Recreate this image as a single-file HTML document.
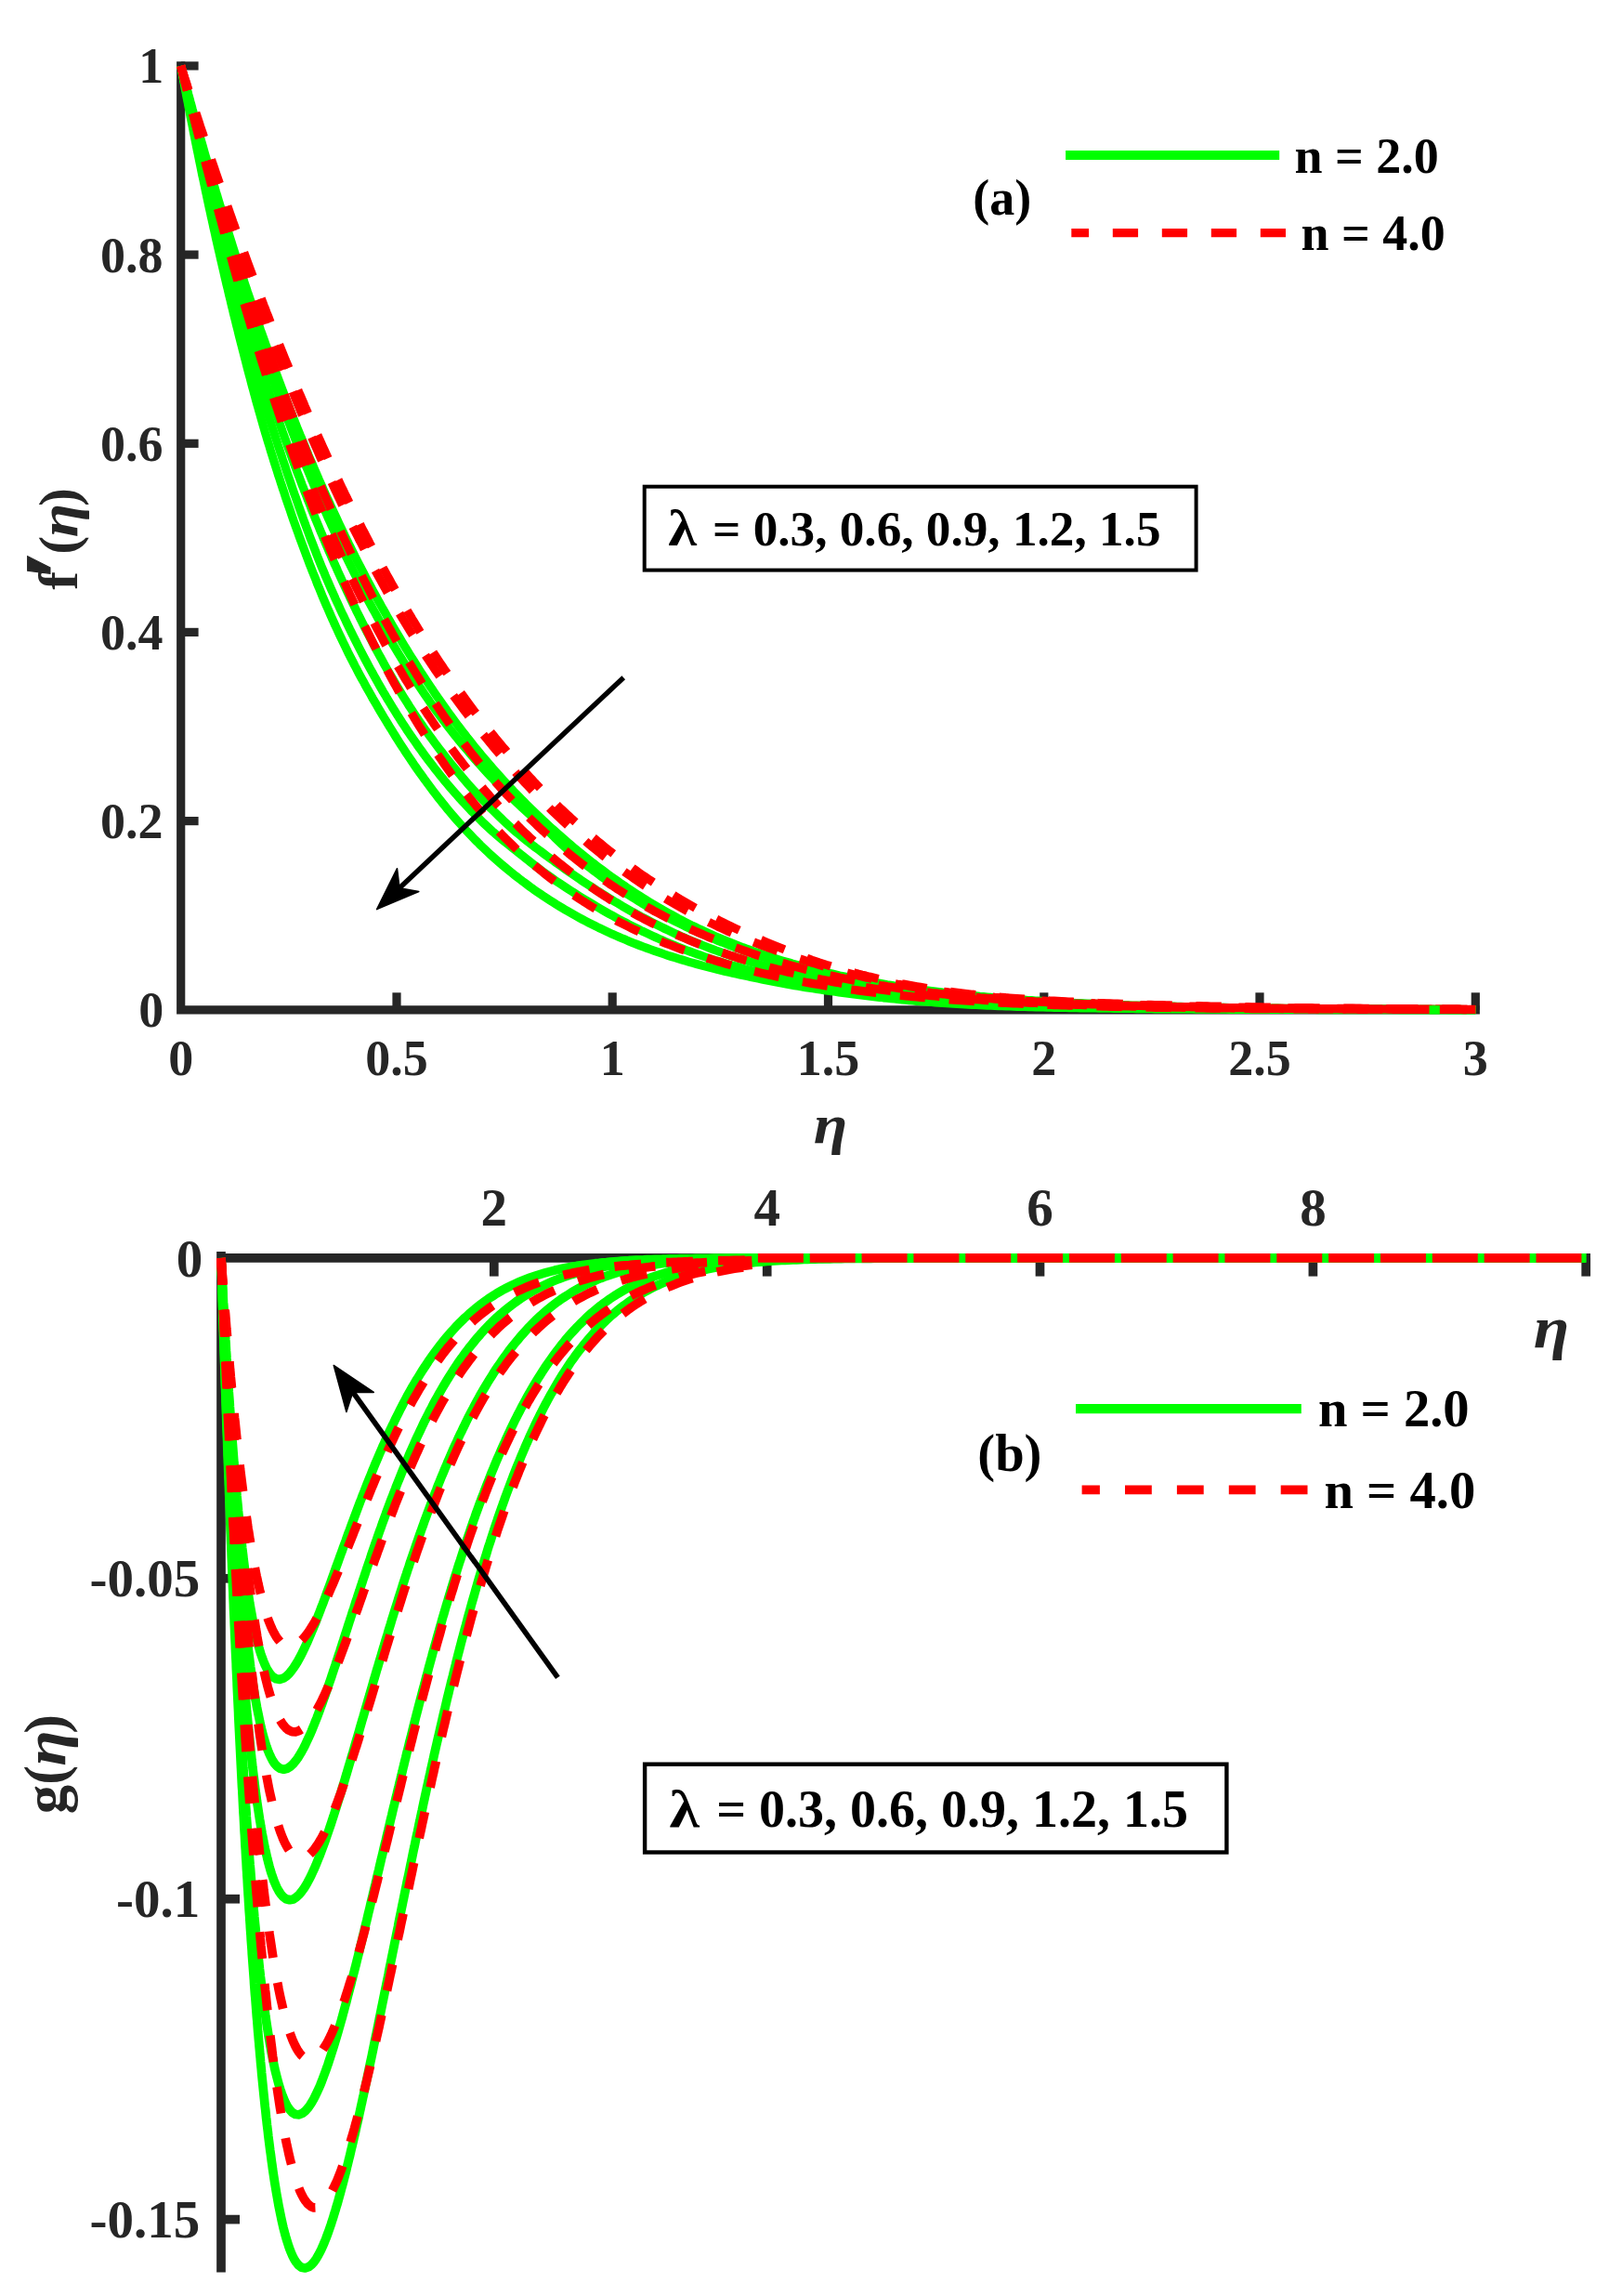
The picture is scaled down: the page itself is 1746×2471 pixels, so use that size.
<!DOCTYPE html>
<html><head><meta charset="utf-8"><title>Velocity profiles</title><style>html,body{margin:0;padding:0;background:#fff}svg{display:block}</style></head><body>
<svg width="1746" height="2471" viewBox="0 0 1746 2471">
<rect width="1746" height="2471" fill="#ffffff"/>
<g stroke="#262626" stroke-width="9.2" fill="none" stroke-linecap="butt">
<path d="M194.7,66.3V1086.8H1592.9" stroke-linejoin="miter"/>
<path d="M194.7,70.9H213.6"/>
<path d="M194.7,274.1H213.6"/>
<path d="M194.7,477.3H213.6"/>
<path d="M194.7,680.4H213.6"/>
<path d="M194.7,883.6H213.6"/>
<path d="M427.0,1086.8V1068.3"/>
<path d="M659.2,1086.8V1068.3"/>
<path d="M891.5,1086.8V1068.3"/>
<path d="M1123.8,1086.8V1068.3"/>
<path d="M1356.0,1086.8V1068.3"/>
<path d="M1588.3,1086.8V1068.3"/>
</g>
<g font-family="'Liberation Serif', 'Times New Roman', serif" font-weight="bold" font-size="54" fill="#262626">
<text x="176.3" y="89.3" text-anchor="end">1</text>
<text x="175.5" y="292.5" text-anchor="end">0.8</text>
<text x="175.5" y="495.7" text-anchor="end">0.6</text>
<text x="175.5" y="698.8" text-anchor="end">0.4</text>
<text x="175.5" y="902.0" text-anchor="end">0.2</text>
<text x="176.3" y="1105.2" text-anchor="end">0</text>
<text x="194.7" y="1157" text-anchor="middle">0</text>
<text x="427.0" y="1157" text-anchor="middle">0.5</text>
<text x="659.2" y="1157" text-anchor="middle">1</text>
<text x="891.5" y="1157" text-anchor="middle">1.5</text>
<text x="1123.8" y="1157" text-anchor="middle">2</text>
<text x="1356.0" y="1157" text-anchor="middle">2.5</text>
<text x="1588.3" y="1157" text-anchor="middle">3</text>
</g>
<g font-family="'Liberation Serif', 'Times New Roman', serif" font-weight="bold" font-size="59.4" fill="#262626" text-anchor="middle" transform="translate(82.6,580) rotate(-90)">
<text x="-44.75" y="0">f</text>
<text transform="translate(-28,15) scale(1.2,1)" font-size="104" stroke="#262626" stroke-width="1">′</text>
<text x="-6.5" y="0">(</text>
<text transform="translate(20.1,0) scale(1.12,1)" font-style="italic">η</text>
<text x="44.8" y="0">)</text>
</g>
<text font-family="'Liberation Serif', 'Times New Roman', serif" font-weight="bold" font-size="59.4" fill="#262626" text-anchor="middle" font-style="italic" transform="translate(894,1230.2) scale(1.12,1)">η</text>
<g fill="none" stroke-width="9.2" stroke-linecap="butt" stroke-linejoin="round">
<path stroke="#00ff00" d="M194.7,70.9L195.7,74.8L196.7,78.7L197.8,82.6L198.8,86.4L199.8,90.3L200.9,94.2L201.9,98.1L202.9,102.0L204.0,105.8L205.0,109.7L206.1,113.6L207.1,117.5L208.2,121.3L209.2,125.2L210.3,129.1L211.4,132.9L212.5,136.8L213.5,140.7L214.6,144.5L215.7,148.4L216.8,152.3L217.9,156.1L219.0,160.0L220.1,163.9L221.2,167.7L222.3,171.6L223.4,175.4L224.5,179.3L225.6,183.2L226.8,187.0L227.9,190.9L229.0,194.7L230.1,198.6L231.3,202.4L232.4,206.3L233.6,210.1L234.7,214.0L235.9,217.8L237.0,221.7L238.2,225.5L239.4,229.3L240.6,233.2L241.7,237.0L242.9,240.9L244.1,244.7L245.3,248.5L246.5,252.4L247.7,256.2L248.9,260.0L250.1,263.9L251.3,267.7L252.5,271.5L253.7,275.3L255.0,279.2L256.2,283.0L257.4,286.8L258.7,290.6L259.9,294.4L261.2,298.3L262.4,302.1L263.7,305.9L265.0,309.7L266.2,313.5L267.5,317.3L268.8,321.1L270.1,324.9L271.4,328.7L272.7,332.5L274.0,336.3L275.3,340.1L276.6,343.9L277.9,347.7L279.2,351.5L280.5,355.3L281.9,359.1L283.2,362.9L284.6,366.7L285.9,370.4L287.3,374.2L288.6,378.0L290.0,381.8L291.3,385.5L292.7,389.3L294.1,393.1L295.5,396.9L296.9,400.6L298.3,404.4L299.7,408.1L301.1,411.9L302.5,415.7L303.9,419.4L305.4,423.2L306.8,426.9L308.2,430.7L309.7,434.4L311.2,438.2L312.6,441.9L314.1,445.6L315.6,449.4L317.0,453.1L318.5,456.8L320.0,460.6L321.5,464.3L323.0,468.0L324.6,471.7L326.1,475.4L327.6,479.1L329.2,482.9L330.7,486.6L332.2,490.3L333.8,494.0L335.4,497.7L337.0,501.4L338.5,505.0L340.1,508.7L341.7,512.4L343.3,516.1L345.0,519.8L346.6,523.4L348.2,527.1L349.8,530.8L351.5,534.4L353.2,538.1L354.8,541.8L356.5,545.4L358.2,549.0L359.9,552.7L361.6,556.3L363.3,560.0L365.0,563.6L366.7,567.2L368.4,570.8L370.2,574.5L371.9,578.1L373.7,581.7L375.4,585.3L377.2,588.9L379.0,592.5L380.8,596.1L382.6,599.7L384.4,603.3L386.2,606.8L388.1,610.4L389.9,614.0L391.8,617.5L393.6,621.1L395.5,624.6L397.4,628.2L399.3,631.7L401.2,635.3L403.1,638.8L405.0,642.3L406.9,645.9L408.9,649.4L410.8,652.9L412.8,656.4L414.8,659.9L416.7,663.4L418.7,666.9L420.7,670.4L422.7,673.8L424.8,677.3L426.8,680.8L428.8,684.2L430.9,687.7L432.9,691.1L435.0,694.6L437.1,698.0L439.2,701.4L441.3,704.8L443.4,708.2L445.6,711.6L447.7,715.0L449.9,718.4L452.0,721.8L454.2,725.2L456.4,728.5L458.6,731.9L460.8,735.3L463.0,738.6L465.3,741.9L467.5,745.2L469.8,748.6L472.1,751.9L474.4,755.2L476.7,758.4L479.0,761.7L481.3,765.0L483.7,768.2L486.1,771.5L488.4,774.7L490.8,777.9L493.2,781.2L495.7,784.4L498.1,787.5L500.6,790.7L503.0,793.9L505.5,797.0L508.0,800.2L510.5,803.3L513.1,806.4L515.6,809.5L518.2,812.6L520.8,815.7L523.4,818.8L526.0,821.8L528.6,824.8L531.2,827.9L533.9,830.9L536.6,833.9L539.3,836.9L542.0,839.8L544.7,842.8L547.4,845.7L550.2,848.6L552.9,851.6L555.7,854.5L558.5,857.3L561.3,860.2L564.2,863.1L567.0,865.9L569.9,868.7L572.7,871.5L575.6,874.3L578.5,877.1L581.4,879.9L584.3,882.6L587.3,885.4L590.2,888.1L593.2,890.8L596.2,893.5L599.2,896.2L602.2,898.8L605.2,901.5L608.2,904.1L611.3,906.7L614.3,909.3L617.4,911.9L620.5,914.5L623.6,917.0L626.7,919.6L629.8,922.1L633.0,924.6L636.1,927.1L639.3,929.5L642.5,932.0L645.7,934.4L648.9,936.8L652.1,939.2L655.4,941.6L658.6,943.9L661.9,946.3L665.2,948.6L668.4,950.9L671.8,953.1L675.1,955.4L678.4,957.6L681.8,959.8L685.1,962.0L688.5,964.2L691.9,966.4L695.3,968.5L698.7,970.6L702.2,972.7L705.6,974.7L709.1,976.7L712.6,978.8L716.1,980.7L719.6,982.7L723.1,984.6L726.6,986.6L730.1,988.5L733.7,990.3L737.3,992.2L740.8,994.0L744.4,995.8L748.0,997.5L751.7,999.3L755.3,1001.0L758.9,1002.7L762.6,1004.4L766.2,1006.0L769.9,1007.6L773.6,1009.2L777.3,1010.8L781.0,1012.3L784.7,1013.8L788.5,1015.3L792.2,1016.8L795.9,1018.2L799.7,1019.7L803.5,1021.0L807.2,1022.4L811.0,1023.8L814.8,1025.1L818.6,1026.4L822.4,1027.7L826.2,1028.9L830.1,1030.2L833.9,1031.4L837.7,1032.6L841.6,1033.8L845.4,1034.9L849.3,1036.0L853.1,1037.2L857.0,1038.2L860.8,1039.3L864.7,1040.4L868.6,1041.4L872.5,1042.4L876.4,1043.4L880.3,1044.4L884.2,1045.3L888.1,1046.3L892.0,1047.2L895.9,1048.1L899.8,1049.0L903.7,1049.9L907.7,1050.7L911.6,1051.6L915.5,1052.4L919.5,1053.2L923.4,1054.0L927.3,1054.7L931.3,1055.5L935.2,1056.2L939.2,1056.9L943.1,1057.6L947.1,1058.3L951.0,1059.0L955.0,1059.7L959.0,1060.3L962.9,1061.0L966.9,1061.6L970.9,1062.2L974.8,1062.8L978.8,1063.4L982.8,1063.9L986.8,1064.5L990.7,1065.0L994.7,1065.6L998.7,1066.1L1002.7,1066.6L1006.7,1067.1L1010.7,1067.6L1014.6,1068.1L1018.6,1068.5L1022.6,1069.0L1026.6,1069.4L1030.6,1069.9L1034.6,1070.3L1038.6,1070.7L1042.6,1071.1L1046.6,1071.5L1050.6,1071.9L1054.6,1072.3L1058.6,1072.6L1062.6,1073.0L1066.6,1073.4L1070.6,1073.7L1074.6,1074.0L1078.6,1074.4L1082.6,1074.7L1086.6,1075.0L1090.6,1075.3L1094.6,1075.6L1098.6,1075.9L1102.6,1076.2L1106.6,1076.5L1110.6,1076.7L1114.6,1077.0L1118.6,1077.2L1122.6,1077.5L1126.6,1077.7L1130.7,1078.0L1134.7,1078.2L1138.7,1078.4L1142.7,1078.7L1146.7,1078.9L1150.7,1079.1L1154.7,1079.3L1158.7,1079.5L1162.7,1079.7L1166.7,1079.9L1170.8,1080.1L1174.8,1080.2L1178.8,1080.4L1182.8,1080.6L1186.8,1080.8L1190.8,1080.9L1194.8,1081.1L1198.8,1081.2L1202.9,1081.4L1206.9,1081.5L1210.9,1081.7L1214.9,1081.8L1218.9,1082.0L1222.9,1082.1L1226.9,1082.2L1230.9,1082.3L1235.0,1082.5L1239.0,1082.6L1243.0,1082.7L1247.0,1082.8L1251.0,1082.9L1255.0,1083.0L1259.0,1083.1L1263.1,1083.2L1267.1,1083.3L1271.1,1083.4L1275.1,1083.5L1279.1,1083.6L1283.1,1083.7L1287.1,1083.8L1291.2,1083.9L1295.2,1084.0L1299.2,1084.0L1303.2,1084.1L1307.2,1084.2L1311.2,1084.3L1315.2,1084.3L1319.3,1084.4L1323.3,1084.5L1327.3,1084.6L1331.3,1084.6L1335.3,1084.7L1339.3,1084.7L1343.4,1084.8L1347.4,1084.9L1351.4,1084.9L1355.4,1085.0L1359.4,1085.0L1363.4,1085.1L1367.4,1085.1L1371.5,1085.2L1375.5,1085.2L1379.5,1085.3L1383.5,1085.3L1387.5,1085.4L1391.5,1085.4L1395.5,1085.4L1399.6,1085.5L1403.6,1085.5L1407.6,1085.6L1411.6,1085.6L1415.6,1085.6L1419.6,1085.7L1423.7,1085.7L1427.7,1085.7L1431.7,1085.8L1435.7,1085.8L1439.7,1085.8L1443.7,1085.9L1447.7,1085.9L1451.8,1085.9L1455.8,1085.9L1459.8,1086.0L1463.8,1086.0L1467.8,1086.0L1471.8,1086.0L1475.9,1086.1L1479.9,1086.1L1483.9,1086.1L1487.9,1086.1L1491.9,1086.1L1495.9,1086.2L1499.9,1086.2L1504.0,1086.2L1508.0,1086.2L1512.0,1086.2L1516.0,1086.3L1520.0,1086.3L1524.0,1086.3L1528.1,1086.3L1532.1,1086.3L1536.1,1086.3L1540.1,1086.3L1544.1,1086.4L1548.1,1086.4L1552.2,1086.4L1556.2,1086.4L1560.2,1086.4L1564.2,1086.4L1568.2,1086.4L1572.2,1086.4L1576.2,1086.5L1580.3,1086.5L1584.3,1086.5L1588.3,1086.5"/>
<path stroke="#00ff00" d="M194.7,70.9L195.7,74.8L196.6,78.7L197.6,82.6L198.5,86.5L199.5,90.4L200.5,94.3L201.5,98.2L202.4,102.1L203.4,105.9L204.4,109.8L205.4,113.7L206.4,117.6L207.4,121.5L208.4,125.4L209.4,129.3L210.4,133.2L211.4,137.0L212.4,140.9L213.4,144.8L214.5,148.7L215.5,152.6L216.5,156.4L217.5,160.3L218.6,164.2L219.6,168.1L220.7,172.0L221.7,175.8L222.8,179.7L223.8,183.6L224.9,187.4L225.9,191.3L227.0,195.2L228.1,199.0L229.2,202.9L230.2,206.8L231.3,210.6L232.4,214.5L233.5,218.4L234.6,222.2L235.7,226.1L236.8,229.9L237.9,233.8L239.0,237.6L240.2,241.5L241.3,245.4L242.4,249.2L243.5,253.1L244.7,256.9L245.8,260.8L247.0,264.6L248.1,268.4L249.3,272.3L250.4,276.1L251.6,280.0L252.8,283.8L253.9,287.6L255.1,291.5L256.3,295.3L257.5,299.1L258.7,303.0L259.9,306.8L261.1,310.6L262.3,314.5L263.5,318.3L264.7,322.1L265.9,325.9L267.2,329.8L268.4,333.6L269.7,337.4L270.9,341.2L272.1,345.0L273.4,348.8L274.7,352.6L275.9,356.4L277.2,360.2L278.5,364.1L279.8,367.9L281.1,371.7L282.4,375.5L283.7,379.2L285.0,383.0L286.3,386.8L287.6,390.6L288.9,394.4L290.2,398.2L291.6,402.0L292.9,405.8L294.3,409.5L295.6,413.3L297.0,417.1L298.4,420.9L299.7,424.6L301.1,428.4L302.5,432.2L303.9,435.9L305.3,439.7L306.7,443.5L308.1,447.2L309.5,451.0L311.0,454.7L312.4,458.5L313.8,462.2L315.3,466.0L316.7,469.7L318.2,473.4L319.7,477.2L321.1,480.9L322.6,484.6L324.1,488.4L325.6,492.1L327.1,495.8L328.6,499.5L330.1,503.2L331.7,506.9L333.2,510.6L334.7,514.4L336.3,518.1L337.8,521.8L339.4,525.5L341.0,529.1L342.6,532.8L344.1,536.5L345.7,540.2L347.3,543.9L348.9,547.6L350.6,551.2L352.2,554.9L353.8,558.6L355.5,562.2L357.1,565.9L358.8,569.5L360.5,573.2L362.1,576.8L363.8,580.5L365.5,584.1L367.2,587.7L369.0,591.4L370.7,595.0L372.4,598.6L374.2,602.2L375.9,605.8L377.7,609.4L379.5,613.0L381.3,616.6L383.1,620.2L384.9,623.8L386.7,627.4L388.5,630.9L390.3,634.5L392.2,638.1L394.1,641.6L395.9,645.2L397.8,648.7L399.7,652.2L401.6,655.8L403.6,659.3L405.5,662.8L407.4,666.3L409.4,669.8L411.4,673.3L413.3,676.8L415.3,680.3L417.3,683.8L419.3,687.2L421.4,690.7L423.4,694.2L425.5,697.6L427.5,701.0L429.6,704.5L431.7,707.9L433.8,711.3L435.9,714.7L438.0,718.1L440.2,721.5L442.3,724.9L444.5,728.3L446.7,731.6L448.9,735.0L451.1,738.3L453.4,741.7L455.6,745.0L457.9,748.3L460.2,751.6L462.4,754.9L464.8,758.2L467.1,761.5L469.4,764.7L471.8,768.0L474.2,771.2L476.6,774.4L479.0,777.6L481.4,780.8L483.9,784.0L486.4,787.1L488.9,790.3L491.4,793.4L493.9,796.5L496.4,799.6L499.0,802.7L501.6,805.8L504.2,808.9L506.8,811.9L509.4,814.9L512.0,818.0L514.7,821.0L517.4,823.9L520.1,826.9L522.8,829.9L525.5,832.8L528.3,835.7L531.1,838.6L533.8,841.5L536.6,844.4L539.4,847.3L542.3,850.1L545.1,852.9L548.0,855.8L550.9,858.6L553.8,861.3L556.7,864.1L559.6,866.8L562.5,869.6L565.5,872.3L568.5,875.0L571.4,877.7L574.4,880.3L577.4,883.0L580.5,885.6L583.5,888.3L586.4,891.0L589.3,893.8L592.2,896.5L595.1,899.3L598.0,902.1L600.9,904.9L603.8,907.7L606.7,910.4L609.7,913.1L612.7,915.8L615.8,918.4L618.8,921.0L621.9,923.5L625.0,926.1L628.2,928.6L631.3,931.1L634.5,933.5L637.6,936.0L640.8,938.4L644.1,940.8L647.3,943.2L650.5,945.5L653.8,947.9L657.1,950.2L660.4,952.5L663.7,954.7L667.1,956.9L670.4,959.1L673.8,961.3L677.2,963.5L680.6,965.6L684.0,967.7L687.4,969.8L690.8,971.9L694.3,973.9L697.8,975.9L701.3,977.9L704.8,979.9L708.3,981.8L711.8,983.7L715.3,985.6L718.9,987.5L722.5,989.3L726.0,991.1L729.6,992.9L733.2,994.7L736.8,996.5L740.5,998.2L744.1,999.9L747.7,1001.6L751.4,1003.2L755.1,1004.8L758.7,1006.4L762.4,1008.0L766.1,1009.6L769.8,1011.1L773.5,1012.7L777.3,1014.1L781.0,1015.6L784.7,1017.1L788.5,1018.5L792.2,1019.9L796.0,1021.3L799.8,1022.7L803.6,1024.0L807.4,1025.3L811.1,1026.7L814.9,1027.9L818.8,1029.2L822.6,1030.4L826.4,1031.7L830.2,1032.9L834.1,1034.0L837.9,1035.2L841.7,1036.3L845.6,1037.5L849.5,1038.6L853.3,1039.6L857.2,1040.7L861.1,1041.7L865.0,1042.8L868.8,1043.8L872.7,1044.7L876.6,1045.7L880.5,1046.7L884.4,1047.6L888.3,1048.5L892.2,1049.4L896.2,1050.3L900.1,1051.1L904.0,1052.0L907.9,1052.8L911.9,1053.6L915.8,1054.4L919.7,1055.2L923.7,1055.9L927.6,1056.7L931.6,1057.4L935.5,1058.1L939.5,1058.8L943.4,1059.5L947.4,1060.2L951.3,1060.8L955.3,1061.5L959.3,1062.1L963.2,1062.7L967.2,1063.3L971.2,1063.9L975.1,1064.5L979.1,1065.0L983.1,1065.6L987.1,1066.1L991.0,1066.6L995.0,1067.1L999.0,1067.6L1003.0,1068.1L1007.0,1068.6L1011.0,1069.1L1014.9,1069.5L1018.9,1070.0L1022.9,1070.4L1026.9,1070.8L1030.9,1071.2L1034.9,1071.6L1038.9,1072.0L1042.9,1072.4L1046.9,1072.8L1050.9,1073.2L1054.9,1073.5L1058.9,1073.9L1062.9,1074.2L1066.9,1074.5L1070.9,1074.9L1074.9,1075.2L1078.9,1075.5L1082.9,1075.8L1086.9,1076.1L1090.9,1076.4L1094.9,1076.6L1098.9,1076.9L1102.9,1077.2L1106.9,1077.4L1110.9,1077.7L1114.9,1077.9L1118.9,1078.2L1122.9,1078.4L1126.9,1078.6L1130.9,1078.8L1134.9,1079.1L1138.9,1079.3L1143.0,1079.5L1147.0,1079.7L1151.0,1079.9L1155.0,1080.0L1159.0,1080.2L1163.0,1080.4L1167.0,1080.6L1171.0,1080.8L1175.0,1080.9L1179.0,1081.1L1183.0,1081.2L1187.1,1081.4L1191.1,1081.5L1195.1,1081.7L1199.1,1081.8L1203.1,1082.0L1207.1,1082.1L1211.1,1082.2L1215.1,1082.4L1219.1,1082.5L1223.1,1082.6L1227.2,1082.7L1231.2,1082.8L1235.2,1082.9L1239.2,1083.1L1243.2,1083.2L1247.2,1083.3L1251.2,1083.4L1255.2,1083.5L1259.3,1083.6L1263.3,1083.6L1267.3,1083.7L1271.3,1083.8L1275.3,1083.9L1279.3,1084.0L1283.3,1084.1L1287.3,1084.2L1291.3,1084.2L1295.4,1084.3L1299.4,1084.4L1303.4,1084.4L1307.4,1084.5L1311.4,1084.6L1315.4,1084.6L1319.4,1084.7L1323.4,1084.8L1327.5,1084.8L1331.5,1084.9L1335.5,1084.9L1339.5,1085.0L1343.5,1085.0L1347.5,1085.1L1351.5,1085.1L1355.5,1085.2L1359.6,1085.2L1363.6,1085.3L1367.6,1085.3L1371.6,1085.4L1375.6,1085.4L1379.6,1085.5L1383.6,1085.5L1387.6,1085.5L1391.7,1085.6L1395.7,1085.6L1399.7,1085.6L1403.7,1085.7L1407.7,1085.7L1411.7,1085.7L1415.7,1085.8L1419.7,1085.8L1423.8,1085.8L1427.8,1085.9L1431.8,1085.9L1435.8,1085.9L1439.8,1086.0L1443.8,1086.0L1447.8,1086.0L1451.9,1086.0L1455.9,1086.0L1459.9,1086.1L1463.9,1086.1L1467.9,1086.1L1471.9,1086.1L1475.9,1086.2L1479.9,1086.2L1484.0,1086.2L1488.0,1086.2L1492.0,1086.2L1496.0,1086.3L1500.0,1086.3L1504.0,1086.3L1508.0,1086.3L1512.0,1086.3L1516.1,1086.3L1520.1,1086.3L1524.1,1086.4L1528.1,1086.4L1532.1,1086.4L1536.1,1086.4L1540.1,1086.4L1544.1,1086.4L1548.2,1086.4L1552.2,1086.4L1556.2,1086.5L1560.2,1086.5L1564.2,1086.5L1568.2,1086.5L1572.2,1086.5L1576.3,1086.5L1580.3,1086.5L1584.3,1086.5L1588.3,1086.5"/>
<path stroke="#00ff00" d="M194.7,70.9L195.6,74.8L196.5,78.7L197.3,82.7L198.2,86.6L199.1,90.5L200.0,94.4L200.9,98.3L201.8,102.2L202.7,106.1L203.6,110.1L204.5,114.0L205.4,117.9L206.3,121.8L207.3,125.7L208.2,129.6L209.1,133.5L210.0,137.4L211.0,141.3L211.9,145.2L212.8,149.1L213.8,153.0L214.7,157.0L215.7,160.9L216.6,164.8L217.6,168.7L218.5,172.6L219.5,176.5L220.5,180.4L221.4,184.2L222.4,188.1L223.4,192.0L224.4,195.9L225.4,199.8L226.4,203.7L227.3,207.6L228.3,211.5L229.3,215.4L230.4,219.3L231.4,223.2L232.4,227.1L233.4,230.9L234.4,234.8L235.4,238.7L236.5,242.6L237.5,246.5L238.5,250.3L239.6,254.2L240.6,258.1L241.7,262.0L242.7,265.9L243.8,269.7L244.9,273.6L245.9,277.5L247.0,281.3L248.1,285.2L249.2,289.1L250.2,292.9L251.3,296.8L252.4,300.7L253.5,304.5L254.6,308.4L255.7,312.3L256.9,316.1L258.0,320.0L259.1,323.8L260.2,327.7L261.4,331.5L262.5,335.4L263.6,339.2L264.8,343.1L265.9,346.9L267.1,350.8L268.3,354.6L269.4,358.5L270.6,362.3L271.8,366.1L273.0,370.0L274.2,373.8L275.4,377.6L276.6,381.5L277.8,385.3L279.0,389.1L280.2,393.0L281.4,396.8L282.6,400.6L283.9,404.4L285.1,408.3L286.4,412.1L287.6,415.9L288.9,419.7L290.1,423.5L291.4,427.3L292.7,431.1L294.0,434.9L295.3,438.7L296.5,442.5L297.8,446.3L299.2,450.1L300.5,453.9L301.8,457.7L303.1,461.5L304.4,465.3L305.8,469.1L307.1,472.9L308.5,476.7L309.8,480.4L311.2,484.2L312.6,488.0L314.0,491.8L315.3,495.5L316.7,499.3L318.1,503.1L319.5,506.8L320.9,510.6L322.4,514.3L323.8,518.1L325.2,521.9L326.7,525.6L328.1,529.3L329.6,533.1L331.0,536.8L332.5,540.6L334.0,544.3L335.4,548.0L336.9,551.8L338.4,555.5L339.9,559.2L341.5,562.9L343.0,566.6L344.5,570.4L346.1,574.1L347.6,577.8L349.2,581.5L350.7,585.2L352.3,588.9L353.9,592.6L355.5,596.2L357.1,599.9L358.7,603.6L360.3,607.3L362.0,610.9L363.6,614.6L365.3,618.3L366.9,621.9L368.6,625.6L370.3,629.2L372.0,632.9L373.7,636.5L375.4,640.1L377.1,643.7L378.9,647.4L380.6,651.0L382.4,654.6L384.1,658.2L385.9,661.8L387.7,665.4L389.5,669.0L391.3,672.6L393.1,676.2L394.9,679.8L396.8,683.3L398.6,686.9L400.5,690.4L402.3,694.0L404.2,697.5L406.1,701.1L408.0,704.6L410.0,708.1L411.9,711.7L413.8,715.2L415.8,718.7L417.8,722.2L419.8,725.6L421.8,729.1L423.8,732.6L425.9,736.1L427.9,739.5L430.0,742.9L432.1,746.4L434.2,749.8L436.3,753.2L438.5,756.6L440.6,760.0L442.8,763.3L445.0,766.7L447.2,770.1L449.5,773.4L451.7,776.7L454.0,780.0L456.3,783.3L458.6,786.6L461.0,789.8L463.3,793.1L465.7,796.3L468.1,799.6L470.5,802.8L472.9,806.0L475.4,809.2L477.8,812.3L480.3,815.5L482.8,818.6L485.3,821.8L487.9,824.9L490.4,828.0L493.0,831.1L495.6,834.1L498.2,837.2L500.8,840.2L503.4,843.3L506.1,846.3L508.8,849.3L511.5,852.2L514.2,855.2L517.0,858.1L519.7,861.0L522.5,863.9L525.3,866.8L528.1,869.7L531.0,872.5L533.8,875.3L536.7,878.1L539.6,880.9L542.5,883.7L545.4,886.4L548.4,889.1L551.4,891.8L554.4,894.4L557.5,897.0L560.6,899.6L563.7,902.1L566.8,904.6L570.0,907.1L573.2,909.6L576.3,912.0L579.6,914.4L582.8,916.8L586.0,919.2L589.2,921.6L592.5,924.0L595.8,926.3L599.0,928.7L602.3,931.0L605.5,933.3L608.8,935.7L612.1,938.0L615.4,940.3L618.7,942.5L622.0,944.8L625.3,947.1L628.7,949.3L632.0,951.5L635.4,953.7L638.8,955.9L642.1,958.1L645.5,960.2L648.9,962.4L652.3,964.5L655.7,966.6L659.2,968.7L662.6,970.8L666.1,972.8L669.5,974.9L673.0,976.9L676.5,978.9L680.0,980.9L683.5,982.8L687.0,984.8L690.5,986.7L694.1,988.6L697.6,990.4L701.2,992.3L704.8,994.1L708.3,995.9L711.9,997.7L715.6,999.5L719.2,1001.2L722.8,1002.9L726.4,1004.6L730.1,1006.3L733.8,1007.9L737.4,1009.5L741.1,1011.1L744.8,1012.7L748.5,1014.2L752.3,1015.8L756.0,1017.3L759.7,1018.7L763.5,1020.2L767.2,1021.6L771.0,1023.0L774.8,1024.3L778.6,1025.7L782.4,1027.0L786.2,1028.3L790.0,1029.5L793.8,1030.8L797.6,1032.0L801.5,1033.2L805.3,1034.3L809.1,1035.5L813.0,1036.6L816.9,1037.7L820.7,1038.8L824.6,1039.9L828.5,1040.9L832.4,1041.9L836.2,1042.9L840.1,1043.9L844.0,1044.9L847.9,1045.9L851.8,1046.8L855.8,1047.7L859.7,1048.6L863.6,1049.5L867.5,1050.4L871.4,1051.2L875.4,1052.1L879.3,1052.9L883.2,1053.7L887.2,1054.5L891.1,1055.2L895.0,1056.0L899.0,1056.7L902.9,1057.5L906.9,1058.2L910.9,1058.9L914.8,1059.5L918.8,1060.2L922.7,1060.9L926.7,1061.5L930.7,1062.1L934.6,1062.7L938.6,1063.3L942.6,1063.9L946.6,1064.5L950.5,1065.0L954.5,1065.6L958.5,1066.1L962.5,1066.6L966.5,1067.1L970.4,1067.6L974.4,1068.1L978.4,1068.6L982.4,1069.1L986.4,1069.5L990.4,1070.0L994.4,1070.4L998.4,1070.8L1002.4,1071.2L1006.4,1071.6L1010.4,1072.0L1014.4,1072.4L1018.4,1072.8L1022.4,1073.2L1026.4,1073.5L1030.4,1073.9L1034.4,1074.2L1038.4,1074.6L1042.4,1074.9L1046.4,1075.2L1050.4,1075.5L1054.4,1075.8L1058.4,1076.1L1062.4,1076.4L1066.4,1076.7L1070.4,1076.9L1074.4,1077.2L1078.4,1077.5L1082.4,1077.7L1086.4,1078.0L1090.4,1078.2L1094.4,1078.4L1098.5,1078.7L1102.5,1078.9L1106.5,1079.1L1110.5,1079.3L1114.5,1079.5L1118.5,1079.7L1122.5,1079.9L1126.5,1080.1L1130.5,1080.3L1134.6,1080.4L1138.6,1080.6L1142.6,1080.8L1146.6,1081.0L1150.6,1081.1L1154.6,1081.3L1158.6,1081.4L1162.6,1081.6L1166.7,1081.7L1170.7,1081.9L1174.7,1082.0L1178.7,1082.1L1182.7,1082.3L1186.7,1082.4L1190.7,1082.5L1194.8,1082.6L1198.8,1082.8L1202.8,1082.9L1206.8,1083.0L1210.8,1083.1L1214.8,1083.2L1218.8,1083.3L1222.9,1083.4L1226.9,1083.5L1230.9,1083.6L1234.9,1083.7L1238.9,1083.8L1242.9,1083.9L1246.9,1083.9L1251.0,1084.0L1255.0,1084.1L1259.0,1084.2L1263.0,1084.3L1267.0,1084.3L1271.0,1084.4L1275.1,1084.5L1279.1,1084.5L1283.1,1084.6L1287.1,1084.7L1291.1,1084.7L1295.1,1084.8L1299.1,1084.9L1303.2,1084.9L1307.2,1085.0L1311.2,1085.0L1315.2,1085.1L1319.2,1085.1L1323.2,1085.2L1327.3,1085.2L1331.3,1085.3L1335.3,1085.3L1339.3,1085.4L1343.3,1085.4L1347.3,1085.5L1351.4,1085.5L1355.4,1085.5L1359.4,1085.6L1363.4,1085.6L1367.4,1085.6L1371.4,1085.7L1375.4,1085.7L1379.5,1085.7L1383.5,1085.8L1387.5,1085.8L1391.5,1085.8L1395.5,1085.9L1399.5,1085.9L1403.6,1085.9L1407.6,1086.0L1411.6,1086.0L1415.6,1086.0L1419.6,1086.0L1423.6,1086.1L1427.7,1086.1L1431.7,1086.1L1435.7,1086.1L1439.7,1086.1L1443.7,1086.2L1447.7,1086.2L1451.7,1086.2L1455.8,1086.2L1459.8,1086.2L1463.8,1086.3L1467.8,1086.3L1471.8,1086.3L1475.8,1086.3L1479.9,1086.3L1483.9,1086.3L1487.9,1086.4L1491.9,1086.4L1495.9,1086.4L1499.9,1086.4L1504.0,1086.4L1508.0,1086.4L1512.0,1086.4L1516.0,1086.4L1520.0,1086.5L1524.0,1086.5L1528.1,1086.5L1532.1,1086.5L1536.1,1086.5L1540.1,1086.5L1544.1,1086.5L1548.1,1086.5L1552.1,1086.5L1556.2,1086.5L1560.2,1086.6L1564.2,1086.6L1568.2,1086.6L1572.2,1086.6L1576.2,1086.6L1580.3,1086.6L1584.3,1086.6L1588.3,1086.6"/>
<path stroke="#00ff00" d="M194.7,70.9L195.5,74.8L196.3,78.8L197.1,82.7L197.9,86.6L198.7,90.6L199.6,94.5L200.4,98.4L201.2,102.4L202.0,106.3L202.8,110.2L203.7,114.2L204.5,118.1L205.4,122.0L206.2,125.9L207.0,129.9L207.9,133.8L208.7,137.7L209.6,141.6L210.4,145.6L211.3,149.5L212.2,153.4L213.0,157.3L213.9,161.2L214.8,165.2L215.7,169.1L216.5,173.0L217.4,176.9L218.3,180.8L219.2,184.8L220.1,188.7L221.0,192.6L221.9,196.5L222.8,200.4L223.7,204.3L224.6,208.2L225.5,212.1L226.5,216.1L227.4,220.0L228.3,223.9L229.2,227.8L230.2,231.7L231.1,235.6L232.1,239.5L233.0,243.4L234.0,247.3L234.9,251.2L235.9,255.1L236.8,259.0L237.8,262.9L238.8,266.8L239.7,270.7L240.7,274.6L241.7,278.5L242.7,282.4L243.7,286.3L244.7,290.2L245.7,294.0L246.7,297.9L247.7,301.8L248.7,305.7L249.7,309.6L250.7,313.5L251.7,317.4L252.8,321.2L253.8,325.1L254.8,329.0L255.9,332.9L256.9,336.8L258.0,340.6L259.0,344.5L260.1,348.4L261.2,352.2L262.2,356.1L263.3,360.0L264.4,363.9L265.5,367.7L266.6,371.6L267.7,375.5L268.8,379.3L269.9,383.2L271.0,387.0L272.1,390.9L273.2,394.7L274.4,398.6L275.5,402.5L276.6,406.3L277.8,410.2L278.9,414.0L280.1,417.9L281.2,421.7L282.4,425.5L283.6,429.4L284.7,433.2L285.9,437.1L287.1,440.9L288.3,444.7L289.5,448.6L290.7,452.4L291.9,456.2L293.1,460.1L294.4,463.9L295.6,467.7L296.8,471.5L298.1,475.3L299.3,479.2L300.6,483.0L301.8,486.8L303.1,490.6L304.3,494.4L305.6,498.2L306.9,502.0L308.1,505.8L309.4,509.7L310.7,513.5L312.0,517.3L313.3,521.1L314.6,524.9L315.9,528.7L317.2,532.4L318.6,536.2L319.9,540.0L321.2,543.8L322.6,547.6L323.9,551.4L325.3,555.2L326.6,558.9L328.0,562.7L329.4,566.5L330.8,570.2L332.2,574.0L333.6,577.8L335.0,581.5L336.5,585.3L337.9,589.0L339.4,592.8L340.8,596.5L342.3,600.2L343.8,604.0L345.3,607.7L346.8,611.4L348.4,615.1L349.9,618.8L351.5,622.5L353.1,626.2L354.7,629.9L356.3,633.6L357.9,637.2L359.6,640.9L361.2,644.6L362.9,648.2L364.6,651.9L366.2,655.5L367.9,659.2L369.7,662.8L371.4,666.4L373.1,670.0L374.9,673.7L376.6,677.3L378.4,680.9L380.2,684.5L382.0,688.1L383.8,691.6L385.6,695.2L387.4,698.8L389.3,702.4L391.1,705.9L393.0,709.5L394.9,713.0L396.8,716.6L398.7,720.1L400.7,723.6L402.6,727.1L404.6,730.6L406.5,734.1L408.5,737.6L410.5,741.1L412.5,744.6L414.6,748.0L416.6,751.5L418.7,754.9L420.8,758.3L422.9,761.8L425.0,765.2L427.1,768.6L429.3,772.0L431.4,775.4L433.6,778.7L435.8,782.1L438.0,785.5L440.3,788.8L442.5,792.1L444.8,795.4L447.1,798.7L449.4,802.0L451.7,805.3L454.1,808.5L456.4,811.8L458.8,815.0L461.2,818.2L463.7,821.4L466.1,824.6L468.6,827.8L471.1,830.9L473.6,834.1L476.1,837.2L478.6,840.3L481.2,843.4L483.8,846.5L486.4,849.5L489.0,852.5L491.7,855.6L494.4,858.6L497.1,861.5L499.8,864.5L502.5,867.4L505.3,870.4L508.0,873.3L510.8,876.1L513.7,879.0L516.5,881.8L519.4,884.7L522.2,887.4L525.2,890.2L528.1,892.9L531.1,895.6L534.2,898.2L537.2,900.8L540.3,903.4L543.4,905.9L546.6,908.4L549.7,910.9L552.8,913.4L556.0,915.9L559.1,918.4L562.3,920.9L565.4,923.4L568.6,925.9L571.7,928.4L574.9,930.9L578.1,933.3L581.3,935.7L584.5,938.1L587.8,940.5L591.0,942.8L594.3,945.1L597.6,947.4L600.9,949.7L604.3,951.9L607.6,954.1L611.0,956.3L614.3,958.5L617.7,960.7L621.1,962.8L624.5,965.0L627.9,967.1L631.3,969.2L634.8,971.3L638.2,973.3L641.7,975.4L645.1,977.4L648.6,979.4L652.1,981.4L655.6,983.4L659.1,985.3L662.6,987.3L666.2,989.2L669.7,991.1L673.3,992.9L676.8,994.8L680.4,996.6L684.0,998.4L687.6,1000.2L691.2,1002.0L694.8,1003.7L698.5,1005.4L702.1,1007.1L705.8,1008.8L709.4,1010.4L713.1,1012.0L716.8,1013.6L720.5,1015.2L724.2,1016.7L727.9,1018.3L731.6,1019.7L735.4,1021.2L739.1,1022.7L742.9,1024.1L746.6,1025.5L750.4,1026.9L754.2,1028.2L758.0,1029.5L761.8,1030.8L765.6,1032.1L769.4,1033.3L773.3,1034.5L777.1,1035.7L780.9,1036.9L784.8,1038.1L788.6,1039.2L792.5,1040.3L796.4,1041.3L800.2,1042.4L804.1,1043.4L808.0,1044.4L811.9,1045.4L815.8,1046.4L819.7,1047.3L823.6,1048.3L827.5,1049.2L831.4,1050.1L835.4,1050.9L839.3,1051.8L843.2,1052.6L847.1,1053.5L851.1,1054.3L855.0,1055.1L859.0,1055.8L862.9,1056.6L866.8,1057.4L870.8,1058.1L874.7,1058.8L878.7,1059.5L882.7,1060.2L886.6,1060.8L890.6,1061.5L894.5,1062.1L898.5,1062.8L902.5,1063.4L906.5,1064.0L910.4,1064.6L914.4,1065.1L918.4,1065.7L922.4,1066.2L926.3,1066.8L930.3,1067.3L934.3,1067.8L938.3,1068.3L942.3,1068.8L946.3,1069.2L950.3,1069.7L954.2,1070.2L958.2,1070.6L962.2,1071.0L966.2,1071.4L970.2,1071.9L974.2,1072.3L978.2,1072.6L982.2,1073.0L986.2,1073.4L990.2,1073.8L994.2,1074.1L998.2,1074.5L1002.2,1074.8L1006.2,1075.1L1010.2,1075.4L1014.2,1075.8L1018.2,1076.1L1022.2,1076.4L1026.2,1076.6L1030.2,1076.9L1034.2,1077.2L1038.3,1077.5L1042.3,1077.7L1046.3,1078.0L1050.3,1078.2L1054.3,1078.5L1058.3,1078.7L1062.3,1078.9L1066.3,1079.1L1070.3,1079.4L1074.3,1079.6L1078.3,1079.8L1082.4,1080.0L1086.4,1080.2L1090.4,1080.4L1094.4,1080.5L1098.4,1080.7L1102.4,1080.9L1106.4,1081.1L1110.4,1081.2L1114.5,1081.4L1118.5,1081.5L1122.5,1081.7L1126.5,1081.8L1130.5,1082.0L1134.5,1082.1L1138.5,1082.2L1142.6,1082.4L1146.6,1082.5L1150.6,1082.6L1154.6,1082.7L1158.6,1082.9L1162.6,1083.0L1166.6,1083.1L1170.7,1083.2L1174.7,1083.3L1178.7,1083.4L1182.7,1083.5L1186.7,1083.6L1190.7,1083.7L1194.7,1083.8L1198.8,1083.9L1202.8,1084.0L1206.8,1084.0L1210.8,1084.1L1214.8,1084.2L1218.8,1084.3L1222.8,1084.4L1226.9,1084.4L1230.9,1084.5L1234.9,1084.6L1238.9,1084.6L1242.9,1084.7L1246.9,1084.8L1251.0,1084.8L1255.0,1084.9L1259.0,1084.9L1263.0,1085.0L1267.0,1085.1L1271.0,1085.1L1275.0,1085.2L1279.1,1085.2L1283.1,1085.3L1287.1,1085.3L1291.1,1085.4L1295.1,1085.4L1299.1,1085.4L1303.2,1085.5L1307.2,1085.5L1311.2,1085.6L1315.2,1085.6L1319.2,1085.6L1323.2,1085.7L1327.3,1085.7L1331.3,1085.7L1335.3,1085.8L1339.3,1085.8L1343.3,1085.8L1347.3,1085.9L1351.3,1085.9L1355.4,1085.9L1359.4,1086.0L1363.4,1086.0L1367.4,1086.0L1371.4,1086.0L1375.4,1086.1L1379.5,1086.1L1383.5,1086.1L1387.5,1086.1L1391.5,1086.1L1395.5,1086.2L1399.5,1086.2L1403.6,1086.2L1407.6,1086.2L1411.6,1086.2L1415.6,1086.3L1419.6,1086.3L1423.6,1086.3L1427.7,1086.3L1431.7,1086.3L1435.7,1086.3L1439.7,1086.4L1443.7,1086.4L1447.7,1086.4L1451.7,1086.4L1455.8,1086.4L1459.8,1086.4L1463.8,1086.4L1467.8,1086.5L1471.8,1086.5L1475.8,1086.5L1479.9,1086.5L1483.9,1086.5L1487.9,1086.5L1491.9,1086.5L1495.9,1086.5L1499.9,1086.5L1504.0,1086.5L1508.0,1086.6L1512.0,1086.6L1516.0,1086.6L1520.0,1086.6L1524.0,1086.6L1528.1,1086.6L1532.1,1086.6L1536.1,1086.6L1540.1,1086.6L1544.1,1086.6L1548.1,1086.6L1552.1,1086.6L1556.2,1086.6L1560.2,1086.6L1564.2,1086.6L1568.2,1086.7L1572.2,1086.7L1576.2,1086.7L1580.3,1086.7L1584.3,1086.7L1588.3,1086.7"/>
<path stroke="#00ff00" d="M194.7,70.9L195.4,74.8L196.2,78.8L196.9,82.7L197.7,86.7L198.4,90.6L199.1,94.6L199.9,98.5L200.6,102.4L201.4,106.4L202.2,110.3L202.9,114.3L203.7,118.2L204.5,122.1L205.2,126.1L206.0,130.0L206.8,133.9L207.6,137.9L208.3,141.8L209.1,145.7L209.9,149.7L210.7,153.6L211.5,157.5L212.3,161.5L213.1,165.4L213.9,169.3L214.7,173.3L215.5,177.2L216.3,181.1L217.1,185.0L217.9,189.0L218.8,192.9L219.6,196.8L220.4,200.7L221.2,204.7L222.1,208.6L222.9,212.5L223.7,216.4L224.6,220.4L225.4,224.3L226.3,228.2L227.1,232.1L228.0,236.0L228.9,240.0L229.7,243.9L230.6,247.8L231.5,251.7L232.3,255.6L233.2,259.5L234.1,263.5L235.0,267.4L235.9,271.3L236.8,275.2L237.7,279.1L238.6,283.0L239.5,286.9L240.4,290.8L241.3,294.7L242.2,298.6L243.1,302.5L244.0,306.4L245.0,310.3L245.9,314.2L246.8,318.1L247.8,322.0L248.7,325.9L249.6,329.8L250.6,333.7L251.5,337.6L252.5,341.5L253.5,345.4L254.4,349.3L255.4,353.2L256.4,357.1L257.3,361.0L258.3,364.9L259.3,368.8L260.3,372.7L261.3,376.6L262.3,380.4L263.3,384.3L264.3,388.2L265.3,392.1L266.3,396.0L267.3,399.9L268.3,403.7L269.4,407.6L270.4,411.5L271.4,415.4L272.5,419.2L273.5,423.1L274.6,427.0L275.6,430.8L276.7,434.7L277.8,438.6L278.9,442.4L280.0,446.3L281.1,450.1L282.2,454.0L283.3,457.9L284.4,461.7L285.5,465.6L286.7,469.4L287.8,473.2L289.0,477.1L290.2,480.9L291.3,484.8L292.5,488.6L293.7,492.4L294.9,496.3L296.1,500.1L297.3,503.9L298.5,507.7L299.7,511.5L301.0,515.4L302.2,519.2L303.5,523.0L304.7,526.8L306.0,530.6L307.2,534.4L308.5,538.2L309.8,542.0L311.1,545.8L312.4,549.6L313.7,553.4L315.0,557.2L316.3,561.0L317.7,564.8L319.0,568.5L320.4,572.3L321.7,576.1L323.1,579.9L324.5,583.6L325.9,587.4L327.3,591.2L328.7,594.9L330.1,598.7L331.5,602.4L332.9,606.2L334.4,609.9L335.8,613.6L337.3,617.4L338.8,621.1L340.3,624.8L341.7,628.6L343.3,632.3L344.8,636.0L346.3,639.7L347.8,643.4L349.4,647.1L351.0,650.8L352.6,654.5L354.2,658.1L355.8,661.8L357.4,665.5L359.1,669.1L360.7,672.8L362.4,676.4L364.1,680.1L365.8,683.7L367.5,687.3L369.2,690.9L371.0,694.6L372.8,698.2L374.5,701.8L376.3,705.3L378.1,708.9L380.0,712.5L381.8,716.1L383.7,719.6L385.5,723.2L387.4,726.7L389.3,730.2L391.3,733.7L393.2,737.3L395.1,740.8L397.1,744.3L399.1,747.8L401.0,751.3L403.0,754.7L405.1,758.2L407.1,761.7L409.1,765.1L411.2,768.6L413.2,772.0L415.3,775.4L417.4,778.9L419.5,782.3L421.6,785.7L423.7,789.1L425.8,792.5L428.0,795.9L430.1,799.3L432.3,802.7L434.5,806.0L436.7,809.4L438.9,812.7L441.1,816.0L443.4,819.4L445.6,822.7L447.9,826.0L450.2,829.3L452.5,832.5L454.9,835.8L457.2,839.1L459.6,842.3L462.0,845.5L464.4,848.7L466.8,851.9L469.2,855.1L471.7,858.3L474.2,861.4L476.7,864.6L479.2,867.7L481.7,870.8L484.3,873.9L486.9,876.9L489.5,880.0L492.1,883.0L494.8,886.0L497.5,889.0L500.2,892.0L502.9,894.9L505.7,897.8L508.4,900.7L511.2,903.6L514.1,906.4L516.9,909.3L519.8,912.0L522.7,914.8L525.6,917.5L528.6,920.3L531.6,922.9L534.6,925.6L537.6,928.2L540.6,930.9L543.7,933.4L546.8,936.0L549.9,938.5L553.0,941.1L556.2,943.5L559.4,946.0L562.5,948.4L565.8,950.8L569.0,953.2L572.2,955.6L575.5,957.9L578.8,960.2L582.1,962.4L585.4,964.7L588.8,966.9L592.2,969.1L595.5,971.2L598.9,973.4L602.4,975.5L605.8,977.5L609.2,979.6L612.7,981.6L616.2,983.6L619.7,985.5L623.2,987.5L626.7,989.4L630.3,991.3L633.8,993.1L637.4,994.9L641.0,996.7L644.6,998.5L648.2,1000.2L651.8,1001.9L655.5,1003.6L659.1,1005.3L662.8,1006.9L666.5,1008.5L670.2,1010.1L673.9,1011.6L677.6,1013.2L681.3,1014.7L685.0,1016.1L688.8,1017.6L692.5,1019.0L696.3,1020.4L700.1,1021.8L703.8,1023.1L707.6,1024.4L711.4,1025.7L715.2,1027.0L719.0,1028.3L722.8,1029.5L726.7,1030.7L730.5,1031.9L734.3,1033.0L738.2,1034.2L742.0,1035.3L745.9,1036.4L749.8,1037.5L753.6,1038.5L757.5,1039.6L761.4,1040.6L765.3,1041.6L769.2,1042.6L773.0,1043.6L776.9,1044.5L780.8,1045.4L784.8,1046.3L788.7,1047.2L792.6,1048.1L796.5,1049.0L800.4,1049.8L804.3,1050.6L808.3,1051.5L812.2,1052.3L816.1,1053.1L820.1,1053.9L824.0,1054.7L827.9,1055.4L831.9,1056.2L835.8,1057.0L839.7,1057.7L843.7,1058.4L847.6,1059.2L851.6,1059.9L855.5,1060.6L859.5,1061.2L863.4,1061.9L867.4,1062.6L871.4,1063.2L875.3,1063.8L879.3,1064.4L883.3,1065.0L887.2,1065.6L891.2,1066.2L895.2,1066.8L899.1,1067.3L903.1,1067.9L907.1,1068.4L911.1,1068.9L915.0,1069.4L919.0,1070.0L923.0,1070.5L927.0,1071.0L931.0,1071.5L934.9,1071.9L938.9,1072.4L942.9,1072.9L946.9,1073.3L950.9,1073.8L954.9,1074.2L958.9,1074.6L962.8,1075.0L966.8,1075.4L970.8,1075.8L974.8,1076.2L978.8,1076.6L982.8,1076.9L986.8,1077.3L990.8,1077.6L994.8,1077.9L998.8,1078.2L1002.8,1078.5L1006.8,1078.8L1010.8,1079.1L1014.8,1079.4L1018.8,1079.7L1022.8,1079.9L1026.8,1080.2L1030.8,1080.4L1034.8,1080.7L1038.8,1080.9L1042.8,1081.1L1046.8,1081.3L1050.8,1081.5L1054.9,1081.7L1058.9,1081.9L1062.9,1082.1L1066.9,1082.2L1070.9,1082.4L1074.9,1082.6L1078.9,1082.7L1082.9,1082.9L1086.9,1083.0L1090.9,1083.1L1094.9,1083.3L1098.9,1083.4L1103.0,1083.5L1107.0,1083.6L1111.0,1083.7L1115.0,1083.8L1119.0,1083.9L1123.0,1084.0L1127.0,1084.1L1131.0,1084.2L1135.0,1084.3L1139.0,1084.3L1143.1,1084.4L1147.1,1084.5L1151.1,1084.6L1155.1,1084.6L1159.1,1084.7L1163.1,1084.8L1167.1,1084.8L1171.1,1084.9L1175.1,1085.0L1179.1,1085.0L1183.2,1085.1L1187.2,1085.1L1191.2,1085.2L1195.2,1085.2L1199.2,1085.3L1203.2,1085.3L1207.2,1085.4L1211.2,1085.4L1215.2,1085.5L1219.3,1085.5L1223.3,1085.6L1227.3,1085.6L1231.3,1085.6L1235.3,1085.7L1239.3,1085.7L1243.3,1085.8L1247.3,1085.8L1251.3,1085.8L1255.4,1085.9L1259.4,1085.9L1263.4,1085.9L1267.4,1085.9L1271.4,1086.0L1275.4,1086.0L1279.4,1086.0L1283.4,1086.0L1287.4,1086.1L1291.5,1086.1L1295.5,1086.1L1299.5,1086.1L1303.5,1086.2L1307.5,1086.2L1311.5,1086.2L1315.5,1086.2L1319.5,1086.2L1323.5,1086.3L1327.6,1086.3L1331.6,1086.3L1335.6,1086.3L1339.6,1086.3L1343.6,1086.3L1347.6,1086.4L1351.6,1086.4L1355.6,1086.4L1359.6,1086.4L1363.7,1086.4L1367.7,1086.4L1371.7,1086.4L1375.7,1086.4L1379.7,1086.5L1383.7,1086.5L1387.7,1086.5L1391.7,1086.5L1395.8,1086.5L1399.8,1086.5L1403.8,1086.5L1407.8,1086.5L1411.8,1086.5L1415.8,1086.5L1419.8,1086.6L1423.8,1086.6L1427.8,1086.6L1431.9,1086.6L1435.9,1086.6L1439.9,1086.6L1443.9,1086.6L1447.9,1086.6L1451.9,1086.6L1455.9,1086.6L1459.9,1086.6L1463.9,1086.6L1468.0,1086.6L1472.0,1086.6L1476.0,1086.6L1480.0,1086.6L1484.0,1086.7L1488.0,1086.7L1492.0,1086.7L1496.0,1086.7L1500.0,1086.7L1504.1,1086.7L1508.1,1086.7L1512.1,1086.7L1516.1,1086.7L1520.1,1086.7L1524.1,1086.7L1528.1,1086.7L1532.1,1086.7L1536.1,1086.7L1540.2,1086.7L1544.2,1086.7L1548.2,1086.7L1552.2,1086.7L1556.2,1086.7L1560.2,1086.7L1564.2,1086.7L1568.2,1086.7L1572.2,1086.7L1576.3,1086.7L1580.3,1086.7L1584.3,1086.7L1588.3,1086.7"/>
<path stroke="#ff0000" stroke-dasharray="27.3 25.7" d="M194.7,70.9L195.9,74.7L197.1,78.6L198.3,82.4L199.6,86.2L200.8,90.0L202.0,93.9L203.2,97.7L204.4,101.5L205.7,105.3L206.9,109.2L208.2,113.0L209.4,116.8L210.6,120.6L211.9,124.4L213.1,128.3L214.4,132.1L215.6,135.9L216.9,139.7L218.2,143.5L219.4,147.3L220.7,151.1L221.9,154.9L223.2,158.8L224.5,162.6L225.8,166.4L227.1,170.2L228.3,174.0L229.6,177.8L230.9,181.6L232.2,185.4L233.5,189.2L234.8,193.0L236.1,196.8L237.4,200.6L238.7,204.4L240.1,208.2L241.4,212.0L242.7,215.8L244.0,219.5L245.4,223.3L246.7,227.1L248.0,230.9L249.4,234.7L250.7,238.5L252.1,242.3L253.4,246.1L254.8,249.8L256.1,253.6L257.5,257.4L258.9,261.2L260.2,264.9L261.6,268.7L263.0,272.5L264.4,276.3L265.7,280.0L267.1,283.8L268.5,287.6L269.9,291.3L271.3,295.1L272.7,298.8L274.2,302.6L275.6,306.4L277.0,310.1L278.4,313.9L279.8,317.6L281.3,321.4L282.7,325.1L284.1,328.9L285.6,332.6L287.0,336.4L288.5,340.1L290.0,343.9L291.4,347.6L292.9,351.3L294.4,355.1L295.8,358.8L297.3,362.5L298.8,366.3L300.3,370.0L301.8,373.7L303.3,377.4L304.8,381.2L306.3,384.9L307.8,388.6L309.4,392.3L310.9,396.0L312.4,399.8L314.0,403.5L315.5,407.2L317.1,410.9L318.6,414.6L320.2,418.3L321.7,422.0L323.3,425.7L324.9,429.4L326.5,433.1L328.0,436.8L329.6,440.4L331.2,444.1L332.8,447.8L334.5,451.5L336.1,455.2L337.7,458.8L339.3,462.5L340.9,466.2L342.6,469.8L344.2,473.5L345.9,477.2L347.5,480.8L349.2,484.5L350.9,488.1L352.6,491.8L354.2,495.4L355.9,499.1L357.6,502.7L359.3,506.3L361.0,510.0L362.7,513.6L364.5,517.2L366.2,520.9L367.9,524.5L369.7,528.1L371.4,531.7L373.2,535.3L374.9,538.9L376.7,542.5L378.5,546.1L380.3,549.7L382.1,553.3L383.9,556.9L385.7,560.5L387.5,564.1L389.3,567.7L391.1,571.3L393.0,574.8L394.8,578.4L396.7,582.0L398.5,585.5L400.4,589.1L402.3,592.6L404.2,596.2L406.1,599.7L408.0,603.2L409.9,606.8L411.8,610.3L413.7,613.8L415.7,617.3L417.6,620.9L419.6,624.4L421.5,627.9L423.5,631.4L425.5,634.9L427.5,638.4L429.5,641.8L431.5,645.3L433.5,648.8L435.5,652.3L437.6,655.7L439.6,659.2L441.7,662.6L443.7,666.1L445.8,669.5L447.9,672.9L450.0,676.3L452.1,679.8L454.2,683.2L456.4,686.6L458.5,690.0L460.7,693.4L462.8,696.7L465.0,700.1L467.2,703.5L469.4,706.8L471.6,710.2L473.8,713.5L476.1,716.9L478.3,720.2L480.6,723.5L482.8,726.8L485.1,730.1L487.4,733.4L489.7,736.7L492.0,740.0L494.4,743.3L496.7,746.5L499.1,749.8L501.4,753.0L503.8,756.3L506.2,759.5L508.6,762.7L511.0,765.9L513.5,769.1L515.9,772.3L518.4,775.5L520.9,778.6L523.3,781.8L525.8,784.9L528.4,788.1L530.9,791.2L533.4,794.3L536.0,797.4L538.5,800.5L541.1,803.6L543.7,806.6L546.3,809.7L548.9,812.7L551.6,815.8L554.2,818.8L556.9,821.8L559.6,824.8L562.3,827.8L565.0,830.7L567.7,833.7L570.4,836.6L573.2,839.5L575.9,842.5L578.7,845.4L581.5,848.3L584.3,851.1L587.1,854.0L590.0,856.8L592.8,859.7L595.7,862.5L598.6,865.3L601.4,868.1L604.4,870.8L607.3,873.6L610.2,876.3L613.2,879.0L616.1,881.8L619.1,884.4L622.1,887.1L625.1,889.8L628.1,892.4L631.2,895.1L634.2,897.7L637.3,900.3L640.4,902.8L643.5,905.4L646.6,907.9L649.7,910.5L652.8,913.0L656.0,915.5L659.1,917.9L662.3,920.4L665.5,922.8L668.7,925.3L671.9,927.7L675.2,930.0L678.4,932.4L681.7,934.8L685.0,937.1L688.2,939.4L691.5,941.7L694.8,943.9L698.2,946.2L701.5,948.4L704.9,950.6L708.2,952.8L711.6,955.0L715.0,957.2L718.4,959.3L721.8,961.4L725.2,963.5L728.7,965.6L732.1,967.7L735.6,969.7L739.0,971.7L742.5,973.7L746.0,975.7L749.5,977.7L753.0,979.6L756.6,981.5L760.1,983.4L763.7,985.3L767.2,987.2L770.8,989.0L774.4,990.8L778.0,992.6L781.6,994.4L785.2,996.1L788.8,997.9L792.4,999.6L796.1,1001.3L799.7,1003.0L803.4,1004.6L807.0,1006.3L810.7,1007.9L814.4,1009.5L818.1,1011.1L821.8,1012.6L825.5,1014.2L829.2,1015.7L832.9,1017.2L836.7,1018.7L840.4,1020.2L844.1,1021.8L847.8,1023.3L851.5,1024.8L855.3,1026.2L859.0,1027.7L862.8,1029.1L866.5,1030.5L870.3,1031.9L874.1,1033.3L877.9,1034.6L881.7,1035.9L885.5,1037.1L889.3,1038.4L893.2,1039.5L897.0,1040.7L900.9,1041.8L904.7,1042.9L908.6,1044.0L912.5,1045.1L916.3,1046.1L920.2,1047.1L924.1,1048.2L928.0,1049.2L931.9,1050.1L935.8,1051.1L939.7,1052.0L943.6,1052.9L947.5,1053.8L951.4,1054.7L955.4,1055.5L959.3,1056.4L963.2,1057.2L967.2,1058.0L971.1,1058.8L975.1,1059.5L979.0,1060.2L983.0,1061.0L986.9,1061.7L990.9,1062.4L994.8,1063.0L998.8,1063.7L1002.8,1064.3L1006.7,1064.9L1010.7,1065.5L1014.7,1066.1L1018.6,1066.6L1022.6,1067.2L1026.6,1067.7L1030.6,1068.2L1034.6,1068.7L1038.6,1069.2L1042.5,1069.7L1046.5,1070.2L1050.5,1070.6L1054.5,1071.0L1058.5,1071.5L1062.5,1071.9L1066.5,1072.2L1070.5,1072.6L1074.5,1073.0L1078.5,1073.3L1082.5,1073.7L1086.5,1074.0L1090.5,1074.3L1094.5,1074.6L1098.5,1074.9L1102.5,1075.2L1106.5,1075.5L1110.5,1075.8L1114.6,1076.0L1118.6,1076.3L1122.6,1076.5L1126.6,1076.8L1130.6,1077.0L1134.6,1077.2L1138.6,1077.4L1142.6,1077.6L1146.6,1077.8L1150.6,1078.0L1154.7,1078.2L1158.7,1078.4L1162.7,1078.6L1166.7,1078.8L1170.7,1078.9L1174.7,1079.1L1178.7,1079.3L1182.7,1079.5L1186.8,1079.6L1190.8,1079.8L1194.8,1079.9L1198.8,1080.1L1202.8,1080.2L1206.8,1080.4L1210.8,1080.5L1214.8,1080.6L1218.9,1080.8L1222.9,1080.9L1226.9,1081.0L1230.9,1081.2L1234.9,1081.3L1238.9,1081.4L1242.9,1081.5L1247.0,1081.6L1251.0,1081.7L1255.0,1081.8L1259.0,1081.9L1263.0,1082.1L1267.0,1082.2L1271.0,1082.3L1275.1,1082.4L1279.1,1082.4L1283.1,1082.5L1287.1,1082.6L1291.1,1082.7L1295.1,1082.8L1299.2,1082.9L1303.2,1083.0L1307.2,1083.1L1311.2,1083.1L1315.2,1083.2L1319.2,1083.3L1323.2,1083.4L1327.3,1083.5L1331.3,1083.5L1335.3,1083.6L1339.3,1083.7L1343.3,1083.7L1347.3,1083.8L1351.4,1083.9L1355.4,1083.9L1359.4,1084.0L1363.4,1084.1L1367.4,1084.1L1371.4,1084.2L1375.4,1084.2L1379.5,1084.3L1383.5,1084.4L1387.5,1084.4L1391.5,1084.5L1395.5,1084.5L1399.5,1084.6L1403.6,1084.6L1407.6,1084.7L1411.6,1084.7L1415.6,1084.8L1419.6,1084.8L1423.6,1084.8L1427.7,1084.9L1431.7,1084.9L1435.7,1085.0L1439.7,1085.0L1443.7,1085.1L1447.7,1085.1L1451.7,1085.1L1455.8,1085.2L1459.8,1085.2L1463.8,1085.2L1467.8,1085.3L1471.8,1085.3L1475.8,1085.4L1479.9,1085.4L1483.9,1085.4L1487.9,1085.4L1491.9,1085.5L1495.9,1085.5L1499.9,1085.5L1504.0,1085.6L1508.0,1085.6L1512.0,1085.6L1516.0,1085.6L1520.0,1085.7L1524.0,1085.7L1528.0,1085.7L1532.1,1085.7L1536.1,1085.8L1540.1,1085.8L1544.1,1085.8L1548.1,1085.8L1552.1,1085.9L1556.2,1085.9L1560.2,1085.9L1564.2,1085.9L1568.2,1085.9L1572.2,1086.0L1576.2,1086.0L1580.3,1086.0L1584.3,1086.0L1588.3,1086.0"/>
<path stroke="#ff0000" stroke-dasharray="27.3 25.7" d="M194.7,70.9L195.9,74.7L197.0,78.6L198.2,82.4L199.3,86.3L200.5,90.1L201.6,94.0L202.8,97.8L204.0,101.6L205.1,105.5L206.3,109.3L207.5,113.2L208.7,117.0L209.9,120.8L211.0,124.7L212.2,128.5L213.4,132.3L214.6,136.2L215.8,140.0L217.0,143.8L218.2,147.7L219.4,151.5L220.6,155.3L221.8,159.1L223.1,163.0L224.3,166.8L225.5,170.6L226.7,174.4L227.9,178.3L229.2,182.1L230.4,185.9L231.6,189.7L232.9,193.5L234.1,197.4L235.4,201.2L236.6,205.0L237.9,208.8L239.1,212.6L240.4,216.4L241.7,220.2L242.9,224.1L244.2,227.9L245.5,231.7L246.7,235.5L248.0,239.3L249.3,243.1L250.6,246.9L251.9,250.7L253.2,254.5L254.5,258.3L255.8,262.1L257.1,265.9L258.4,269.7L259.7,273.5L261.0,277.3L262.4,281.0L263.7,284.8L265.0,288.6L266.4,292.4L267.7,296.2L269.0,300.0L270.4,303.8L271.7,307.5L273.1,311.3L274.4,315.1L275.8,318.9L277.2,322.6L278.6,326.4L279.9,330.2L281.3,333.9L282.7,337.7L284.1,341.5L285.5,345.2L286.9,349.0L288.3,352.8L289.7,356.5L291.1,360.3L292.5,364.0L294.0,367.8L295.4,371.5L296.8,375.3L298.3,379.0L299.7,382.8L301.2,386.5L302.6,390.3L304.1,394.0L305.6,397.7L307.0,401.5L308.5,405.2L310.0,408.9L311.5,412.7L313.0,416.4L314.5,420.1L316.0,423.8L317.5,427.6L319.0,431.3L320.5,435.0L322.1,438.7L323.6,442.4L325.1,446.1L326.7,449.8L328.2,453.5L329.8,457.2L331.4,460.9L332.9,464.6L334.5,468.3L336.1,472.0L337.7,475.7L339.3,479.4L340.9,483.0L342.5,486.7L344.1,490.4L345.7,494.1L347.4,497.7L349.0,501.4L350.6,505.1L352.3,508.7L354.0,512.4L355.6,516.0L357.3,519.7L359.0,523.3L360.7,527.0L362.4,530.6L364.1,534.2L365.8,537.9L367.5,541.5L369.2,545.1L371.0,548.7L372.7,552.3L374.4,556.0L376.2,559.6L378.0,563.2L379.7,566.8L381.5,570.4L383.3,574.0L385.1,577.5L386.9,581.1L388.8,584.7L390.6,588.3L392.4,591.9L394.3,595.4L396.1,599.0L398.0,602.5L399.9,606.1L401.7,609.6L403.6,613.2L405.5,616.7L407.4,620.2L409.4,623.8L411.3,627.3L413.2,630.8L415.2,634.3L417.1,637.8L419.1,641.3L421.1,644.8L423.1,648.3L425.1,651.7L427.1,655.2L429.2,658.7L431.2,662.1L433.3,665.6L435.3,669.0L437.4,672.5L439.5,675.9L441.6,679.3L443.7,682.7L445.8,686.1L448.0,689.5L450.1,692.9L452.3,696.3L454.4,699.7L456.6,703.0L458.8,706.4L461.0,709.7L463.3,713.1L465.5,716.4L467.7,719.8L470.0,723.1L472.3,726.4L474.6,729.7L476.9,733.0L479.2,736.3L481.5,739.5L483.8,742.8L486.2,746.1L488.5,749.3L490.9,752.5L493.3,755.8L495.7,759.0L498.1,762.2L500.5,765.4L502.9,768.6L505.4,771.8L507.8,775.0L510.3,778.1L512.8,781.3L515.3,784.4L517.8,787.6L520.3,790.7L522.9,793.8L525.4,796.9L528.0,800.0L530.5,803.1L533.1,806.2L535.7,809.2L538.3,812.3L540.9,815.3L543.5,818.4L546.2,821.4L548.8,824.4L551.5,827.4L554.2,830.4L556.8,833.4L559.5,836.4L562.3,839.3L565.0,842.3L567.7,845.2L570.5,848.1L573.2,851.0L576.0,853.9L578.8,856.8L581.6,859.7L584.4,862.6L587.2,865.4L590.1,868.2L592.9,871.1L595.8,873.9L598.7,876.7L601.6,879.4L604.5,882.2L607.4,884.9L610.4,887.7L613.4,890.4L616.3,893.1L619.3,895.7L622.3,898.4L625.3,901.1L628.4,903.7L631.4,906.3L634.5,908.9L637.6,911.5L640.7,914.0L643.8,916.5L646.9,919.1L650.1,921.6L653.2,924.0L656.4,926.5L659.6,928.9L662.8,931.3L666.0,933.7L669.3,936.1L672.5,938.4L675.8,940.8L679.1,943.1L682.4,945.4L685.7,947.6L689.0,949.9L692.3,952.1L695.7,954.3L699.1,956.5L702.5,958.6L705.9,960.8L709.3,962.9L712.7,965.0L716.1,967.0L719.6,969.1L723.1,971.1L726.5,973.1L730.0,975.1L733.5,977.1L737.0,979.0L740.6,980.9L744.1,982.8L747.7,984.7L751.2,986.5L754.8,988.4L758.4,990.2L762.0,991.9L765.6,993.7L769.2,995.4L772.8,997.2L776.5,998.9L780.1,1000.5L783.8,1002.2L787.4,1003.8L791.1,1005.4L794.8,1007.0L798.5,1008.6L802.2,1010.1L805.9,1011.7L809.6,1013.2L813.4,1014.7L817.1,1016.1L820.9,1017.6L824.6,1019.0L828.4,1020.4L832.1,1021.8L835.9,1023.2L839.7,1024.5L843.5,1025.9L847.3,1027.2L851.0,1028.5L854.8,1029.8L858.7,1031.1L862.5,1032.3L866.3,1033.6L870.1,1034.8L873.9,1036.0L877.8,1037.2L881.6,1038.4L885.5,1039.5L889.3,1040.7L893.2,1041.8L897.0,1042.9L900.9,1044.0L904.8,1045.0L908.6,1046.1L912.5,1047.1L916.4,1048.1L920.3,1049.1L924.2,1050.0L928.1,1051.0L932.0,1051.9L935.9,1052.8L939.8,1053.7L943.7,1054.6L947.7,1055.4L951.6,1056.2L955.5,1057.0L959.5,1057.8L963.4,1058.6L967.3,1059.4L971.3,1060.1L975.2,1060.8L979.2,1061.5L983.1,1062.2L987.1,1062.9L991.1,1063.5L995.0,1064.2L999.0,1064.8L1003.0,1065.4L1006.9,1066.0L1010.9,1066.5L1014.9,1067.1L1018.9,1067.6L1022.8,1068.2L1026.8,1068.7L1030.8,1069.2L1034.8,1069.6L1038.8,1070.1L1042.8,1070.6L1046.8,1071.0L1050.8,1071.4L1054.7,1071.8L1058.7,1072.2L1062.7,1072.6L1066.7,1073.0L1070.7,1073.4L1074.7,1073.7L1078.7,1074.1L1082.7,1074.4L1086.7,1074.7L1090.7,1075.0L1094.7,1075.3L1098.7,1075.6L1102.7,1075.9L1106.7,1076.1L1110.8,1076.4L1114.8,1076.7L1118.8,1076.9L1122.8,1077.1L1126.8,1077.4L1130.8,1077.6L1134.8,1077.8L1138.8,1078.0L1142.8,1078.2L1146.8,1078.4L1150.8,1078.6L1154.8,1078.8L1158.9,1079.0L1162.9,1079.2L1166.9,1079.3L1170.9,1079.5L1174.9,1079.7L1178.9,1079.9L1182.9,1080.0L1186.9,1080.2L1190.9,1080.3L1195.0,1080.5L1199.0,1080.6L1203.0,1080.8L1207.0,1080.9L1211.0,1081.1L1215.0,1081.2L1219.0,1081.3L1223.0,1081.5L1227.0,1081.6L1231.1,1081.7L1235.1,1081.8L1239.1,1082.0L1243.1,1082.1L1247.1,1082.2L1251.1,1082.3L1255.1,1082.4L1259.1,1082.5L1263.2,1082.6L1267.2,1082.7L1271.2,1082.8L1275.2,1082.9L1279.2,1083.0L1283.2,1083.1L1287.2,1083.2L1291.3,1083.2L1295.3,1083.3L1299.3,1083.4L1303.3,1083.5L1307.3,1083.6L1311.3,1083.6L1315.3,1083.7L1319.3,1083.8L1323.4,1083.9L1327.4,1083.9L1331.4,1084.0L1335.4,1084.1L1339.4,1084.1L1343.4,1084.2L1347.4,1084.3L1351.5,1084.3L1355.5,1084.4L1359.5,1084.4L1363.5,1084.5L1367.5,1084.5L1371.5,1084.6L1375.5,1084.6L1379.6,1084.7L1383.6,1084.7L1387.6,1084.8L1391.6,1084.8L1395.6,1084.9L1399.6,1084.9L1403.6,1085.0L1407.7,1085.0L1411.7,1085.1L1415.7,1085.1L1419.7,1085.1L1423.7,1085.2L1427.7,1085.2L1431.7,1085.2L1435.8,1085.3L1439.8,1085.3L1443.8,1085.3L1447.8,1085.4L1451.8,1085.4L1455.8,1085.4L1459.8,1085.5L1463.9,1085.5L1467.9,1085.5L1471.9,1085.6L1475.9,1085.6L1479.9,1085.6L1483.9,1085.6L1487.9,1085.7L1491.9,1085.7L1496.0,1085.7L1500.0,1085.7L1504.0,1085.8L1508.0,1085.8L1512.0,1085.8L1516.0,1085.8L1520.0,1085.9L1524.1,1085.9L1528.1,1085.9L1532.1,1085.9L1536.1,1085.9L1540.1,1086.0L1544.1,1086.0L1548.1,1086.0L1552.2,1086.0L1556.2,1086.0L1560.2,1086.0L1564.2,1086.1L1568.2,1086.1L1572.2,1086.1L1576.2,1086.1L1580.3,1086.1L1584.3,1086.1L1588.3,1086.1"/>
<path stroke="#ff0000" stroke-dasharray="27.3 25.7" d="M194.7,70.9L195.8,74.8L196.8,78.6L197.9,82.5L198.9,86.4L200.0,90.2L201.1,94.1L202.1,98.0L203.2,101.8L204.3,105.7L205.4,109.6L206.4,113.4L207.5,117.3L208.6,121.1L209.7,125.0L210.8,128.9L211.9,132.7L213.0,136.6L214.1,140.4L215.2,144.3L216.3,148.1L217.4,152.0L218.5,155.8L219.6,159.7L220.7,163.5L221.9,167.4L223.0,171.2L224.1,175.1L225.2,178.9L226.4,182.8L227.5,186.6L228.7,190.5L229.8,194.3L230.9,198.2L232.1,202.0L233.3,205.8L234.4,209.7L235.6,213.5L236.7,217.4L237.9,221.2L239.1,225.0L240.2,228.9L241.4,232.7L242.6,236.5L243.8,240.4L245.0,244.2L246.2,248.0L247.4,251.9L248.5,255.7L249.8,259.5L251.0,263.3L252.2,267.2L253.4,271.0L254.6,274.8L255.8,278.6L257.0,282.4L258.3,286.3L259.5,290.1L260.7,293.9L262.0,297.7L263.2,301.5L264.5,305.3L265.7,309.1L267.0,312.9L268.2,316.7L269.5,320.5L270.8,324.4L272.1,328.2L273.3,332.0L274.6,335.8L275.9,339.6L277.2,343.3L278.5,347.1L279.8,350.9L281.1,354.7L282.4,358.5L283.7,362.3L285.0,366.1L286.4,369.9L287.7,373.7L289.0,377.4L290.4,381.2L291.7,385.0L293.1,388.8L294.4,392.6L295.8,396.3L297.1,400.1L298.5,403.9L299.9,407.6L301.3,411.4L302.6,415.2L304.0,418.9L305.4,422.7L306.8,426.4L308.2,430.2L309.6,433.9L311.1,437.7L312.5,441.4L313.9,445.2L315.3,448.9L316.8,452.7L318.2,456.4L319.7,460.2L321.1,463.9L322.6,467.6L324.1,471.4L325.6,475.1L327.0,478.8L328.5,482.5L330.0,486.3L331.5,490.0L333.0,493.7L334.6,497.4L336.1,501.1L337.6,504.8L339.1,508.5L340.7,512.2L342.2,515.9L343.8,519.6L345.4,523.3L346.9,527.0L348.5,530.7L350.1,534.4L351.7,538.0L353.3,541.7L354.9,545.4L356.5,549.1L358.1,552.7L359.8,556.4L361.4,560.1L363.0,563.7L364.7,567.4L366.4,571.0L368.0,574.7L369.7,578.3L371.4,581.9L373.1,585.6L374.8,589.2L376.5,592.8L378.2,596.5L380.0,600.1L381.7,603.7L383.5,607.3L385.2,610.9L387.0,614.5L388.8,618.1L390.5,621.7L392.3,625.3L394.1,628.8L395.9,632.4L397.8,636.0L399.6,639.6L401.4,643.1L403.3,646.7L405.2,650.2L407.0,653.8L408.9,657.3L410.8,660.8L412.7,664.4L414.6,667.9L416.6,671.4L418.5,674.9L420.5,678.4L422.4,681.9L424.4,685.4L426.4,688.9L428.4,692.4L430.4,695.9L432.4,699.3L434.4,702.8L436.5,706.2L438.5,709.7L440.6,713.1L442.7,716.5L444.8,720.0L446.9,723.4L449.0,726.8L451.1,730.2L453.2,733.6L455.4,737.0L457.6,740.3L459.7,743.7L461.9,747.0L464.2,750.4L466.4,753.7L468.6,757.1L470.9,760.4L473.1,763.7L475.4,767.0L477.7,770.3L480.0,773.6L482.3,776.8L484.6,780.1L487.0,783.3L489.4,786.6L491.7,789.8L494.1,793.0L496.5,796.2L499.0,799.4L501.4,802.6L503.8,805.8L506.3,809.0L508.8,812.1L511.3,815.2L513.8,818.4L516.3,821.5L518.9,824.6L521.4,827.7L524.0,830.7L526.6,833.8L529.2,836.8L531.9,839.9L534.5,842.9L537.2,845.9L539.8,848.9L542.5,851.8L545.2,854.8L547.9,857.7L550.7,860.7L553.4,863.6L556.2,866.5L559.0,869.4L561.8,872.2L564.6,875.1L567.5,877.9L570.3,880.7L573.2,883.5L576.1,886.3L579.0,889.1L581.9,891.8L584.9,894.5L587.8,897.3L590.8,899.9L593.8,902.6L596.8,905.3L599.8,907.9L602.8,910.5L605.9,913.1L609.0,915.7L612.0,918.3L615.1,920.8L618.3,923.3L621.4,925.8L624.6,928.3L627.7,930.8L630.9,933.2L634.1,935.6L637.3,938.0L640.6,940.3L643.8,942.7L647.1,945.0L650.4,947.3L653.7,949.6L657.0,951.8L660.4,954.0L663.7,956.3L667.1,958.4L670.5,960.6L673.8,962.7L677.3,964.8L680.7,966.9L684.1,969.0L687.6,971.0L691.0,973.0L694.5,975.0L698.0,977.0L701.5,978.9L705.0,980.9L708.6,982.8L712.1,984.6L715.7,986.5L719.2,988.3L722.8,990.1L726.4,991.9L730.0,993.7L733.6,995.4L737.3,997.1L740.9,998.8L744.5,1000.5L748.2,1002.1L751.9,1003.7L755.5,1005.3L759.2,1006.9L762.9,1008.5L766.6,1010.0L770.3,1011.5L774.1,1013.0L777.8,1014.5L781.5,1015.9L785.3,1017.4L789.0,1018.8L792.8,1020.2L796.6,1021.5L800.3,1022.9L804.1,1024.2L807.9,1025.5L811.7,1026.8L815.5,1028.1L819.3,1029.3L823.1,1030.5L827.0,1031.8L830.8,1032.9L834.6,1034.1L838.5,1035.3L842.3,1036.4L846.2,1037.5L850.0,1038.6L853.9,1039.7L857.8,1040.8L861.6,1041.8L865.5,1042.9L869.4,1043.9L873.3,1044.9L877.2,1045.8L881.0,1046.8L884.9,1047.7L888.8,1048.7L892.8,1049.6L896.7,1050.4L900.6,1051.3L904.5,1052.2L908.4,1053.0L912.3,1053.8L916.3,1054.6L920.2,1055.4L924.1,1056.2L928.1,1056.9L932.0,1057.7L936.0,1058.4L939.9,1059.1L943.9,1059.8L947.8,1060.5L951.8,1061.1L955.7,1061.8L959.7,1062.4L963.7,1063.0L967.6,1063.6L971.6,1064.2L975.6,1064.8L979.5,1065.3L983.5,1065.9L987.5,1066.4L991.4,1067.0L995.4,1067.5L999.4,1068.0L1003.4,1068.5L1007.4,1068.9L1011.3,1069.4L1015.3,1069.8L1019.3,1070.3L1023.3,1070.7L1027.3,1071.1L1031.3,1071.5L1035.3,1071.9L1039.3,1072.3L1043.3,1072.7L1047.2,1073.1L1051.2,1073.4L1055.2,1073.8L1059.2,1074.1L1063.2,1074.4L1067.2,1074.7L1071.2,1075.1L1075.2,1075.4L1079.2,1075.7L1083.2,1075.9L1087.2,1076.2L1091.2,1076.5L1095.2,1076.8L1099.2,1077.0L1103.2,1077.3L1107.2,1077.5L1111.2,1077.7L1115.2,1078.0L1119.2,1078.2L1123.2,1078.4L1127.3,1078.6L1131.3,1078.8L1135.3,1079.0L1139.3,1079.2L1143.3,1079.4L1147.3,1079.6L1151.3,1079.8L1155.3,1080.0L1159.3,1080.1L1163.3,1080.3L1167.3,1080.5L1171.3,1080.6L1175.3,1080.8L1179.3,1080.9L1183.3,1081.1L1187.3,1081.2L1191.4,1081.4L1195.4,1081.5L1199.4,1081.6L1203.4,1081.8L1207.4,1081.9L1211.4,1082.0L1215.4,1082.2L1219.4,1082.3L1223.4,1082.4L1227.4,1082.5L1231.4,1082.6L1235.4,1082.7L1239.4,1082.8L1243.5,1082.9L1247.5,1083.0L1251.5,1083.1L1255.5,1083.2L1259.5,1083.3L1263.5,1083.4L1267.5,1083.5L1271.5,1083.6L1275.5,1083.7L1279.5,1083.7L1283.5,1083.8L1287.6,1083.9L1291.6,1084.0L1295.6,1084.1L1299.6,1084.1L1303.6,1084.2L1307.6,1084.3L1311.6,1084.3L1315.6,1084.4L1319.6,1084.5L1323.6,1084.5L1327.6,1084.6L1331.7,1084.6L1335.7,1084.7L1339.7,1084.7L1343.7,1084.8L1347.7,1084.8L1351.7,1084.9L1355.7,1084.9L1359.7,1085.0L1363.7,1085.0L1367.7,1085.1L1371.8,1085.1L1375.8,1085.2L1379.8,1085.2L1383.8,1085.3L1387.8,1085.3L1391.8,1085.3L1395.8,1085.4L1399.8,1085.4L1403.8,1085.4L1407.8,1085.5L1411.9,1085.5L1415.9,1085.6L1419.9,1085.6L1423.9,1085.6L1427.9,1085.6L1431.9,1085.7L1435.9,1085.7L1439.9,1085.7L1443.9,1085.8L1447.9,1085.8L1452.0,1085.8L1456.0,1085.8L1460.0,1085.9L1464.0,1085.9L1468.0,1085.9L1472.0,1085.9L1476.0,1086.0L1480.0,1086.0L1484.0,1086.0L1488.0,1086.0L1492.1,1086.0L1496.1,1086.1L1500.1,1086.1L1504.1,1086.1L1508.1,1086.1L1512.1,1086.1L1516.1,1086.1L1520.1,1086.2L1524.1,1086.2L1528.1,1086.2L1532.2,1086.2L1536.2,1086.2L1540.2,1086.2L1544.2,1086.3L1548.2,1086.3L1552.2,1086.3L1556.2,1086.3L1560.2,1086.3L1564.2,1086.3L1568.2,1086.3L1572.3,1086.3L1576.3,1086.4L1580.3,1086.4L1584.3,1086.4L1588.3,1086.4"/>
<path stroke="#ff0000" stroke-dasharray="27.3 25.7" d="M194.7,70.9L195.7,74.8L196.7,78.7L197.6,82.6L198.6,86.5L199.6,90.4L200.6,94.2L201.6,98.1L202.6,102.0L203.6,105.9L204.6,109.8L205.6,113.7L206.6,117.6L207.6,121.5L208.6,125.3L209.6,129.2L210.6,133.1L211.6,137.0L212.7,140.9L213.7,144.7L214.7,148.6L215.8,152.5L216.8,156.4L217.8,160.2L218.9,164.1L219.9,168.0L221.0,171.9L222.0,175.7L223.1,179.6L224.1,183.5L225.2,187.4L226.2,191.2L227.3,195.1L228.4,199.0L229.5,202.8L230.5,206.7L231.6,210.6L232.7,214.4L233.8,218.3L234.9,222.1L236.0,226.0L237.1,229.9L238.2,233.7L239.3,237.6L240.4,241.4L241.5,245.3L242.6,249.1L243.8,253.0L244.9,256.8L246.0,260.7L247.1,264.6L248.3,268.4L249.4,272.2L250.6,276.1L251.7,279.9L252.9,283.8L254.0,287.6L255.2,291.5L256.3,295.3L257.5,299.1L258.7,303.0L259.9,306.8L261.1,310.7L262.2,314.5L263.4,318.3L264.6,322.1L265.8,326.0L267.0,329.8L268.2,333.6L269.4,337.5L270.7,341.3L271.9,345.1L273.1,348.9L274.3,352.7L275.6,356.6L276.8,360.4L278.1,364.2L279.3,368.0L280.6,371.8L281.8,375.6L283.1,379.4L284.4,383.2L285.6,387.0L286.9,390.8L288.2,394.6L289.5,398.4L290.8,402.2L292.1,406.0L293.4,409.8L294.7,413.6L296.0,417.4L297.4,421.2L298.7,425.0L300.0,428.8L301.4,432.6L302.7,436.3L304.1,440.1L305.4,443.9L306.8,447.7L308.1,451.4L309.5,455.2L310.9,459.0L312.3,462.7L313.7,466.5L315.1,470.3L316.5,474.0L317.9,477.8L319.3,481.5L320.7,485.3L322.2,489.0L323.6,492.8L325.1,496.5L326.5,500.3L328.0,504.0L329.4,507.7L330.9,511.5L332.4,515.2L333.9,518.9L335.4,522.7L336.9,526.4L338.4,530.1L339.9,533.8L341.4,537.5L342.9,541.2L344.5,544.9L346.0,548.6L347.6,552.3L349.1,556.0L350.7,559.7L352.3,563.4L353.9,567.1L355.4,570.8L357.0,574.5L358.7,578.2L360.3,581.8L361.9,585.5L363.5,589.2L365.2,592.8L366.8,596.5L368.5,600.1L370.2,603.8L371.8,607.4L373.5,611.1L375.2,614.7L376.9,618.3L378.6,622.0L380.4,625.6L382.1,629.2L383.8,632.8L385.6,636.4L387.3,640.0L389.1,643.6L390.9,647.2L392.7,650.8L394.5,654.4L396.3,658.0L398.1,661.6L400.0,665.1L401.8,668.7L403.7,672.3L405.5,675.8L407.4,679.4L409.3,682.9L411.2,686.4L413.1,690.0L415.0,693.5L417.0,697.0L418.9,700.5L420.9,704.0L422.9,707.5L424.8,711.0L426.8,714.5L428.8,717.9L430.9,721.4L432.9,724.9L434.9,728.3L437.0,731.8L439.1,735.2L441.2,738.6L443.3,742.1L445.4,745.5L447.5,748.9L449.6,752.3L451.8,755.7L453.9,759.0L456.1,762.4L458.3,765.8L460.5,769.1L462.8,772.4L465.0,775.8L467.2,779.1L469.5,782.4L471.8,785.7L474.1,789.0L476.4,792.3L478.7,795.6L481.1,798.8L483.4,802.1L485.8,805.3L488.2,808.5L490.6,811.7L493.0,814.9L495.5,818.1L497.9,821.3L500.4,824.5L502.9,827.6L505.4,830.7L507.9,833.9L510.4,837.0L513.0,840.1L515.5,843.2L518.1,846.2L520.7,849.3L523.4,852.3L526.0,855.3L528.6,858.4L531.3,861.3L534.0,864.3L536.7,867.3L539.4,870.2L542.2,873.2L544.9,876.1L547.7,879.0L550.5,881.8L553.3,884.7L556.2,887.5L559.0,890.4L561.9,893.2L564.8,896.0L567.7,898.7L570.6,901.5L573.5,904.2L576.5,906.9L579.5,909.6L582.5,912.3L585.5,914.9L588.5,917.6L591.5,920.2L594.6,922.8L597.7,925.3L600.8,927.9L603.9,930.4L607.0,932.9L610.2,935.4L613.4,937.9L616.6,940.3L619.8,942.7L623.0,945.1L626.2,947.5L629.5,949.8L632.8,952.1L636.0,954.4L639.4,956.7L642.7,959.0L646.0,961.2L649.4,963.4L652.8,965.5L656.1,967.7L659.6,969.8L663.0,971.9L666.4,974.0L669.9,976.0L673.3,978.0L676.8,980.0L680.3,982.0L683.8,984.0L687.3,985.9L690.9,987.8L694.4,989.6L698.0,991.5L701.6,993.3L705.2,995.1L708.8,996.9L712.4,998.6L716.0,1000.3L719.6,1002.0L723.3,1003.7L726.9,1005.4L730.6,1007.0L734.3,1008.6L738.0,1010.1L741.7,1011.7L745.4,1013.2L749.1,1014.7L752.9,1016.2L756.6,1017.7L760.3,1019.1L764.1,1020.5L767.9,1021.9L771.6,1023.2L775.4,1024.6L779.2,1025.9L783.0,1027.2L786.8,1028.5L790.6,1029.7L794.4,1031.0L798.3,1032.2L802.1,1033.4L805.9,1034.5L809.8,1035.7L813.6,1036.8L817.5,1037.9L821.3,1039.0L825.2,1040.1L829.1,1041.2L833.0,1042.2L836.8,1043.2L840.7,1044.2L844.6,1045.2L848.5,1046.2L852.4,1047.1L856.3,1048.0L860.2,1049.0L864.1,1049.8L868.1,1050.7L872.0,1051.6L875.9,1052.4L879.8,1053.2L883.8,1054.1L887.7,1054.8L891.6,1055.6L895.6,1056.4L899.5,1057.1L903.5,1057.8L907.4,1058.6L911.4,1059.3L915.3,1059.9L919.3,1060.6L923.2,1061.3L927.2,1061.9L931.2,1062.5L935.1,1063.1L939.1,1063.7L943.1,1064.3L947.0,1064.9L951.0,1065.4L955.0,1066.0L959.0,1066.5L962.9,1067.0L966.9,1067.5L970.9,1068.0L974.9,1068.5L978.9,1069.0L982.9,1069.4L986.8,1069.9L990.8,1070.3L994.8,1070.8L998.8,1071.2L1002.8,1071.6L1006.8,1072.0L1010.8,1072.4L1014.8,1072.7L1018.8,1073.1L1022.8,1073.5L1026.8,1073.8L1030.8,1074.2L1034.8,1074.5L1038.8,1074.8L1042.8,1075.1L1046.8,1075.4L1050.8,1075.7L1054.8,1076.0L1058.8,1076.3L1062.8,1076.6L1066.8,1076.8L1070.8,1077.1L1074.8,1077.4L1078.8,1077.6L1082.8,1077.8L1086.8,1078.1L1090.8,1078.3L1094.8,1078.5L1098.8,1078.7L1102.8,1079.0L1106.9,1079.2L1110.9,1079.4L1114.9,1079.5L1118.9,1079.7L1122.9,1079.9L1126.9,1080.1L1130.9,1080.3L1134.9,1080.4L1138.9,1080.6L1142.9,1080.8L1146.9,1080.9L1150.9,1081.1L1155.0,1081.2L1159.0,1081.4L1163.0,1081.5L1167.0,1081.6L1171.0,1081.8L1175.0,1081.9L1179.0,1082.0L1183.0,1082.2L1187.0,1082.3L1191.1,1082.4L1195.1,1082.5L1199.1,1082.6L1203.1,1082.7L1207.1,1082.8L1211.1,1082.9L1215.1,1083.0L1219.1,1083.1L1223.1,1083.2L1227.2,1083.3L1231.2,1083.4L1235.2,1083.5L1239.2,1083.6L1243.2,1083.7L1247.2,1083.8L1251.2,1083.9L1255.2,1083.9L1259.3,1084.0L1263.3,1084.1L1267.3,1084.2L1271.3,1084.2L1275.3,1084.3L1279.3,1084.4L1283.3,1084.4L1287.3,1084.5L1291.4,1084.5L1295.4,1084.6L1299.4,1084.7L1303.4,1084.7L1307.4,1084.8L1311.4,1084.8L1315.4,1084.9L1319.4,1084.9L1323.5,1085.0L1327.5,1085.0L1331.5,1085.1L1335.5,1085.1L1339.5,1085.2L1343.5,1085.2L1347.5,1085.3L1351.5,1085.3L1355.6,1085.3L1359.6,1085.4L1363.6,1085.4L1367.6,1085.5L1371.6,1085.5L1375.6,1085.5L1379.6,1085.6L1383.6,1085.6L1387.7,1085.6L1391.7,1085.7L1395.7,1085.7L1399.7,1085.7L1403.7,1085.7L1407.7,1085.8L1411.7,1085.8L1415.7,1085.8L1419.8,1085.9L1423.8,1085.9L1427.8,1085.9L1431.8,1085.9L1435.8,1086.0L1439.8,1086.0L1443.8,1086.0L1447.8,1086.0L1451.9,1086.0L1455.9,1086.1L1459.9,1086.1L1463.9,1086.1L1467.9,1086.1L1471.9,1086.1L1475.9,1086.2L1479.9,1086.2L1484.0,1086.2L1488.0,1086.2L1492.0,1086.2L1496.0,1086.2L1500.0,1086.2L1504.0,1086.3L1508.0,1086.3L1512.0,1086.3L1516.1,1086.3L1520.1,1086.3L1524.1,1086.3L1528.1,1086.3L1532.1,1086.4L1536.1,1086.4L1540.1,1086.4L1544.1,1086.4L1548.2,1086.4L1552.2,1086.4L1556.2,1086.4L1560.2,1086.4L1564.2,1086.4L1568.2,1086.4L1572.2,1086.5L1576.3,1086.5L1580.3,1086.5L1584.3,1086.5L1588.3,1086.5"/>
<path stroke="#ff0000" stroke-dasharray="27.3 25.7" d="M194.7,70.9L195.7,74.8L196.6,78.7L197.6,82.6L198.5,86.5L199.5,90.4L200.5,94.3L201.4,98.2L202.4,102.1L203.4,105.9L204.4,109.8L205.3,113.7L206.3,117.6L207.3,121.5L208.3,125.4L209.3,129.3L210.3,133.2L211.3,137.1L212.3,140.9L213.3,144.8L214.3,148.7L215.3,152.6L216.3,156.5L217.3,160.4L218.3,164.2L219.3,168.1L220.3,172.0L221.3,175.9L222.3,179.8L223.4,183.6L224.4,187.5L225.4,191.4L226.5,195.3L227.5,199.2L228.5,203.0L229.6,206.9L230.6,210.8L231.6,214.7L232.7,218.5L233.7,222.4L234.8,226.3L235.8,230.1L236.9,234.0L238.0,237.9L239.0,241.8L240.1,245.6L241.1,249.5L242.2,253.4L243.3,257.2L244.3,261.1L245.4,265.0L246.5,268.8L247.5,272.7L248.6,276.6L249.7,280.4L250.7,284.3L251.8,288.2L252.9,292.0L254.0,295.9L255.1,299.7L256.2,303.6L257.3,307.5L258.4,311.3L259.5,315.2L260.6,319.0L261.7,322.9L262.8,326.7L264.0,330.6L265.1,334.4L266.3,338.3L267.4,342.1L268.6,346.0L269.7,349.8L270.9,353.6L272.0,357.5L273.2,361.3L274.4,365.1L275.6,369.0L276.8,372.8L277.9,376.6L279.1,380.5L280.3,384.3L281.5,388.1L282.7,392.0L284.0,395.8L285.2,399.6L286.4,403.4L287.6,407.2L288.9,411.1L290.1,414.9L291.4,418.7L292.6,422.5L293.9,426.3L295.1,430.1L296.4,433.9L297.7,437.7L299.0,441.5L300.2,445.3L301.5,449.1L302.8,452.9L304.1,456.7L305.5,460.5L306.8,464.3L308.1,468.1L309.4,471.9L310.8,475.6L312.1,479.4L313.4,483.2L314.8,487.0L316.2,490.8L317.5,494.5L318.9,498.3L320.3,502.1L321.7,505.8L323.1,509.6L324.5,513.3L325.9,517.1L327.3,520.9L328.7,524.6L330.2,528.3L331.6,532.1L333.0,535.8L334.5,539.6L335.9,543.3L337.4,547.0L338.9,550.8L340.4,554.5L341.9,558.2L343.4,562.0L344.9,565.7L346.4,569.4L347.9,573.1L349.4,576.8L350.9,580.5L352.5,584.2L354.0,587.9L355.6,591.6L357.2,595.3L358.7,599.0L360.3,602.7L361.9,606.4L363.5,610.1L365.1,613.7L366.7,617.4L368.3,621.1L369.9,624.8L371.6,628.4L373.2,632.1L374.9,635.7L376.5,639.4L378.2,643.0L379.9,646.7L381.6,650.3L383.2,654.0L384.9,657.6L386.7,661.2L388.4,664.8L390.1,668.5L391.8,672.1L393.6,675.7L395.4,679.3L397.1,682.9L398.9,686.5L400.7,690.1L402.5,693.7L404.3,697.2L406.1,700.8L408.0,704.4L409.8,708.0L411.6,711.5L413.5,715.1L415.4,718.6L417.3,722.2L419.2,725.7L421.1,729.2L423.0,732.7L424.9,736.3L426.9,739.8L428.8,743.3L430.8,746.8L432.8,750.2L434.8,753.7L436.8,757.2L438.8,760.7L440.8,764.1L442.9,767.6L445.0,771.0L447.0,774.4L449.1,777.9L451.2,781.3L453.3,784.7L455.5,788.1L457.6,791.5L459.8,794.9L462.0,798.2L464.2,801.6L466.4,804.9L468.6,808.3L470.8,811.6L473.1,814.9L475.4,818.2L477.7,821.5L480.0,824.8L482.3,828.1L484.6,831.3L487.0,834.6L489.4,837.8L491.8,841.0L494.2,844.2L496.6,847.4L499.1,850.6L501.5,853.7L504.0,856.9L506.5,860.0L509.1,863.1L511.6,866.2L514.2,869.3L516.8,872.4L519.4,875.4L522.0,878.4L524.7,881.5L527.3,884.4L530.0,887.4L532.7,890.4L535.5,893.3L538.2,896.2L541.0,899.1L543.8,902.0L546.7,904.8L549.5,907.6L552.4,910.4L555.3,913.2L558.2,916.0L561.1,918.7L564.1,921.4L567.1,924.1L570.1,926.7L573.1,929.3L576.2,931.9L579.3,934.5L582.4,937.1L585.5,939.6L588.6,942.1L591.8,944.6L595.0,947.0L598.2,949.4L601.4,951.8L604.6,954.2L607.9,956.5L611.2,958.9L614.4,961.1L617.8,963.4L621.1,965.6L624.5,967.8L627.8,970.0L631.2,972.1L634.6,974.3L638.0,976.4L641.5,978.4L644.9,980.4L648.4,982.5L651.9,984.4L655.4,986.4L658.9,988.3L662.5,990.2L666.0,992.1L669.6,993.9L673.2,995.7L676.8,997.5L680.4,999.3L684.0,1001.0L687.6,1002.7L691.3,1004.4L694.9,1006.0L698.6,1007.6L702.3,1009.2L706.0,1010.8L709.7,1012.4L713.4,1013.9L717.1,1015.4L720.8,1016.8L724.6,1018.3L728.3,1019.7L732.1,1021.1L735.8,1022.5L739.6,1023.8L743.4,1025.2L747.2,1026.5L751.0,1027.8L754.8,1029.0L758.6,1030.3L762.4,1031.5L766.3,1032.7L770.1,1033.9L773.9,1035.0L777.8,1036.2L781.6,1037.3L785.5,1038.4L789.4,1039.5L793.2,1040.5L797.1,1041.6L801.0,1042.6L804.9,1043.6L808.8,1044.6L812.7,1045.5L816.6,1046.5L820.5,1047.4L824.4,1048.3L828.3,1049.2L832.2,1050.1L836.1,1050.9L840.0,1051.8L844.0,1052.6L847.9,1053.4L851.8,1054.2L855.8,1055.0L859.7,1055.7L863.6,1056.5L867.6,1057.2L871.5,1057.9L875.5,1058.6L879.4,1059.3L883.4,1060.0L887.4,1060.6L891.3,1061.2L895.3,1061.9L899.2,1062.5L903.2,1063.1L907.2,1063.7L911.1,1064.2L915.1,1064.8L919.1,1065.3L923.1,1065.9L927.0,1066.4L931.0,1066.9L935.0,1067.4L939.0,1067.9L943.0,1068.4L947.0,1068.8L950.9,1069.3L954.9,1069.7L958.9,1070.2L962.9,1070.6L966.9,1071.0L970.9,1071.4L974.9,1071.8L978.9,1072.2L982.9,1072.6L986.9,1072.9L990.9,1073.3L994.9,1073.6L998.9,1074.0L1002.9,1074.3L1006.9,1074.6L1010.8,1075.0L1014.8,1075.3L1018.8,1075.6L1022.9,1075.9L1026.9,1076.1L1030.9,1076.4L1034.9,1076.7L1038.9,1077.0L1042.9,1077.2L1046.9,1077.5L1050.9,1077.7L1054.9,1077.9L1058.9,1078.2L1062.9,1078.4L1066.9,1078.6L1070.9,1078.8L1074.9,1079.0L1078.9,1079.3L1082.9,1079.5L1086.9,1079.6L1090.9,1079.8L1094.9,1080.0L1098.9,1080.2L1103.0,1080.4L1107.0,1080.5L1111.0,1080.7L1115.0,1080.9L1119.0,1081.0L1123.0,1081.2L1127.0,1081.3L1131.0,1081.5L1135.0,1081.6L1139.0,1081.7L1143.0,1081.9L1147.1,1082.0L1151.1,1082.1L1155.1,1082.2L1159.1,1082.4L1163.1,1082.5L1167.1,1082.6L1171.1,1082.7L1175.1,1082.8L1179.1,1082.9L1183.1,1083.0L1187.2,1083.1L1191.2,1083.2L1195.2,1083.3L1199.2,1083.4L1203.2,1083.5L1207.2,1083.6L1211.2,1083.7L1215.2,1083.8L1219.2,1083.8L1223.2,1083.9L1227.3,1084.0L1231.3,1084.1L1235.3,1084.1L1239.3,1084.2L1243.3,1084.3L1247.3,1084.4L1251.3,1084.4L1255.3,1084.5L1259.3,1084.5L1263.4,1084.6L1267.4,1084.7L1271.4,1084.7L1275.4,1084.8L1279.4,1084.8L1283.4,1084.9L1287.4,1084.9L1291.4,1085.0L1295.4,1085.0L1299.5,1085.1L1303.5,1085.1L1307.5,1085.2L1311.5,1085.2L1315.5,1085.3L1319.5,1085.3L1323.5,1085.4L1327.5,1085.4L1331.5,1085.4L1335.6,1085.5L1339.6,1085.5L1343.6,1085.5L1347.6,1085.6L1351.6,1085.6L1355.6,1085.6L1359.6,1085.7L1363.6,1085.7L1367.7,1085.7L1371.7,1085.8L1375.7,1085.8L1379.7,1085.8L1383.7,1085.8L1387.7,1085.9L1391.7,1085.9L1395.7,1085.9L1399.7,1085.9L1403.8,1086.0L1407.8,1086.0L1411.8,1086.0L1415.8,1086.0L1419.8,1086.1L1423.8,1086.1L1427.8,1086.1L1431.8,1086.1L1435.8,1086.1L1439.9,1086.2L1443.9,1086.2L1447.9,1086.2L1451.9,1086.2L1455.9,1086.2L1459.9,1086.2L1463.9,1086.3L1467.9,1086.3L1472.0,1086.3L1476.0,1086.3L1480.0,1086.3L1484.0,1086.3L1488.0,1086.3L1492.0,1086.4L1496.0,1086.4L1500.0,1086.4L1504.0,1086.4L1508.1,1086.4L1512.1,1086.4L1516.1,1086.4L1520.1,1086.4L1524.1,1086.4L1528.1,1086.5L1532.1,1086.5L1536.1,1086.5L1540.2,1086.5L1544.2,1086.5L1548.2,1086.5L1552.2,1086.5L1556.2,1086.5L1560.2,1086.5L1564.2,1086.5L1568.2,1086.5L1572.2,1086.5L1576.3,1086.6L1580.3,1086.6L1584.3,1086.6L1588.3,1086.6"/>
</g>
<rect x="1538.5" y="1082.2" width="11.3" height="9.2" fill="#00ff00"/>
<path d="M1147.1,167H1377.2" stroke="#00ff00" stroke-width="9.8" fill="none"/>
<path d="M1144.8,250.6H1384" stroke="#ff0000" stroke-width="9.2" stroke-dasharray="27.3 25.7" fill="none"/>
<rect x="1140" y="240" width="13.3" height="22" fill="#fff"/>
<g font-family="'Liberation Serif', 'Times New Roman', serif" font-weight="bold" font-size="54" fill="#000">
<text x="1393.5" y="185.6">n = 2.0</text>
<text x="1400.4" y="268.5">n = 4.0</text>
<text x="1047.2" y="230.5">(a)</text>
<text transform="translate(719.3,586.8) scale(1.16,1)">λ</text>
<text x="767.1" y="586.8" font-size="53.2">= 0.3, 0.6, 0.9, 1.2, 1.5</text>
</g>
<rect x="693.7" y="523.7" width="593.9" height="89.9" fill="none" stroke="#000" stroke-width="4"/>
<path d="M671.2,729.2L430.0,955.7" stroke="#000" stroke-width="5.4" fill="none"/>
<path d="M405.6,978.6L427.5,934.7L430.0,955.7L450.8,959.5Z" fill="#000" stroke="#000" stroke-width="1.5" stroke-linejoin="round"/>
<g stroke="#262626" stroke-width="9.7" fill="none" stroke-linecap="butt">
<path d="M238.0,1347V2445.4"/>
<path d="M238.0,1353.9H1712"/>
<path d="M238.0,1698.8H258"/>
<path d="M238.0,2043.7H258"/>
<path d="M238.0,2388.6H258"/>
<path d="M531.8,1353.9V1373.6"/>
<path d="M825.7,1353.9V1373.6"/>
<path d="M1119.5,1353.9V1373.6"/>
<path d="M1413.4,1353.9V1373.6"/>
<path d="M1707.2,1353.9V1373.6"/>
</g>
<g font-family="'Liberation Serif', 'Times New Roman', serif" font-weight="bold" font-size="57" fill="#262626">
<text x="218.3" y="1373.5" text-anchor="end">0</text>
<text x="215.3" y="1718.4" text-anchor="end">-0.05</text>
<text x="215.3" y="2063.3" text-anchor="end">-0.1</text>
<text x="215.3" y="2408.2" text-anchor="end">-0.15</text>
<text x="531.8" y="1319.4" text-anchor="middle">2</text>
<text x="825.7" y="1319.4" text-anchor="middle">4</text>
<text x="1119.5" y="1319.4" text-anchor="middle">6</text>
<text x="1413.4" y="1319.4" text-anchor="middle">8</text>
</g>
<g font-family="'Liberation Serif', 'Times New Roman', serif" font-weight="bold" font-size="62.7" fill="#262626" text-anchor="middle" transform="translate(70.3,1898.8) rotate(-90)">
<text x="-37.9" y="0">g</text>
<text x="-11.5" y="0">(</text>
<text transform="translate(17.3,0) scale(1.12,1)" font-style="italic">η</text>
<text x="43.5" y="0">)</text>
</g>
<text font-family="'Liberation Serif', 'Times New Roman', serif" font-weight="bold" font-size="62.7" fill="#262626" text-anchor="middle" font-style="italic" transform="translate(1670,1449.8) scale(1.12,1)">η</text>
<g fill="none" stroke-width="9.7" stroke-linecap="butt" stroke-linejoin="round">
<path stroke="#00ff00" d="M238.0,1353.9L238.2,1357.9L238.4,1361.9L238.6,1365.9L238.8,1369.9L239.0,1373.9L239.2,1377.9L239.5,1381.9L239.7,1385.9L239.9,1389.9L240.1,1393.9L240.3,1397.9L240.5,1402.0L240.8,1406.0L241.0,1410.0L241.2,1414.0L241.4,1418.0L241.7,1422.0L241.9,1426.0L242.1,1430.0L242.3,1434.0L242.6,1438.0L242.8,1442.0L243.1,1446.0L243.3,1450.0L243.5,1454.0L243.8,1458.0L244.0,1462.0L244.3,1466.0L244.5,1470.0L244.8,1474.0L245.0,1478.0L245.3,1482.0L245.6,1486.0L245.8,1490.0L246.1,1494.0L246.3,1498.0L246.6,1502.0L246.9,1506.0L247.2,1510.0L247.4,1514.0L247.7,1518.0L248.0,1522.0L248.3,1526.0L248.6,1530.0L248.9,1534.0L249.1,1538.0L249.4,1542.0L249.7,1546.0L250.0,1550.0L250.4,1554.0L250.7,1558.0L251.0,1562.0L251.3,1566.0L251.6,1570.0L251.9,1574.0L252.3,1578.0L252.6,1582.0L252.9,1586.0L253.3,1590.0L253.6,1594.0L254.0,1598.0L254.3,1602.0L254.7,1605.9L255.0,1609.9L255.4,1613.9L255.8,1617.9L256.2,1621.9L256.5,1625.9L256.9,1629.9L257.3,1633.9L257.7,1637.9L258.1,1641.9L258.5,1645.9L259.0,1649.8L259.4,1653.8L259.8,1657.8L260.3,1661.8L260.7,1665.8L261.2,1669.8L261.7,1673.8L262.1,1677.7L262.6,1681.7L263.1,1685.7L263.6,1689.7L264.2,1693.6L264.7,1697.6L265.2,1701.6L265.8,1705.6L266.4,1709.5L267.0,1713.5L267.6,1717.5L268.2,1721.4L268.8,1725.4L269.5,1729.3L270.2,1733.3L270.9,1737.2L271.6,1741.2L272.3,1745.1L273.1,1749.1L273.9,1753.0L274.8,1756.9L275.7,1760.8L276.6,1764.7L277.6,1768.6L278.6,1772.5L279.7,1776.3L280.9,1780.2L282.2,1784.0L283.6,1787.7L285.1,1791.4L286.8,1795.0L288.8,1798.6L291.0,1801.8L293.8,1804.8L297.2,1806.8L301.1,1807.4L305.0,1806.2L308.3,1804.0L311.2,1801.2L313.7,1798.1L316.1,1794.9L318.3,1791.5L320.4,1788.1L322.3,1784.6L324.2,1781.1L326.0,1777.5L327.7,1773.9L329.4,1770.2L331.1,1766.6L332.7,1762.9L334.3,1759.2L335.8,1755.5L337.4,1751.8L338.9,1748.1L340.4,1744.4L341.8,1740.6L343.3,1736.9L344.7,1733.2L346.1,1729.4L347.6,1725.7L349.0,1721.9L350.4,1718.2L351.7,1714.4L353.1,1710.6L354.5,1706.9L355.9,1703.1L357.3,1699.3L358.6,1695.6L360.0,1691.8L361.3,1688.0L362.7,1684.2L364.1,1680.5L365.4,1676.7L366.8,1672.9L368.2,1669.2L369.5,1665.4L370.9,1661.6L372.3,1657.9L373.6,1654.1L375.0,1650.3L376.4,1646.6L377.8,1642.8L379.2,1639.0L380.6,1635.3L382.0,1631.5L383.4,1627.8L384.8,1624.0L386.2,1620.3L387.6,1616.5L389.1,1612.8L390.5,1609.0L392.0,1605.3L393.4,1601.6L394.9,1597.8L396.4,1594.1L397.9,1590.4L399.4,1586.7L400.9,1582.9L402.4,1579.2L403.9,1575.5L405.5,1571.8L407.1,1568.1L408.6,1564.5L410.2,1560.8L411.8,1557.1L413.5,1553.4L415.1,1549.8L416.8,1546.1L418.4,1542.5L420.1,1538.8L421.8,1535.2L423.6,1531.6L425.3,1528.0L427.1,1524.4L428.9,1520.8L430.7,1517.2L432.5,1513.7L434.4,1510.1L436.2,1506.6L438.1,1503.0L440.1,1499.5L442.0,1496.0L444.0,1492.5L446.0,1489.1L448.1,1485.6L450.2,1482.2L452.3,1478.8L454.4,1475.4L456.6,1472.0L458.8,1468.7L461.0,1465.3L463.3,1462.0L465.6,1458.7L467.9,1455.5L470.3,1452.3L472.7,1449.1L475.2,1445.9L477.7,1442.8L480.3,1439.7L482.9,1436.7L485.5,1433.6L488.2,1430.7L490.9,1427.7L493.7,1424.8L496.6,1422.0L499.4,1419.2L502.4,1416.5L505.3,1413.8L508.4,1411.2L511.4,1408.6L514.6,1406.1L517.7,1403.6L521.0,1401.2L524.2,1398.9L527.5,1396.6L530.9,1394.5L534.3,1392.3L537.7,1390.3L541.2,1388.3L544.8,1386.4L548.3,1384.6L551.9,1382.8L555.6,1381.1L559.2,1379.5L562.9,1378.0L566.7,1376.5L570.4,1375.1L574.2,1373.8L578.0,1372.5L581.8,1371.3L585.7,1370.2L589.5,1369.1L593.4,1368.1L597.3,1367.1L601.2,1366.2L605.1,1365.3L609.1,1364.5L613.0,1363.8L617.0,1363.1L620.9,1362.4L624.9,1361.8L628.8,1361.2L632.8,1360.7L636.8,1360.2L640.8,1359.7L644.8,1359.3L648.7,1358.8L652.7,1358.5L656.7,1358.1L660.7,1357.8L664.7,1357.5L668.7,1357.2L672.7,1356.9L676.7,1356.7L680.7,1356.4L684.7,1356.2L688.7,1356.0L692.7,1355.9L696.8,1355.7L700.8,1355.5L704.8,1355.4L708.8,1355.3L712.8,1355.2L716.8,1355.0L720.8,1354.9L724.8,1354.8L728.8,1354.8L732.8,1354.7L736.8,1354.6L740.8,1354.5L744.9,1354.5L748.9,1354.4L752.9,1354.4L756.9,1354.3L760.9,1354.3L764.9,1354.3L768.9,1354.2L772.9,1354.2L776.9,1354.2L780.9,1354.1L785.0,1354.1L789.0,1354.1L793.0,1354.1L797.0,1354.1L801.0,1354.0L805.0,1354.0L809.0,1354.0L813.0,1354.0L817.0,1354.0L821.0,1354.0L825.0,1354.0L829.1,1354.0L833.1,1354.0L837.1,1354.0L841.1,1353.9L845.1,1353.9L849.1,1353.9L853.1,1353.9L857.1,1353.9L861.1,1353.9L865.1,1353.9L869.2,1353.9L873.2,1353.9L877.2,1353.9L881.2,1353.9L885.2,1353.9L889.2,1353.9L893.2,1353.9L897.2,1353.9L901.2,1353.9L905.2,1353.9L909.3,1353.9L913.3,1353.9L917.3,1353.9L921.3,1353.9L925.3,1353.9L929.3,1353.9L933.3,1353.9L937.3,1353.9L941.3,1353.9L945.3,1353.9L949.4,1353.9L953.4,1353.9L957.4,1353.9L961.4,1353.9L965.4,1353.9L969.4,1353.9L973.4,1353.9L977.4,1353.9L981.4,1353.9L985.4,1353.9L989.4,1353.9L993.5,1353.9L997.5,1353.9L1001.5,1353.9L1005.5,1353.9L1009.5,1353.9L1013.5,1353.9L1017.5,1353.9L1021.5,1353.9L1025.5,1353.9L1029.5,1353.9L1033.6,1353.9L1037.6,1353.9L1041.6,1353.9L1045.6,1353.9L1049.6,1353.9L1053.6,1353.9L1057.6,1353.9L1061.6,1353.9L1065.6,1353.9L1069.6,1353.9L1073.7,1353.9L1077.7,1353.9L1081.7,1353.9L1085.7,1353.9L1089.7,1353.9L1093.7,1353.9L1097.7,1353.9L1101.7,1353.9L1105.7,1353.9L1109.7,1353.9L1113.8,1353.9L1117.8,1353.9L1121.8,1353.9L1125.8,1353.9L1129.8,1353.9L1133.8,1353.9L1137.8,1353.9L1141.8,1353.9L1145.8,1353.9L1149.8,1353.9L1153.9,1353.9L1157.9,1353.9L1161.9,1353.9L1165.9,1353.9L1169.9,1353.9L1173.9,1353.9L1177.9,1353.9L1181.9,1353.9L1185.9,1353.9L1189.9,1353.9L1193.9,1353.9L1198.0,1353.9L1202.0,1353.9L1206.0,1353.9L1210.0,1353.9L1214.0,1353.9L1218.0,1353.9L1222.0,1353.9L1226.0,1353.9L1230.0,1353.9L1234.0,1353.9L1238.1,1353.9L1242.1,1353.9L1246.1,1353.9L1250.1,1353.9L1254.1,1353.9L1258.1,1353.9L1262.1,1353.9L1266.1,1353.9L1270.1,1353.9L1274.1,1353.9L1278.2,1353.9L1282.2,1353.9L1286.2,1353.9L1290.2,1353.9L1294.2,1353.9L1298.2,1353.9L1302.2,1353.9L1306.2,1353.9L1310.2,1353.9L1314.2,1353.9L1318.3,1353.9L1322.3,1353.9L1326.3,1353.9L1330.3,1353.9L1334.3,1353.9L1338.3,1353.9L1342.3,1353.9L1346.3,1353.9L1350.3,1353.9L1354.3,1353.9L1358.3,1353.9L1362.4,1353.9L1366.4,1353.9L1370.4,1353.9L1374.4,1353.9L1378.4,1353.9L1382.4,1353.9L1386.4,1353.9L1390.4,1353.9L1394.4,1353.9L1398.4,1353.9L1402.5,1353.9L1406.5,1353.9L1410.5,1353.9L1414.5,1353.9L1418.5,1353.9L1422.5,1353.9L1426.5,1353.9L1430.5,1353.9L1434.5,1353.9L1438.5,1353.9L1442.6,1353.9L1446.6,1353.9L1450.6,1353.9L1454.6,1353.9L1458.6,1353.9L1462.6,1353.9L1466.6,1353.9L1470.6,1353.9L1474.6,1353.9L1478.6,1353.9L1482.7,1353.9L1486.7,1353.9L1490.7,1353.9L1494.7,1353.9L1498.7,1353.9L1502.7,1353.9L1506.7,1353.9L1510.7,1353.9L1514.7,1353.9L1518.7,1353.9L1522.8,1353.9L1526.8,1353.9L1530.8,1353.9L1534.8,1353.9L1538.8,1353.9L1542.8,1353.9L1546.8,1353.9L1550.8,1353.9L1554.8,1353.9L1558.8,1353.9L1562.8,1353.9L1566.9,1353.9L1570.9,1353.9L1574.9,1353.9L1578.9,1353.9L1582.9,1353.9L1586.9,1353.9L1590.9,1353.9L1594.9,1353.9L1598.9,1353.9L1602.9,1353.9L1607.0,1353.9L1611.0,1353.9L1615.0,1353.9L1619.0,1353.9L1623.0,1353.9L1627.0,1353.9L1631.0,1353.9L1635.0,1353.9L1639.0,1353.9L1643.0,1353.9L1647.1,1353.9L1651.1,1353.9L1655.1,1353.9L1659.1,1353.9L1663.1,1353.9L1667.1,1353.9L1671.1,1353.9L1675.1,1353.9L1679.1,1353.9L1683.1,1353.9L1687.2,1353.9L1691.2,1353.9L1695.2,1353.9L1699.2,1353.9L1703.2,1353.9L1707.2,1353.9"/>
<path stroke="#00ff00" d="M238.0,1353.9L238.2,1357.9L238.4,1361.9L238.5,1365.9L238.7,1369.9L238.9,1373.9L239.1,1377.9L239.3,1381.9L239.5,1385.9L239.7,1389.9L239.8,1393.9L240.0,1397.9L240.2,1402.0L240.4,1406.0L240.6,1410.0L240.8,1414.0L241.0,1418.0L241.2,1422.0L241.4,1426.0L241.6,1430.0L241.8,1434.0L242.0,1438.0L242.2,1442.0L242.4,1446.0L242.6,1450.0L242.8,1454.0L243.0,1458.0L243.2,1462.0L243.4,1466.0L243.7,1470.0L243.9,1474.0L244.1,1478.0L244.3,1482.0L244.5,1486.0L244.7,1490.0L245.0,1494.0L245.2,1498.0L245.4,1502.0L245.6,1506.0L245.9,1510.0L246.1,1514.0L246.3,1518.0L246.6,1522.0L246.8,1526.0L247.0,1530.1L247.3,1534.1L247.5,1538.1L247.8,1542.1L248.0,1546.1L248.2,1550.1L248.5,1554.1L248.7,1558.1L249.0,1562.1L249.3,1566.1L249.5,1570.1L249.8,1574.1L250.0,1578.1L250.3,1582.1L250.6,1586.1L250.8,1590.1L251.1,1594.1L251.4,1598.1L251.6,1602.1L251.9,1606.1L252.2,1610.1L252.5,1614.1L252.8,1618.1L253.1,1622.1L253.3,1626.1L253.6,1630.1L253.9,1634.0L254.2,1638.0L254.5,1642.0L254.8,1646.0L255.2,1650.0L255.5,1654.0L255.8,1658.0L256.1,1662.0L256.4,1666.0L256.8,1670.0L257.1,1674.0L257.4,1678.0L257.8,1682.0L258.1,1686.0L258.5,1690.0L258.8,1694.0L259.2,1698.0L259.5,1702.0L259.9,1706.0L260.3,1709.9L260.6,1713.9L261.0,1717.9L261.4,1721.9L261.8,1725.9L262.2,1729.9L262.6,1733.9L263.0,1737.9L263.4,1741.9L263.9,1745.8L264.3,1749.8L264.7,1753.8L265.2,1757.8L265.6,1761.8L266.1,1765.8L266.6,1769.7L267.1,1773.7L267.6,1777.7L268.1,1781.7L268.6,1785.7L269.1,1789.6L269.6,1793.6L270.2,1797.6L270.7,1801.5L271.3,1805.5L271.9,1809.5L272.5,1813.4L273.1,1817.4L273.8,1821.4L274.4,1825.3L275.1,1829.3L275.8,1833.2L276.5,1837.2L277.3,1841.1L278.1,1845.0L278.9,1848.9L279.7,1852.9L280.6,1856.8L281.5,1860.7L282.5,1864.6L283.5,1868.4L284.6,1872.3L285.8,1876.1L287.0,1879.9L288.4,1883.7L289.9,1887.4L291.6,1891.1L293.4,1894.6L295.6,1898.0L298.3,1901.0L301.5,1903.3L305.4,1904.2L309.3,1903.3L312.6,1901.1L315.6,1898.4L318.1,1895.3L320.5,1892.1L322.6,1888.7L324.7,1885.2L326.6,1881.7L328.4,1878.2L330.1,1874.5L331.8,1870.9L333.5,1867.3L335.1,1863.6L336.6,1859.9L338.1,1856.2L339.6,1852.4L341.1,1848.7L342.5,1845.0L343.9,1841.2L345.3,1837.4L346.7,1833.7L348.0,1829.9L349.4,1826.1L350.7,1822.3L352.0,1818.6L353.3,1814.8L354.6,1811.0L355.9,1807.2L357.2,1803.4L358.4,1799.6L359.7,1795.8L361.0,1792.0L362.2,1788.2L363.5,1784.4L364.7,1780.5L366.0,1776.7L367.2,1772.9L368.4,1769.1L369.7,1765.3L370.9,1761.5L372.1,1757.7L373.4,1753.9L374.6,1750.0L375.8,1746.2L377.1,1742.4L378.3,1738.6L379.5,1734.8L380.8,1731.0L382.0,1727.2L383.2,1723.3L384.5,1719.5L385.7,1715.7L387.0,1711.9L388.2,1708.1L389.5,1704.3L390.7,1700.5L392.0,1696.7L393.3,1692.9L394.5,1689.1L395.8,1685.3L397.1,1681.5L398.4,1677.7L399.6,1673.9L400.9,1670.1L402.2,1666.3L403.5,1662.5L404.9,1658.7L406.2,1654.9L407.5,1651.1L408.8,1647.4L410.2,1643.6L411.5,1639.8L412.9,1636.0L414.3,1632.3L415.6,1628.5L417.0,1624.7L418.4,1621.0L419.8,1617.2L421.2,1613.5L422.7,1609.7L424.1,1606.0L425.6,1602.3L427.0,1598.5L428.5,1594.8L430.0,1591.1L431.5,1587.4L433.0,1583.6L434.5,1579.9L436.0,1576.2L437.6,1572.5L439.2,1568.8L440.7,1565.2L442.3,1561.5L444.0,1557.8L445.6,1554.1L447.2,1550.5L448.9,1546.8L450.6,1543.2L452.3,1539.6L454.0,1536.0L455.7,1532.4L457.5,1528.7L459.3,1525.2L461.1,1521.6L462.9,1518.0L464.8,1514.5L466.6,1510.9L468.5,1507.4L470.5,1503.9L472.4,1500.4L474.4,1496.9L476.4,1493.4L478.4,1490.0L480.5,1486.5L482.6,1483.1L484.7,1479.7L486.9,1476.3L489.1,1473.0L491.3,1469.6L493.5,1466.3L495.8,1463.0L498.2,1459.8L500.5,1456.5L502.9,1453.3L505.4,1450.1L507.9,1447.0L510.4,1443.9L512.9,1440.8L515.6,1437.8L518.2,1434.7L520.9,1431.8L523.7,1428.9L526.4,1426.0L529.3,1423.1L532.2,1420.4L535.1,1417.6L538.1,1414.9L541.1,1412.3L544.2,1409.7L547.3,1407.2L550.4,1404.8L553.7,1402.4L556.9,1400.0L560.2,1397.7L563.6,1395.5L567.0,1393.4L570.4,1391.3L573.9,1389.3L577.4,1387.4L580.9,1385.6L584.5,1383.8L588.1,1382.1L591.8,1380.4L595.5,1378.8L599.2,1377.3L602.9,1375.9L606.7,1374.5L610.5,1373.2L614.3,1372.0L618.2,1370.8L622.0,1369.7L625.9,1368.6L629.8,1367.6L633.6,1366.7L637.6,1365.8L641.5,1365.0L645.4,1364.2L649.4,1363.5L653.3,1362.8L657.3,1362.1L661.2,1361.5L665.2,1361.0L669.2,1360.4L673.1,1359.9L677.1,1359.5L681.1,1359.0L685.1,1358.6L689.1,1358.3L693.1,1357.9L697.1,1357.6L701.1,1357.3L705.1,1357.0L709.1,1356.8L713.1,1356.5L717.1,1356.3L721.1,1356.1L725.1,1355.9L729.1,1355.7L733.1,1355.6L737.1,1355.4L741.1,1355.3L745.1,1355.2L749.1,1355.1L753.1,1354.9L757.1,1354.9L761.1,1354.8L765.2,1354.7L769.2,1354.6L773.2,1354.5L777.2,1354.5L781.2,1354.4L785.2,1354.4L789.2,1354.3L793.2,1354.3L797.2,1354.2L801.2,1354.2L805.2,1354.2L809.2,1354.2L813.3,1354.1L817.3,1354.1L821.3,1354.1L825.3,1354.1L829.3,1354.0L833.3,1354.0L837.3,1354.0L841.3,1354.0L845.3,1354.0L849.3,1354.0L853.3,1354.0L857.3,1354.0L861.4,1354.0L865.4,1354.0L869.4,1353.9L873.4,1353.9L877.4,1353.9L881.4,1353.9L885.4,1353.9L889.4,1353.9L893.4,1353.9L897.4,1353.9L901.4,1353.9L905.5,1353.9L909.5,1353.9L913.5,1353.9L917.5,1353.9L921.5,1353.9L925.5,1353.9L929.5,1353.9L933.5,1353.9L937.5,1353.9L941.5,1353.9L945.5,1353.9L949.6,1353.9L953.6,1353.9L957.6,1353.9L961.6,1353.9L965.6,1353.9L969.6,1353.9L973.6,1353.9L977.6,1353.9L981.6,1353.9L985.6,1353.9L989.6,1353.9L993.6,1353.9L997.7,1353.9L1001.7,1353.9L1005.7,1353.9L1009.7,1353.9L1013.7,1353.9L1017.7,1353.9L1021.7,1353.9L1025.7,1353.9L1029.7,1353.9L1033.7,1353.9L1037.7,1353.9L1041.8,1353.9L1045.8,1353.9L1049.8,1353.9L1053.8,1353.9L1057.8,1353.9L1061.8,1353.9L1065.8,1353.9L1069.8,1353.9L1073.8,1353.9L1077.8,1353.9L1081.8,1353.9L1085.8,1353.9L1089.9,1353.9L1093.9,1353.9L1097.9,1353.9L1101.9,1353.9L1105.9,1353.9L1109.9,1353.9L1113.9,1353.9L1117.9,1353.9L1121.9,1353.9L1125.9,1353.9L1129.9,1353.9L1134.0,1353.9L1138.0,1353.9L1142.0,1353.9L1146.0,1353.9L1150.0,1353.9L1154.0,1353.9L1158.0,1353.9L1162.0,1353.9L1166.0,1353.9L1170.0,1353.9L1174.0,1353.9L1178.0,1353.9L1182.1,1353.9L1186.1,1353.9L1190.1,1353.9L1194.1,1353.9L1198.1,1353.9L1202.1,1353.9L1206.1,1353.9L1210.1,1353.9L1214.1,1353.9L1218.1,1353.9L1222.1,1353.9L1226.2,1353.9L1230.2,1353.9L1234.2,1353.9L1238.2,1353.9L1242.2,1353.9L1246.2,1353.9L1250.2,1353.9L1254.2,1353.9L1258.2,1353.9L1262.2,1353.9L1266.2,1353.9L1270.2,1353.9L1274.3,1353.9L1278.3,1353.9L1282.3,1353.9L1286.3,1353.9L1290.3,1353.9L1294.3,1353.9L1298.3,1353.9L1302.3,1353.9L1306.3,1353.9L1310.3,1353.9L1314.3,1353.9L1318.4,1353.9L1322.4,1353.9L1326.4,1353.9L1330.4,1353.9L1334.4,1353.9L1338.4,1353.9L1342.4,1353.9L1346.4,1353.9L1350.4,1353.9L1354.4,1353.9L1358.4,1353.9L1362.4,1353.9L1366.5,1353.9L1370.5,1353.9L1374.5,1353.9L1378.5,1353.9L1382.5,1353.9L1386.5,1353.9L1390.5,1353.9L1394.5,1353.9L1398.5,1353.9L1402.5,1353.9L1406.5,1353.9L1410.6,1353.9L1414.6,1353.9L1418.6,1353.9L1422.6,1353.9L1426.6,1353.9L1430.6,1353.9L1434.6,1353.9L1438.6,1353.9L1442.6,1353.9L1446.6,1353.9L1450.6,1353.9L1454.7,1353.9L1458.7,1353.9L1462.7,1353.9L1466.7,1353.9L1470.7,1353.9L1474.7,1353.9L1478.7,1353.9L1482.7,1353.9L1486.7,1353.9L1490.7,1353.9L1494.7,1353.9L1498.7,1353.9L1502.8,1353.9L1506.8,1353.9L1510.8,1353.9L1514.8,1353.9L1518.8,1353.9L1522.8,1353.9L1526.8,1353.9L1530.8,1353.9L1534.8,1353.9L1538.8,1353.9L1542.8,1353.9L1546.9,1353.9L1550.9,1353.9L1554.9,1353.9L1558.9,1353.9L1562.9,1353.9L1566.9,1353.9L1570.9,1353.9L1574.9,1353.9L1578.9,1353.9L1582.9,1353.9L1586.9,1353.9L1590.9,1353.9L1595.0,1353.9L1599.0,1353.9L1603.0,1353.9L1607.0,1353.9L1611.0,1353.9L1615.0,1353.9L1619.0,1353.9L1623.0,1353.9L1627.0,1353.9L1631.0,1353.9L1635.0,1353.9L1639.1,1353.9L1643.1,1353.9L1647.1,1353.9L1651.1,1353.9L1655.1,1353.9L1659.1,1353.9L1663.1,1353.9L1667.1,1353.9L1671.1,1353.9L1675.1,1353.9L1679.1,1353.9L1683.1,1353.9L1687.2,1353.9L1691.2,1353.9L1695.2,1353.9L1699.2,1353.9L1703.2,1353.9L1707.2,1353.9"/>
<path stroke="#00ff00" d="M238.0,1353.9L238.2,1357.9L238.3,1361.9L238.5,1365.9L238.6,1369.9L238.8,1373.9L238.9,1377.9L239.1,1382.0L239.3,1386.0L239.4,1390.0L239.6,1394.0L239.7,1398.0L239.9,1402.0L240.1,1406.0L240.2,1410.0L240.4,1414.0L240.5,1418.0L240.7,1422.0L240.9,1426.0L241.0,1430.0L241.2,1434.0L241.4,1438.0L241.6,1442.1L241.7,1446.1L241.9,1450.1L242.1,1454.1L242.2,1458.1L242.4,1462.1L242.6,1466.1L242.8,1470.1L242.9,1474.1L243.1,1478.1L243.3,1482.1L243.5,1486.1L243.7,1490.1L243.8,1494.1L244.0,1498.1L244.2,1502.2L244.4,1506.2L244.6,1510.2L244.8,1514.2L245.0,1518.2L245.1,1522.2L245.3,1526.2L245.5,1530.2L245.7,1534.2L245.9,1538.2L246.1,1542.2L246.3,1546.2L246.5,1550.2L246.7,1554.2L246.9,1558.2L247.1,1562.2L247.3,1566.2L247.5,1570.2L247.7,1574.3L247.9,1578.3L248.1,1582.3L248.3,1586.3L248.5,1590.3L248.7,1594.3L249.0,1598.3L249.2,1602.3L249.4,1606.3L249.6,1610.3L249.8,1614.3L250.0,1618.3L250.3,1622.3L250.5,1626.3L250.7,1630.3L250.9,1634.3L251.2,1638.3L251.4,1642.3L251.6,1646.3L251.8,1650.3L252.1,1654.3L252.3,1658.3L252.5,1662.3L252.8,1666.4L253.0,1670.4L253.3,1674.4L253.5,1678.4L253.8,1682.4L254.0,1686.4L254.3,1690.4L254.5,1694.4L254.8,1698.4L255.0,1702.4L255.3,1706.4L255.5,1710.4L255.8,1714.4L256.1,1718.4L256.3,1722.4L256.6,1726.4L256.9,1730.4L257.2,1734.4L257.4,1738.4L257.7,1742.4L258.0,1746.4L258.3,1750.4L258.6,1754.4L258.9,1758.4L259.1,1762.4L259.4,1766.4L259.7,1770.4L260.0,1774.4L260.3,1778.4L260.7,1782.4L261.0,1786.4L261.3,1790.4L261.6,1794.4L261.9,1798.4L262.3,1802.4L262.6,1806.4L262.9,1810.4L263.3,1814.4L263.6,1818.4L263.9,1822.4L264.3,1826.3L264.6,1830.3L265.0,1834.3L265.4,1838.3L265.7,1842.3L266.1,1846.3L266.5,1850.3L266.9,1854.3L267.3,1858.3L267.6,1862.3L268.0,1866.3L268.5,1870.3L268.9,1874.3L269.3,1878.2L269.7,1882.2L270.1,1886.2L270.6,1890.2L271.0,1894.2L271.5,1898.2L271.9,1902.2L272.4,1906.1L272.9,1910.1L273.4,1914.1L273.9,1918.1L274.4,1922.1L274.9,1926.0L275.4,1930.0L276.0,1934.0L276.5,1938.0L277.1,1941.9L277.7,1945.9L278.3,1949.9L278.9,1953.8L279.5,1957.8L280.2,1961.7L280.8,1965.7L281.5,1969.6L282.2,1973.6L283.0,1977.5L283.7,1981.5L284.5,1985.4L285.3,1989.3L286.2,1993.2L287.1,1997.2L288.0,2001.1L289.0,2004.9L290.0,2008.8L291.1,2012.7L292.3,2016.5L293.6,2020.3L294.9,2024.1L296.4,2027.8L298.1,2031.5L300.0,2035.0L302.2,2038.4L304.8,2041.4L308.0,2043.7L311.9,2044.7L315.8,2043.9L319.1,2041.7L322.1,2039.0L324.6,2035.9L327.0,2032.7L329.1,2029.3L331.1,2025.8L333.0,2022.2L334.8,2018.7L336.5,2015.0L338.2,2011.4L339.8,2007.7L341.3,2004.0L342.8,2000.3L344.3,1996.6L345.7,1992.8L347.1,1989.1L348.5,1985.3L349.9,1981.5L351.2,1977.7L352.5,1974.0L353.8,1970.2L355.1,1966.4L356.4,1962.6L357.6,1958.7L358.9,1954.9L360.1,1951.1L361.3,1947.3L362.5,1943.5L363.7,1939.6L364.9,1935.8L366.1,1932.0L367.3,1928.2L368.4,1924.3L369.6,1920.5L370.8,1916.6L371.9,1912.8L373.1,1909.0L374.2,1905.1L375.3,1901.3L376.5,1897.4L377.6,1893.6L378.7,1889.7L379.9,1885.9L381.0,1882.0L382.1,1878.2L383.2,1874.3L384.4,1870.5L385.5,1866.6L386.6,1862.8L387.7,1858.9L388.8,1855.1L389.9,1851.2L391.1,1847.4L392.2,1843.5L393.3,1839.7L394.4,1835.8L395.5,1832.0L396.6,1828.1L397.8,1824.3L398.9,1820.4L400.0,1816.6L401.1,1812.7L402.2,1808.8L403.4,1805.0L404.5,1801.2L405.6,1797.3L406.8,1793.5L407.9,1789.6L409.0,1785.8L410.2,1781.9L411.3,1778.1L412.4,1774.2L413.6,1770.4L414.7,1766.5L415.9,1762.7L417.1,1758.9L418.2,1755.0L419.4,1751.2L420.6,1747.4L421.7,1743.5L422.9,1739.7L424.1,1735.9L425.3,1732.0L426.5,1728.2L427.7,1724.4L428.9,1720.5L430.1,1716.7L431.3,1712.9L432.5,1709.1L433.7,1705.3L435.0,1701.4L436.2,1697.6L437.5,1693.8L438.7,1690.0L440.0,1686.2L441.2,1682.4L442.5,1678.6L443.8,1674.8L445.1,1671.0L446.4,1667.2L447.7,1663.4L449.0,1659.6L450.3,1655.8L451.6,1652.0L453.0,1648.3L454.3,1644.5L455.7,1640.7L457.0,1636.9L458.4,1633.2L459.8,1629.4L461.2,1625.6L462.6,1621.9L464.0,1618.1L465.4,1614.4L466.9,1610.6L468.3,1606.9L469.8,1603.2L471.2,1599.4L472.7,1595.7L474.2,1592.0L475.7,1588.3L477.3,1584.6L478.8,1580.9L480.4,1577.2L481.9,1573.5L483.5,1569.8L485.1,1566.1L486.7,1562.4L488.3,1558.8L490.0,1555.1L491.7,1551.5L493.3,1547.8L495.0,1544.2L496.8,1540.6L498.5,1537.0L500.3,1533.4L502.0,1529.8L503.8,1526.2L505.6,1522.6L507.5,1519.0L509.4,1515.5L511.2,1512.0L513.1,1508.4L515.1,1504.9L517.0,1501.4L519.0,1497.9L521.0,1494.5L523.1,1491.0L525.1,1487.6L527.2,1484.2L529.4,1480.8L531.5,1477.4L533.7,1474.0L535.9,1470.7L538.2,1467.4L540.5,1464.1L542.8,1460.8L545.2,1457.5L547.5,1454.3L550.0,1451.1L552.4,1448.0L555.0,1444.8L557.5,1441.8L560.1,1438.7L562.7,1435.7L565.4,1432.7L568.1,1429.7L570.9,1426.8L573.7,1424.0L576.5,1421.1L579.4,1418.4L582.4,1415.6L585.4,1413.0L588.4,1410.3L591.5,1407.8L594.6,1405.3L597.8,1402.8L601.0,1400.4L604.3,1398.1L607.6,1395.9L611.0,1393.7L614.4,1391.5L617.8,1389.5L621.3,1387.5L624.8,1385.6L628.4,1383.8L632.0,1382.0L635.6,1380.3L639.3,1378.7L643.0,1377.1L646.7,1375.6L650.4,1374.2L654.2,1372.9L658.0,1371.6L661.9,1370.4L665.7,1369.2L669.6,1368.1L673.4,1367.1L677.3,1366.2L681.2,1365.2L685.2,1364.4L689.1,1363.6L693.0,1362.9L697.0,1362.2L700.9,1361.5L704.9,1360.9L708.9,1360.3L712.8,1359.8L716.8,1359.3L720.8,1358.9L724.8,1358.4L728.8,1358.1L732.8,1357.7L736.8,1357.4L740.8,1357.1L744.8,1356.8L748.8,1356.5L752.8,1356.3L756.8,1356.0L760.8,1355.8L764.8,1355.7L768.8,1355.5L772.8,1355.3L776.8,1355.2L780.8,1355.1L784.8,1355.0L788.8,1354.8L792.9,1354.8L796.9,1354.7L800.9,1354.6L804.9,1354.5L808.9,1354.4L812.9,1354.4L816.9,1354.3L820.9,1354.3L824.9,1354.2L828.9,1354.2L832.9,1354.2L837.0,1354.1L841.0,1354.1L845.0,1354.1L849.0,1354.1L853.0,1354.0L857.0,1354.0L861.0,1354.0L865.0,1354.0L869.0,1354.0L873.1,1354.0L877.1,1354.0L881.1,1354.0L885.1,1354.0L889.1,1354.0L893.1,1354.0L897.1,1353.9L901.1,1353.9L905.1,1353.9L909.1,1353.9L913.2,1353.9L917.2,1353.9L921.2,1353.9L925.2,1353.9L929.2,1353.9L933.2,1353.9L937.2,1353.9L941.2,1353.9L945.2,1353.9L949.2,1353.9L953.3,1353.9L957.3,1353.9L961.3,1353.9L965.3,1353.9L969.3,1353.9L973.3,1353.9L977.3,1353.9L981.3,1353.9L985.3,1353.9L989.4,1353.9L993.4,1353.9L997.4,1353.9L1001.4,1353.9L1005.4,1353.9L1009.4,1353.9L1013.4,1353.9L1017.4,1353.9L1021.4,1353.9L1025.4,1353.9L1029.5,1353.9L1033.5,1353.9L1037.5,1353.9L1041.5,1353.9L1045.5,1353.9L1049.5,1353.9L1053.5,1353.9L1057.5,1353.9L1061.5,1353.9L1065.5,1353.9L1069.6,1353.9L1073.6,1353.9L1077.6,1353.9L1081.6,1353.9L1085.6,1353.9L1089.6,1353.9L1093.6,1353.9L1097.6,1353.9L1101.6,1353.9L1105.7,1353.9L1109.7,1353.9L1113.7,1353.9L1117.7,1353.9L1121.7,1353.9L1125.7,1353.9L1129.7,1353.9L1133.7,1353.9L1137.7,1353.9L1141.7,1353.9L1145.8,1353.9L1149.8,1353.9L1153.8,1353.9L1157.8,1353.9L1161.8,1353.9L1165.8,1353.9L1169.8,1353.9L1173.8,1353.9L1177.8,1353.9L1181.8,1353.9L1185.9,1353.9L1189.9,1353.9L1193.9,1353.9L1197.9,1353.9L1201.9,1353.9L1205.9,1353.9L1209.9,1353.9L1213.9,1353.9L1217.9,1353.9L1222.0,1353.9L1226.0,1353.9L1230.0,1353.9L1234.0,1353.9L1238.0,1353.9L1242.0,1353.9L1246.0,1353.9L1250.0,1353.9L1254.0,1353.9L1258.0,1353.9L1262.1,1353.9L1266.1,1353.9L1270.1,1353.9L1274.1,1353.9L1278.1,1353.9L1282.1,1353.9L1286.1,1353.9L1290.1,1353.9L1294.1,1353.9L1298.1,1353.9L1302.2,1353.9L1306.2,1353.9L1310.2,1353.9L1314.2,1353.9L1318.2,1353.9L1322.2,1353.9L1326.2,1353.9L1330.2,1353.9L1334.2,1353.9L1338.2,1353.9L1342.3,1353.9L1346.3,1353.9L1350.3,1353.9L1354.3,1353.9L1358.3,1353.9L1362.3,1353.9L1366.3,1353.9L1370.3,1353.9L1374.3,1353.9L1378.4,1353.9L1382.4,1353.9L1386.4,1353.9L1390.4,1353.9L1394.4,1353.9L1398.4,1353.9L1402.4,1353.9L1406.4,1353.9L1410.4,1353.9L1414.4,1353.9L1418.5,1353.9L1422.5,1353.9L1426.5,1353.9L1430.5,1353.9L1434.5,1353.9L1438.5,1353.9L1442.5,1353.9L1446.5,1353.9L1450.5,1353.9L1454.5,1353.9L1458.6,1353.9L1462.6,1353.9L1466.6,1353.9L1470.6,1353.9L1474.6,1353.9L1478.6,1353.9L1482.6,1353.9L1486.6,1353.9L1490.6,1353.9L1494.7,1353.9L1498.7,1353.9L1502.7,1353.9L1506.7,1353.9L1510.7,1353.9L1514.7,1353.9L1518.7,1353.9L1522.7,1353.9L1526.7,1353.9L1530.7,1353.9L1534.8,1353.9L1538.8,1353.9L1542.8,1353.9L1546.8,1353.9L1550.8,1353.9L1554.8,1353.9L1558.8,1353.9L1562.8,1353.9L1566.8,1353.9L1570.8,1353.9L1574.9,1353.9L1578.9,1353.9L1582.9,1353.9L1586.9,1353.9L1590.9,1353.9L1594.9,1353.9L1598.9,1353.9L1602.9,1353.9L1606.9,1353.9L1611.0,1353.9L1615.0,1353.9L1619.0,1353.9L1623.0,1353.9L1627.0,1353.9L1631.0,1353.9L1635.0,1353.9L1639.0,1353.9L1643.0,1353.9L1647.0,1353.9L1651.1,1353.9L1655.1,1353.9L1659.1,1353.9L1663.1,1353.9L1667.1,1353.9L1671.1,1353.9L1675.1,1353.9L1679.1,1353.9L1683.1,1353.9L1687.1,1353.9L1691.2,1353.9L1695.2,1353.9L1699.2,1353.9L1703.2,1353.9L1707.2,1353.9"/>
<path stroke="#00ff00" d="M238.0,1353.9L238.1,1357.9L238.3,1361.9L238.4,1365.9L238.5,1369.9L238.7,1373.9L238.8,1377.9L238.9,1382.0L239.0,1386.0L239.2,1390.0L239.3,1394.0L239.4,1398.0L239.6,1402.0L239.7,1406.0L239.9,1410.0L240.0,1414.0L240.1,1418.0L240.3,1422.0L240.4,1426.0L240.5,1430.0L240.7,1434.1L240.8,1438.1L241.0,1442.1L241.1,1446.1L241.2,1450.1L241.4,1454.1L241.5,1458.1L241.7,1462.1L241.8,1466.1L241.9,1470.1L242.1,1474.1L242.2,1478.1L242.4,1482.1L242.5,1486.2L242.7,1490.2L242.8,1494.2L243.0,1498.2L243.1,1502.2L243.2,1506.2L243.4,1510.2L243.5,1514.2L243.7,1518.2L243.8,1522.2L244.0,1526.2L244.1,1530.2L244.3,1534.2L244.4,1538.2L244.6,1542.3L244.8,1546.3L244.9,1550.3L245.1,1554.3L245.2,1558.3L245.4,1562.3L245.5,1566.3L245.7,1570.3L245.8,1574.3L246.0,1578.3L246.2,1582.3L246.3,1586.3L246.5,1590.3L246.7,1594.3L246.8,1598.4L247.0,1602.4L247.1,1606.4L247.3,1610.4L247.5,1614.4L247.6,1618.4L247.8,1622.4L248.0,1626.4L248.1,1630.4L248.3,1634.4L248.5,1638.4L248.6,1642.4L248.8,1646.4L249.0,1650.4L249.2,1654.4L249.3,1658.5L249.5,1662.5L249.7,1666.5L249.9,1670.5L250.0,1674.5L250.2,1678.5L250.4,1682.5L250.6,1686.5L250.8,1690.5L250.9,1694.5L251.1,1698.5L251.3,1702.5L251.5,1706.5L251.7,1710.5L251.9,1714.5L252.0,1718.5L252.2,1722.5L252.4,1726.6L252.6,1730.6L252.8,1734.6L253.0,1738.6L253.2,1742.6L253.4,1746.6L253.6,1750.6L253.8,1754.6L254.0,1758.6L254.2,1762.6L254.4,1766.6L254.6,1770.6L254.8,1774.6L255.0,1778.6L255.2,1782.6L255.4,1786.6L255.6,1790.6L255.8,1794.6L256.0,1798.6L256.2,1802.6L256.4,1806.7L256.6,1810.7L256.9,1814.7L257.1,1818.7L257.3,1822.7L257.5,1826.7L257.7,1830.7L257.9,1834.7L258.2,1838.7L258.4,1842.7L258.6,1846.7L258.8,1850.7L259.1,1854.7L259.3,1858.7L259.5,1862.7L259.8,1866.7L260.0,1870.7L260.2,1874.7L260.5,1878.7L260.7,1882.7L261.0,1886.7L261.2,1890.7L261.4,1894.7L261.7,1898.7L261.9,1902.7L262.2,1906.7L262.4,1910.7L262.7,1914.7L262.9,1918.7L263.2,1922.7L263.5,1926.7L263.7,1930.8L264.0,1934.8L264.3,1938.8L264.5,1942.8L264.8,1946.8L265.1,1950.8L265.3,1954.8L265.6,1958.8L265.9,1962.8L266.2,1966.8L266.5,1970.8L266.8,1974.8L267.0,1978.8L267.3,1982.8L267.6,1986.8L267.9,1990.8L268.2,1994.8L268.5,1998.8L268.8,2002.8L269.1,2006.7L269.5,2010.7L269.8,2014.7L270.1,2018.7L270.4,2022.7L270.7,2026.7L271.1,2030.7L271.4,2034.7L271.7,2038.7L272.1,2042.7L272.4,2046.7L272.8,2050.7L273.1,2054.7L273.5,2058.7L273.8,2062.7L274.2,2066.7L274.6,2070.7L275.0,2074.7L275.3,2078.7L275.7,2082.7L276.1,2086.6L276.5,2090.6L276.9,2094.6L277.3,2098.6L277.7,2102.6L278.1,2106.6L278.6,2110.6L279.0,2114.6L279.4,2118.6L279.9,2122.5L280.3,2126.5L280.8,2130.5L281.3,2134.5L281.8,2138.5L282.2,2142.4L282.7,2146.4L283.2,2150.4L283.8,2154.4L284.3,2158.4L284.8,2162.3L285.4,2166.3L285.9,2170.3L286.5,2174.2L287.1,2178.2L287.7,2182.2L288.3,2186.1L288.9,2190.1L289.6,2194.1L290.3,2198.0L291.0,2202.0L291.7,2205.9L292.4,2209.8L293.2,2213.8L294.0,2217.7L294.8,2221.6L295.6,2225.6L296.5,2229.5L297.5,2233.4L298.5,2237.2L299.5,2241.1L300.6,2245.0L301.8,2248.8L303.1,2252.6L304.5,2256.4L306.0,2260.1L307.7,2263.7L309.6,2267.2L311.9,2270.5L314.6,2273.5L318.0,2275.5L322.0,2275.8L325.7,2274.3L328.8,2271.7L331.4,2268.8L333.8,2265.5L335.9,2262.1L337.9,2258.6L339.7,2255.0L341.4,2251.4L343.1,2247.8L344.7,2244.1L346.2,2240.4L347.6,2236.6L349.0,2232.9L350.4,2229.1L351.8,2225.3L353.1,2221.5L354.3,2217.7L355.6,2213.9L356.8,2210.1L358.0,2206.3L359.2,2202.5L360.4,2198.6L361.5,2194.8L362.7,2190.9L363.8,2187.1L364.9,2183.2L366.0,2179.4L367.1,2175.5L368.2,2171.7L369.2,2167.8L370.3,2163.9L371.3,2160.0L372.4,2156.2L373.4,2152.3L374.4,2148.4L375.4,2144.5L376.4,2140.7L377.5,2136.8L378.4,2132.9L379.4,2129.0L380.4,2125.1L381.4,2121.2L382.4,2117.3L383.4,2113.5L384.3,2109.6L385.3,2105.7L386.3,2101.8L387.2,2097.9L388.2,2094.0L389.1,2090.1L390.1,2086.2L391.0,2082.3L392.0,2078.4L392.9,2074.5L393.8,2070.6L394.8,2066.7L395.7,2062.8L396.6,2058.9L397.6,2055.0L398.5,2051.1L399.4,2047.2L400.4,2043.3L401.3,2039.4L402.2,2035.5L403.1,2031.6L404.1,2027.7L405.0,2023.8L405.9,2019.9L406.8,2016.0L407.8,2012.1L408.7,2008.2L409.6,2004.3L410.5,2000.4L411.5,1996.5L412.4,1992.6L413.3,1988.7L414.2,1984.8L415.2,1980.9L416.1,1977.0L417.0,1973.1L418.0,1969.2L418.9,1965.3L419.8,1961.4L420.7,1957.5L421.7,1953.6L422.6,1949.7L423.5,1945.8L424.5,1941.9L425.4,1938.0L426.3,1934.1L427.3,1930.2L428.2,1926.3L429.2,1922.4L430.1,1918.5L431.1,1914.6L432.0,1910.7L433.0,1906.8L433.9,1902.9L434.9,1899.0L435.8,1895.1L436.8,1891.2L437.7,1887.3L438.7,1883.4L439.7,1879.5L440.6,1875.6L441.6,1871.8L442.6,1867.9L443.6,1864.0L444.5,1860.1L445.5,1856.2L446.5,1852.3L447.5,1848.4L448.5,1844.5L449.5,1840.7L450.5,1836.8L451.5,1832.9L452.5,1829.0L453.5,1825.1L454.5,1821.2L455.5,1817.4L456.6,1813.5L457.6,1809.6L458.6,1805.7L459.7,1801.9L460.7,1798.0L461.7,1794.1L462.8,1790.2L463.8,1786.4L464.9,1782.5L465.9,1778.6L467.0,1774.8L468.1,1770.9L469.2,1767.0L470.2,1763.2L471.3,1759.3L472.4,1755.5L473.5,1751.6L474.6,1747.8L475.7,1743.9L476.8,1740.0L478.0,1736.2L479.1,1732.3L480.2,1728.5L481.4,1724.7L482.5,1720.8L483.6,1717.0L484.8,1713.1L486.0,1709.3L487.1,1705.5L488.3,1701.6L489.5,1697.8L490.7,1694.0L491.9,1690.1L493.1,1686.3L494.3,1682.5L495.6,1678.7L496.8,1674.9L498.0,1671.1L499.3,1667.2L500.5,1663.4L501.8,1659.6L503.1,1655.8L504.4,1652.0L505.7,1648.2L507.0,1644.4L508.3,1640.7L509.6,1636.9L511.0,1633.1L512.3,1629.3L513.7,1625.5L515.0,1621.8L516.4,1618.0L517.8,1614.3L519.2,1610.5L520.7,1606.8L522.1,1603.0L523.5,1599.3L525.0,1595.5L526.5,1591.8L527.9,1588.1L529.4,1584.4L531.0,1580.6L532.5,1576.9L534.0,1573.2L535.6,1569.5L537.2,1565.9L538.8,1562.2L540.4,1558.5L542.0,1554.8L543.7,1551.2L545.3,1547.5L547.0,1543.9L548.7,1540.3L550.4,1536.6L552.2,1533.0L553.9,1529.4L555.7,1525.8L557.5,1522.3L559.4,1518.7L561.2,1515.1L563.1,1511.6L565.0,1508.1L566.9,1504.5L568.9,1501.0L570.8,1497.6L572.8,1494.1L574.9,1490.6L576.9,1487.2L579.0,1483.8L581.2,1480.4L583.3,1477.0L585.5,1473.6L587.7,1470.3L590.0,1467.0L592.3,1463.7L594.6,1460.4L597.0,1457.2L599.4,1454.0L601.8,1450.8L604.3,1447.6L606.8,1444.5L609.3,1441.4L611.9,1438.3L614.6,1435.3L617.3,1432.4L620.0,1429.4L622.8,1426.5L625.6,1423.7L628.5,1420.9L631.4,1418.1L634.3,1415.4L637.3,1412.7L640.4,1410.1L643.5,1407.6L646.6,1405.1L649.8,1402.7L653.1,1400.3L656.3,1398.0L659.7,1395.8L663.0,1393.6L666.5,1391.5L669.9,1389.5L673.4,1387.5L676.9,1385.6L680.5,1383.8L684.1,1382.0L687.8,1380.4L691.4,1378.8L695.1,1377.2L698.9,1375.7L702.6,1374.4L706.4,1373.0L710.2,1371.8L714.0,1370.6L717.9,1369.4L721.8,1368.4L725.6,1367.3L729.5,1366.4L733.4,1365.5L737.4,1364.6L741.3,1363.8L745.2,1363.1L749.2,1362.4L753.1,1361.8L757.1,1361.1L761.1,1360.6L765.0,1360.0L769.0,1359.6L773.0,1359.1L777.0,1358.7L781.0,1358.3L785.0,1357.9L789.0,1357.6L793.0,1357.3L797.0,1357.0L801.0,1356.7L805.0,1356.5L809.0,1356.2L813.0,1356.0L817.0,1355.8L821.0,1355.6L825.0,1355.5L829.0,1355.3L833.0,1355.2L837.0,1355.1L841.0,1355.0L845.0,1354.9L849.1,1354.8L853.1,1354.7L857.1,1354.6L861.1,1354.5L865.1,1354.5L869.1,1354.4L873.1,1354.4L877.1,1354.3L881.1,1354.3L885.1,1354.3L889.1,1354.2L893.2,1354.2L897.2,1354.2L901.2,1354.2L905.2,1354.1L909.2,1354.1L913.2,1354.1L917.2,1354.1L921.2,1354.1L925.2,1354.1L929.2,1354.0L933.3,1354.0L937.3,1354.0L941.3,1354.0L945.3,1354.0L949.3,1354.0L953.3,1354.0L957.3,1354.0L961.3,1354.0L965.3,1354.0L969.3,1354.0L973.4,1354.0L977.4,1354.0L981.4,1354.0L985.4,1353.9L989.4,1353.9L993.4,1353.9L997.4,1353.9L1001.4,1353.9L1005.4,1353.9L1009.4,1353.9L1013.5,1353.9L1017.5,1353.9L1021.5,1353.9L1025.5,1353.9L1029.5,1353.9L1033.5,1353.9L1037.5,1353.9L1041.5,1353.9L1045.5,1353.9L1049.6,1353.9L1053.6,1353.9L1057.6,1353.9L1061.6,1353.9L1065.6,1353.9L1069.6,1353.9L1073.6,1353.9L1077.6,1353.9L1081.6,1353.9L1085.6,1353.9L1089.7,1353.9L1093.7,1353.9L1097.7,1353.9L1101.7,1353.9L1105.7,1353.9L1109.7,1353.9L1113.7,1353.9L1117.7,1353.9L1121.7,1353.9L1125.7,1353.9L1129.8,1353.9L1133.8,1353.9L1137.8,1353.9L1141.8,1353.9L1145.8,1353.9L1149.8,1353.9L1153.8,1353.9L1157.8,1353.9L1161.8,1353.9L1165.8,1353.9L1169.9,1353.9L1173.9,1353.9L1177.9,1353.9L1181.9,1353.9L1185.9,1353.9L1189.9,1353.9L1193.9,1353.9L1197.9,1353.9L1201.9,1353.9L1205.9,1353.9L1210.0,1353.9L1214.0,1353.9L1218.0,1353.9L1222.0,1353.9L1226.0,1353.9L1230.0,1353.9L1234.0,1353.9L1238.0,1353.9L1242.0,1353.9L1246.0,1353.9L1250.1,1353.9L1254.1,1353.9L1258.1,1353.9L1262.1,1353.9L1266.1,1353.9L1270.1,1353.9L1274.1,1353.9L1278.1,1353.9L1282.1,1353.9L1286.1,1353.9L1290.2,1353.9L1294.2,1353.9L1298.2,1353.9L1302.2,1353.9L1306.2,1353.9L1310.2,1353.9L1314.2,1353.9L1318.2,1353.9L1322.2,1353.9L1326.2,1353.9L1330.3,1353.9L1334.3,1353.9L1338.3,1353.9L1342.3,1353.9L1346.3,1353.9L1350.3,1353.9L1354.3,1353.9L1358.3,1353.9L1362.3,1353.9L1366.3,1353.9L1370.4,1353.9L1374.4,1353.9L1378.4,1353.9L1382.4,1353.9L1386.4,1353.9L1390.4,1353.9L1394.4,1353.9L1398.4,1353.9L1402.4,1353.9L1406.4,1353.9L1410.5,1353.9L1414.5,1353.9L1418.5,1353.9L1422.5,1353.9L1426.5,1353.9L1430.5,1353.9L1434.5,1353.9L1438.5,1353.9L1442.5,1353.9L1446.5,1353.9L1450.6,1353.9L1454.6,1353.9L1458.6,1353.9L1462.6,1353.9L1466.6,1353.9L1470.6,1353.9L1474.6,1353.9L1478.6,1353.9L1482.6,1353.9L1486.6,1353.9L1490.7,1353.9L1494.7,1353.9L1498.7,1353.9L1502.7,1353.9L1506.7,1353.9L1510.7,1353.9L1514.7,1353.9L1518.7,1353.9L1522.7,1353.9L1526.7,1353.9L1530.8,1353.9L1534.8,1353.9L1538.8,1353.9L1542.8,1353.9L1546.8,1353.9L1550.8,1353.9L1554.8,1353.9L1558.8,1353.9L1562.8,1353.9L1566.8,1353.9L1570.9,1353.9L1574.9,1353.9L1578.9,1353.9L1582.9,1353.9L1586.9,1353.9L1590.9,1353.9L1594.9,1353.9L1598.9,1353.9L1602.9,1353.9L1606.9,1353.9L1611.0,1353.9L1615.0,1353.9L1619.0,1353.9L1623.0,1353.9L1627.0,1353.9L1631.0,1353.9L1635.0,1353.9L1639.0,1353.9L1643.0,1353.9L1647.0,1353.9L1651.1,1353.9L1655.1,1353.9L1659.1,1353.9L1663.1,1353.9L1667.1,1353.9L1671.1,1353.9L1675.1,1353.9L1679.1,1353.9L1683.1,1353.9L1687.1,1353.9L1691.2,1353.9L1695.2,1353.9L1699.2,1353.9L1703.2,1353.9L1707.2,1353.9"/>
<path stroke="#00ff00" d="M238.0,1353.9L238.1,1357.9L238.2,1361.9L238.4,1365.9L238.5,1369.9L238.6,1373.9L238.8,1377.9L238.9,1382.0L239.0,1386.0L239.1,1390.0L239.3,1394.0L239.4,1398.0L239.5,1402.0L239.6,1406.0L239.8,1410.0L239.9,1414.0L240.0,1418.0L240.2,1422.0L240.3,1426.0L240.4,1430.0L240.6,1434.0L240.7,1438.1L240.8,1442.1L241.0,1446.1L241.1,1450.1L241.2,1454.1L241.4,1458.1L241.5,1462.1L241.6,1466.1L241.8,1470.1L241.9,1474.1L242.0,1478.1L242.2,1482.1L242.3,1486.1L242.4,1490.1L242.6,1494.1L242.7,1498.2L242.9,1502.2L243.0,1506.2L243.1,1510.2L243.3,1514.2L243.4,1518.2L243.6,1522.2L243.7,1526.2L243.8,1530.2L244.0,1534.2L244.1,1538.2L244.3,1542.2L244.4,1546.2L244.6,1550.2L244.7,1554.2L244.8,1558.3L245.0,1562.3L245.1,1566.3L245.3,1570.3L245.4,1574.3L245.6,1578.3L245.7,1582.3L245.9,1586.3L246.0,1590.3L246.2,1594.3L246.3,1598.3L246.5,1602.3L246.6,1606.3L246.8,1610.3L246.9,1614.3L247.1,1618.4L247.2,1622.4L247.4,1626.4L247.5,1630.4L247.7,1634.4L247.8,1638.4L248.0,1642.4L248.1,1646.4L248.3,1650.4L248.5,1654.4L248.6,1658.4L248.8,1662.4L248.9,1666.4L249.1,1670.4L249.2,1674.4L249.4,1678.4L249.6,1682.5L249.7,1686.5L249.9,1690.5L250.1,1694.5L250.2,1698.5L250.4,1702.5L250.5,1706.5L250.7,1710.5L250.9,1714.5L251.0,1718.5L251.2,1722.5L251.4,1726.5L251.5,1730.5L251.7,1734.5L251.9,1738.5L252.1,1742.5L252.2,1746.5L252.4,1750.5L252.6,1754.6L252.7,1758.6L252.9,1762.6L253.1,1766.6L253.3,1770.6L253.4,1774.6L253.6,1778.6L253.8,1782.6L254.0,1786.6L254.2,1790.6L254.3,1794.6L254.5,1798.6L254.7,1802.6L254.9,1806.6L255.1,1810.6L255.2,1814.6L255.4,1818.6L255.6,1822.6L255.8,1826.6L256.0,1830.7L256.2,1834.7L256.4,1838.7L256.6,1842.7L256.7,1846.7L256.9,1850.7L257.1,1854.7L257.3,1858.7L257.5,1862.7L257.7,1866.7L257.9,1870.7L258.1,1874.7L258.3,1878.7L258.5,1882.7L258.7,1886.7L258.9,1890.7L259.1,1894.7L259.3,1898.7L259.5,1902.7L259.7,1906.7L259.9,1910.7L260.1,1914.7L260.3,1918.7L260.5,1922.8L260.8,1926.8L261.0,1930.8L261.2,1934.8L261.4,1938.8L261.6,1942.8L261.8,1946.8L262.0,1950.8L262.3,1954.8L262.5,1958.8L262.7,1962.8L262.9,1966.8L263.1,1970.8L263.4,1974.8L263.6,1978.8L263.8,1982.8L264.0,1986.8L264.3,1990.8L264.5,1994.8L264.7,1998.8L265.0,2002.8L265.2,2006.8L265.4,2010.8L265.7,2014.8L265.9,2018.8L266.2,2022.8L266.4,2026.8L266.6,2030.8L266.9,2034.8L267.1,2038.8L267.4,2042.8L267.6,2046.8L267.9,2050.8L268.1,2054.8L268.4,2058.8L268.7,2062.8L268.9,2066.8L269.2,2070.8L269.4,2074.8L269.7,2078.8L270.0,2082.8L270.2,2086.8L270.5,2090.8L270.8,2094.8L271.1,2098.8L271.3,2102.8L271.6,2106.8L271.9,2110.8L272.2,2114.8L272.5,2118.8L272.8,2122.8L273.1,2126.8L273.4,2130.8L273.6,2134.8L273.9,2138.8L274.2,2142.8L274.5,2146.8L274.9,2150.8L275.2,2154.8L275.5,2158.8L275.8,2162.8L276.1,2166.8L276.4,2170.8L276.8,2174.8L277.1,2178.8L277.4,2182.8L277.7,2186.8L278.1,2190.8L278.4,2194.8L278.8,2198.8L279.1,2202.8L279.5,2206.8L279.8,2210.8L280.2,2214.7L280.5,2218.7L280.9,2222.7L281.3,2226.7L281.6,2230.7L282.0,2234.7L282.4,2238.7L282.8,2242.7L283.2,2246.7L283.6,2250.7L284.0,2254.7L284.4,2258.6L284.8,2262.6L285.2,2266.6L285.7,2270.6L286.1,2274.6L286.5,2278.6L287.0,2282.6L287.4,2286.5L287.9,2290.5L288.4,2294.5L288.8,2298.5L289.3,2302.5L289.8,2306.4L290.3,2310.4L290.8,2314.4L291.4,2318.4L291.9,2322.4L292.4,2326.3L293.0,2330.3L293.5,2334.3L294.1,2338.2L294.7,2342.2L295.3,2346.2L295.9,2350.1L296.6,2354.1L297.2,2358.0L297.9,2362.0L298.6,2365.9L299.3,2369.9L300.0,2373.8L300.8,2377.8L301.6,2381.7L302.4,2385.6L303.2,2389.5L304.1,2393.5L305.0,2397.4L306.0,2401.2L307.0,2405.1L308.1,2409.0L309.3,2412.8L310.5,2416.6L311.8,2420.4L313.3,2424.1L314.9,2427.8L316.7,2431.4L318.9,2434.8L321.4,2437.9L324.6,2440.2L328.5,2441.0L332.3,2439.7L335.4,2437.2L338.1,2434.2L340.4,2430.9L342.4,2427.5L344.3,2423.9L346.1,2420.3L347.7,2416.7L349.3,2413.0L350.8,2409.3L352.2,2405.5L353.6,2401.8L354.9,2398.0L356.2,2394.2L357.4,2390.4L358.7,2386.5L359.8,2382.7L361.0,2378.9L362.1,2375.0L363.3,2371.2L364.4,2367.3L365.4,2363.5L366.5,2359.6L367.5,2355.7L368.6,2351.9L369.6,2348.0L370.6,2344.1L371.6,2340.2L372.6,2336.3L373.5,2332.4L374.5,2328.5L375.4,2324.6L376.4,2320.8L377.3,2316.9L378.2,2312.9L379.2,2309.0L380.1,2305.1L381.0,2301.2L381.9,2297.3L382.8,2293.4L383.6,2289.5L384.5,2285.6L385.4,2281.7L386.3,2277.8L387.1,2273.9L388.0,2269.9L388.8,2266.0L389.7,2262.1L390.5,2258.2L391.4,2254.3L392.2,2250.3L393.1,2246.4L393.9,2242.5L394.7,2238.6L395.6,2234.7L396.4,2230.7L397.2,2226.8L398.0,2222.9L398.8,2219.0L399.7,2215.0L400.5,2211.1L401.3,2207.2L402.1,2203.3L402.9,2199.3L403.7,2195.4L404.5,2191.5L405.3,2187.6L406.1,2183.6L406.9,2179.7L407.7,2175.8L408.5,2171.8L409.3,2167.9L410.1,2164.0L410.9,2160.0L411.7,2156.1L412.5,2152.2L413.3,2148.3L414.1,2144.3L414.9,2140.4L415.7,2136.5L416.5,2132.5L417.3,2128.6L418.1,2124.7L418.8,2120.7L419.6,2116.8L420.4,2112.9L421.2,2109.0L422.0,2105.0L422.8,2101.1L423.6,2097.2L424.4,2093.2L425.2,2089.3L426.0,2085.4L426.8,2081.4L427.6,2077.5L428.4,2073.6L429.1,2069.7L429.9,2065.7L430.7,2061.8L431.5,2057.9L432.3,2053.9L433.1,2050.0L433.9,2046.1L434.7,2042.2L435.5,2038.2L436.3,2034.3L437.1,2030.4L437.9,2026.4L438.7,2022.5L439.6,2018.6L440.4,2014.7L441.2,2010.7L442.0,2006.8L442.8,2002.9L443.6,1999.0L444.4,1995.0L445.2,1991.1L446.1,1987.2L446.9,1983.3L447.7,1979.3L448.5,1975.4L449.4,1971.5L450.2,1967.6L451.0,1963.6L451.9,1959.7L452.7,1955.8L453.5,1951.9L454.4,1948.0L455.2,1944.0L456.0,1940.1L456.9,1936.2L457.7,1932.3L458.6,1928.4L459.4,1924.4L460.3,1920.5L461.2,1916.6L462.0,1912.7L462.9,1908.8L463.7,1904.9L464.6,1901.0L465.5,1897.0L466.4,1893.1L467.2,1889.2L468.1,1885.3L469.0,1881.4L469.9,1877.5L470.8,1873.6L471.7,1869.7L472.6,1865.8L473.5,1861.9L474.4,1857.9L475.3,1854.0L476.2,1850.1L477.1,1846.2L478.0,1842.3L479.0,1838.4L479.9,1834.5L480.8,1830.6L481.7,1826.7L482.7,1822.8L483.6,1818.9L484.6,1815.0L485.5,1811.1L486.5,1807.3L487.5,1803.4L488.4,1799.5L489.4,1795.6L490.4,1791.7L491.3,1787.8L492.3,1783.9L493.3,1780.0L494.3,1776.2L495.3,1772.3L496.3,1768.4L497.3,1764.5L498.4,1760.6L499.4,1756.8L500.4,1752.9L501.5,1749.0L502.5,1745.1L503.5,1741.3L504.6,1737.4L505.7,1733.5L506.7,1729.7L507.8,1725.8L508.9,1721.9L510.0,1718.1L511.1,1714.2L512.2,1710.4L513.3,1706.5L514.4,1702.7L515.5,1698.8L516.7,1695.0L517.8,1691.1L519.0,1687.3L520.1,1683.5L521.3,1679.6L522.5,1675.8L523.7,1672.0L524.8,1668.1L526.0,1664.3L527.3,1660.5L528.5,1656.7L529.7,1652.9L531.0,1649.0L532.2,1645.2L533.5,1641.4L534.8,1637.6L536.0,1633.8L537.3,1630.0L538.6,1626.3L540.0,1622.5L541.3,1618.7L542.7,1614.9L544.0,1611.1L545.4,1607.4L546.8,1603.6L548.2,1599.9L549.6,1596.1L551.0,1592.4L552.4,1588.6L553.9,1584.9L555.4,1581.1L556.9,1577.4L558.4,1573.7L559.9,1570.0L561.4,1566.3L563.0,1562.6L564.6,1558.9L566.1,1555.2L567.8,1551.6L569.4,1547.9L571.0,1544.2L572.7,1540.6L574.4,1537.0L576.1,1533.3L577.8,1529.7L579.6,1526.1L581.4,1522.5L583.2,1519.0L585.0,1515.4L586.9,1511.8L588.8,1508.3L590.7,1504.8L592.6,1501.3L594.6,1497.8L596.6,1494.3L598.6,1490.8L600.6,1487.4L602.7,1483.9L604.8,1480.5L607.0,1477.2L609.2,1473.8L611.4,1470.5L613.6,1467.1L615.9,1463.8L618.3,1460.6L620.6,1457.3L623.0,1454.1L625.5,1451.0L628.0,1447.8L630.5,1444.7L633.1,1441.6L635.7,1438.6L638.3,1435.6L641.0,1432.6L643.8,1429.7L646.6,1426.8L649.4,1424.0L652.3,1421.2L655.3,1418.5L658.2,1415.8L661.3,1413.2L664.3,1410.6L667.5,1408.1L670.6,1405.7L673.9,1403.3L677.1,1401.0L680.4,1398.7L683.8,1396.5L687.2,1394.4L690.6,1392.3L694.1,1390.3L697.6,1388.4L701.2,1386.5L704.8,1384.7L708.4,1383.0L712.0,1381.4L715.7,1379.8L719.4,1378.3L723.2,1376.8L726.9,1375.5L730.7,1374.2L734.5,1372.9L738.4,1371.7L742.2,1370.6L746.1,1369.5L750.0,1368.5L753.9,1367.6L757.8,1366.7L761.7,1365.8L765.6,1365.0L769.5,1364.3L773.5,1363.5L777.4,1362.9L781.4,1362.2L785.4,1361.7L789.3,1361.1L793.3,1360.6L797.3,1360.1L801.3,1359.6L805.3,1359.2L809.3,1358.8L813.3,1358.5L817.2,1358.1L821.2,1357.8L825.2,1357.5L829.2,1357.2L833.2,1357.0L837.2,1356.7L841.2,1356.5L845.2,1356.3L849.3,1356.1L853.3,1355.9L857.3,1355.8L861.3,1355.6L865.3,1355.5L869.3,1355.3L873.3,1355.2L877.3,1355.1L881.3,1355.0L885.3,1354.9L889.3,1354.8L893.3,1354.8L897.3,1354.7L901.4,1354.6L905.4,1354.6L909.4,1354.5L913.4,1354.5L917.4,1354.4L921.4,1354.4L925.4,1354.4L929.4,1354.3L933.4,1354.3L937.4,1354.3L941.4,1354.2L945.5,1354.2L949.5,1354.2L953.5,1354.2L957.5,1354.1L961.5,1354.1L965.5,1354.1L969.5,1354.1L973.5,1354.1L977.5,1354.1L981.5,1354.0L985.5,1354.0L989.6,1354.0L993.6,1354.0L997.6,1354.0L1001.6,1354.0L1005.6,1354.0L1009.6,1354.0L1013.6,1354.0L1017.6,1354.0L1021.6,1354.0L1025.6,1354.0L1029.6,1354.0L1033.7,1353.9L1037.7,1353.9L1041.7,1353.9L1045.7,1353.9L1049.7,1353.9L1053.7,1353.9L1057.7,1353.9L1061.7,1353.9L1065.7,1353.9L1069.7,1353.9L1073.7,1353.9L1077.8,1353.9L1081.8,1353.9L1085.8,1353.9L1089.8,1353.9L1093.8,1353.9L1097.8,1353.9L1101.8,1353.9L1105.8,1353.9L1109.8,1353.9L1113.8,1353.9L1117.8,1353.9L1121.9,1353.9L1125.9,1353.9L1129.9,1353.9L1133.9,1353.9L1137.9,1353.9L1141.9,1353.9L1145.9,1353.9L1149.9,1353.9L1153.9,1353.9L1157.9,1353.9L1161.9,1353.9L1166.0,1353.9L1170.0,1353.9L1174.0,1353.9L1178.0,1353.9L1182.0,1353.9L1186.0,1353.9L1190.0,1353.9L1194.0,1353.9L1198.0,1353.9L1202.0,1353.9L1206.0,1353.9L1210.1,1353.9L1214.1,1353.9L1218.1,1353.9L1222.1,1353.9L1226.1,1353.9L1230.1,1353.9L1234.1,1353.9L1238.1,1353.9L1242.1,1353.9L1246.1,1353.9L1250.1,1353.9L1254.2,1353.9L1258.2,1353.9L1262.2,1353.9L1266.2,1353.9L1270.2,1353.9L1274.2,1353.9L1278.2,1353.9L1282.2,1353.9L1286.2,1353.9L1290.2,1353.9L1294.3,1353.9L1298.3,1353.9L1302.3,1353.9L1306.3,1353.9L1310.3,1353.9L1314.3,1353.9L1318.3,1353.9L1322.3,1353.9L1326.3,1353.9L1330.3,1353.9L1334.3,1353.9L1338.4,1353.9L1342.4,1353.9L1346.4,1353.9L1350.4,1353.9L1354.4,1353.9L1358.4,1353.9L1362.4,1353.9L1366.4,1353.9L1370.4,1353.9L1374.4,1353.9L1378.4,1353.9L1382.5,1353.9L1386.5,1353.9L1390.5,1353.9L1394.5,1353.9L1398.5,1353.9L1402.5,1353.9L1406.5,1353.9L1410.5,1353.9L1414.5,1353.9L1418.5,1353.9L1422.5,1353.9L1426.6,1353.9L1430.6,1353.9L1434.6,1353.9L1438.6,1353.9L1442.6,1353.9L1446.6,1353.9L1450.6,1353.9L1454.6,1353.9L1458.6,1353.9L1462.6,1353.9L1466.6,1353.9L1470.7,1353.9L1474.7,1353.9L1478.7,1353.9L1482.7,1353.9L1486.7,1353.9L1490.7,1353.9L1494.7,1353.9L1498.7,1353.9L1502.7,1353.9L1506.7,1353.9L1510.7,1353.9L1514.8,1353.9L1518.8,1353.9L1522.8,1353.9L1526.8,1353.9L1530.8,1353.9L1534.8,1353.9L1538.8,1353.9L1542.8,1353.9L1546.8,1353.9L1550.8,1353.9L1554.8,1353.9L1558.9,1353.9L1562.9,1353.9L1566.9,1353.9L1570.9,1353.9L1574.9,1353.9L1578.9,1353.9L1582.9,1353.9L1586.9,1353.9L1590.9,1353.9L1594.9,1353.9L1599.0,1353.9L1603.0,1353.9L1607.0,1353.9L1611.0,1353.9L1615.0,1353.9L1619.0,1353.9L1623.0,1353.9L1627.0,1353.9L1631.0,1353.9L1635.0,1353.9L1639.0,1353.9L1643.1,1353.9L1647.1,1353.9L1651.1,1353.9L1655.1,1353.9L1659.1,1353.9L1663.1,1353.9L1667.1,1353.9L1671.1,1353.9L1675.1,1353.9L1679.1,1353.9L1683.1,1353.9L1687.2,1353.9L1691.2,1353.9L1695.2,1353.9L1699.2,1353.9L1703.2,1353.9L1707.2,1353.9"/>
<path stroke="#ff0000" stroke-dasharray="28.8 27.1" d="M238.0,1353.9L238.3,1357.9L238.6,1361.9L238.9,1365.9L239.2,1369.9L239.5,1373.9L239.8,1377.9L240.1,1381.9L240.4,1385.9L240.7,1389.9L241.0,1393.9L241.3,1397.9L241.6,1401.9L241.9,1405.9L242.2,1409.9L242.6,1413.9L242.9,1417.8L243.2,1421.8L243.5,1425.8L243.8,1429.8L244.2,1433.8L244.5,1437.8L244.8,1441.8L245.2,1445.8L245.5,1449.8L245.9,1453.8L246.2,1457.8L246.6,1461.8L246.9,1465.8L247.3,1469.8L247.6,1473.8L248.0,1477.8L248.3,1481.7L248.7,1485.7L249.1,1489.7L249.4,1493.7L249.8,1497.7L250.2,1501.7L250.6,1505.7L251.0,1509.7L251.4,1513.7L251.8,1517.7L252.1,1521.6L252.5,1525.6L253.0,1529.6L253.4,1533.6L253.8,1537.6L254.2,1541.6L254.6,1545.6L255.0,1549.6L255.5,1553.5L255.9,1557.5L256.4,1561.5L256.8,1565.5L257.3,1569.5L257.7,1573.5L258.2,1577.4L258.6,1581.4L259.1,1585.4L259.6,1589.4L260.1,1593.4L260.6,1597.3L261.1,1601.3L261.6,1605.3L262.1,1609.3L262.6,1613.2L263.2,1617.2L263.7,1621.2L264.3,1625.1L264.8,1629.1L265.4,1633.1L266.0,1637.0L266.5,1641.0L267.1,1645.0L267.8,1648.9L268.4,1652.9L269.0,1656.9L269.7,1660.8L270.3,1664.8L271.0,1668.7L271.7,1672.7L272.4,1676.6L273.1,1680.6L273.9,1684.5L274.6,1688.4L275.4,1692.4L276.2,1696.3L277.1,1700.2L277.9,1704.1L278.8,1708.0L279.7,1711.9L280.7,1715.8L281.7,1719.7L282.7,1723.6L283.8,1727.4L284.9,1731.3L286.1,1735.1L287.3,1738.9L288.6,1742.7L290.1,1746.5L291.6,1750.2L293.2,1753.8L295.0,1757.4L297.0,1760.9L299.3,1764.2L301.9,1767.2L305.0,1769.8L308.5,1771.6L312.5,1772.1L316.4,1771.2L319.9,1769.4L323.1,1766.9L325.9,1764.1L328.5,1761.0L331.0,1757.9L333.2,1754.6L335.4,1751.2L337.5,1747.8L339.5,1744.3L341.4,1740.8L343.3,1737.2L345.1,1733.6L346.9,1730.1L348.6,1726.4L350.3,1722.8L352.0,1719.2L353.6,1715.5L355.2,1711.9L356.8,1708.2L358.4,1704.5L360.0,1700.8L361.5,1697.1L363.1,1693.4L364.6,1689.7L366.1,1686.0L367.7,1682.3L369.2,1678.6L370.7,1674.9L372.1,1671.1L373.6,1667.4L375.1,1663.7L376.6,1660.0L378.1,1656.2L379.6,1652.5L381.0,1648.8L382.5,1645.1L384.0,1641.3L385.5,1637.6L387.0,1633.9L388.5,1630.2L390.0,1626.5L391.5,1622.7L393.0,1619.0L394.5,1615.3L396.0,1611.6L397.5,1607.9L399.0,1604.2L400.5,1600.5L402.1,1596.8L403.6,1593.1L405.2,1589.4L406.8,1585.7L408.3,1582.0L409.9,1578.3L411.5,1574.7L413.1,1571.0L414.8,1567.3L416.4,1563.7L418.0,1560.0L419.7,1556.4L421.4,1552.7L423.1,1549.1L424.8,1545.5L426.5,1541.9L428.3,1538.2L430.1,1534.6L431.8,1531.1L433.6,1527.5L435.5,1523.9L437.3,1520.4L439.2,1516.8L441.1,1513.3L443.0,1509.8L444.9,1506.3L446.9,1502.8L448.9,1499.3L450.9,1495.8L453.0,1492.4L455.1,1489.0L457.2,1485.5L459.3,1482.2L461.5,1478.8L463.7,1475.4L465.9,1472.1L468.2,1468.8L470.5,1465.6L472.9,1462.3L475.3,1459.1L477.7,1455.9L480.2,1452.8L482.7,1449.6L485.3,1446.6L487.9,1443.5L490.5,1440.5L493.2,1437.5L496.0,1434.6L498.7,1431.7L501.6,1428.9L504.5,1426.1L507.4,1423.4L510.4,1420.7L513.4,1418.1L516.5,1415.5L519.6,1413.0L522.8,1410.6L526.0,1408.2L529.3,1405.8L532.6,1403.6L535.9,1401.4L539.3,1399.3L542.8,1397.2L546.3,1395.2L549.8,1393.3L553.3,1391.5L556.9,1389.7L560.6,1388.0L564.2,1386.4L567.9,1384.8L571.6,1383.3L575.4,1381.8L579.1,1380.5L582.9,1379.1L586.7,1377.9L590.5,1376.7L594.4,1375.6L598.2,1374.5L602.1,1373.4L606.0,1372.5L609.9,1371.5L613.8,1370.7L617.7,1369.8L621.7,1369.0L625.6,1368.3L629.5,1367.6L633.5,1366.9L637.5,1366.2L641.4,1365.6L645.4,1365.1L649.4,1364.5L653.3,1364.0L657.3,1363.5L661.3,1363.1L665.3,1362.6L669.3,1362.2L673.3,1361.8L677.2,1361.5L681.2,1361.1L685.2,1360.8L689.2,1360.5L693.2,1360.2L697.2,1359.9L701.2,1359.7L705.2,1359.4L709.2,1359.2L713.2,1358.9L717.2,1358.7L721.2,1358.5L725.2,1358.3L729.2,1358.2L733.2,1358.0L737.3,1357.8L741.3,1357.7L745.3,1357.5L749.3,1357.4L753.3,1357.3L757.3,1357.2L761.3,1357.1L765.3,1356.9L769.3,1356.8L773.3,1356.7L777.3,1356.7L781.3,1356.6L785.3,1356.5L789.3,1356.4L793.3,1356.3L797.4,1356.3L801.4,1356.2L805.4,1356.1L809.4,1356.1"/>
<path stroke="#ff0000" stroke-dasharray="28.8 27.1" d="M238.0,1353.9L238.3,1357.9L238.5,1361.9L238.8,1365.9L239.0,1369.9L239.3,1373.9L239.5,1377.9L239.8,1381.9L240.1,1385.9L240.3,1389.9L240.6,1393.9L240.8,1397.9L241.1,1401.9L241.4,1405.9L241.6,1409.9L241.9,1413.9L242.2,1417.9L242.5,1421.9L242.7,1425.9L243.0,1429.9L243.3,1433.9L243.6,1437.9L243.9,1441.9L244.1,1445.9L244.4,1449.9L244.7,1453.9L245.0,1457.9L245.3,1461.9L245.6,1465.9L245.9,1469.9L246.2,1473.9L246.5,1477.9L246.8,1481.9L247.1,1485.9L247.4,1489.9L247.7,1493.9L248.0,1497.9L248.3,1501.9L248.6,1505.9L248.9,1509.9L249.3,1513.9L249.6,1517.8L249.9,1521.8L250.2,1525.8L250.6,1529.8L250.9,1533.8L251.2,1537.8L251.6,1541.8L251.9,1545.8L252.2,1549.8L252.6,1553.8L252.9,1557.8L253.3,1561.8L253.6,1565.8L254.0,1569.8L254.3,1573.8L254.7,1577.8L255.1,1581.8L255.4,1585.7L255.8,1589.7L256.2,1593.7L256.6,1597.7L256.9,1601.7L257.3,1605.7L257.7,1609.7L258.1,1613.7L258.5,1617.7L258.9,1621.7L259.3,1625.6L259.7,1629.6L260.1,1633.6L260.5,1637.6L261.0,1641.6L261.4,1645.6L261.8,1649.6L262.3,1653.6L262.7,1657.5L263.2,1661.5L263.6,1665.5L264.1,1669.5L264.5,1673.5L265.0,1677.4L265.5,1681.4L266.0,1685.4L266.4,1689.4L266.9,1693.4L267.4,1697.3L268.0,1701.3L268.5,1705.3L269.0,1709.3L269.5,1713.2L270.1,1717.2L270.6,1721.2L271.2,1725.2L271.8,1729.1L272.3,1733.1L272.9,1737.1L273.5,1741.0L274.2,1745.0L274.8,1748.9L275.4,1752.9L276.1,1756.8L276.7,1760.8L277.4,1764.8L278.1,1768.7L278.8,1772.6L279.6,1776.6L280.3,1780.5L281.1,1784.5L281.9,1788.4L282.7,1792.3L283.6,1796.2L284.5,1800.1L285.4,1804.0L286.3,1807.9L287.3,1811.8L288.3,1815.7L289.4,1819.6L290.5,1823.4L291.7,1827.2L292.9,1831.1L294.2,1834.8L295.6,1838.6L297.1,1842.3L298.8,1846.0L300.6,1849.6L302.6,1853.0L304.8,1856.3L307.5,1859.4L310.5,1861.9L314.2,1863.6L318.2,1863.8L322.0,1862.7L325.4,1860.6L328.4,1857.9L331.1,1855.0L333.6,1851.9L335.9,1848.6L338.1,1845.2L340.2,1841.8L342.1,1838.3L344.0,1834.8L345.9,1831.2L347.6,1827.6L349.3,1824.0L351.0,1820.3L352.6,1816.7L354.2,1813.0L355.8,1809.3L357.4,1805.6L358.9,1801.9L360.4,1798.2L361.9,1794.4L363.3,1790.7L364.8,1787.0L366.2,1783.2L367.6,1779.5L369.0,1775.7L370.4,1772.0L371.8,1768.2L373.2,1764.4L374.5,1760.7L375.9,1756.9L377.2,1753.1L378.6,1749.3L379.9,1745.6L381.3,1741.8L382.6,1738.0L383.9,1734.2L385.3,1730.5L386.6,1726.7L387.9,1722.9L389.3,1719.1L390.6,1715.3L391.9,1711.5L393.2,1707.8L394.6,1704.0L395.9,1700.2L397.2,1696.4L398.6,1692.6L399.9,1688.9L401.2,1685.1L402.6,1681.3L403.9,1677.5L405.3,1673.7L406.6,1670.0L408.0,1666.2L409.4,1662.4L410.7,1658.7L412.1,1654.9L413.5,1651.1L414.9,1647.4L416.3,1643.6L417.7,1639.9L419.1,1636.1L420.5,1632.4L421.9,1628.6L423.4,1624.9L424.8,1621.1L426.2,1617.4L427.7,1613.7L429.2,1609.9L430.7,1606.2L432.2,1602.5L433.7,1598.8L435.2,1595.1L436.7,1591.4L438.3,1587.7L439.8,1584.0L441.4,1580.3L443.0,1576.6L444.6,1572.9L446.2,1569.2L447.8,1565.6L449.5,1561.9L451.1,1558.3L452.8,1554.6L454.5,1551.0L456.2,1547.4L457.9,1543.8L459.7,1540.2L461.5,1536.6L463.3,1533.0L465.1,1529.4L466.9,1525.9L468.8,1522.3L470.7,1518.8L472.6,1515.2L474.5,1511.7L476.5,1508.2L478.5,1504.8L480.5,1501.3L482.6,1497.9L484.6,1494.4L486.8,1491.0L488.9,1487.6L491.1,1484.3L493.3,1480.9L495.5,1477.6L497.8,1474.3L500.1,1471.0L502.5,1467.8L504.8,1464.6L507.3,1461.4L509.7,1458.2L512.2,1455.1L514.8,1452.0L517.4,1448.9L520.0,1445.9L522.7,1442.9L525.4,1440.0L528.2,1437.1L531.0,1434.2L533.9,1431.4L536.8,1428.6L539.7,1425.9L542.7,1423.3L545.8,1420.7L548.8,1418.1L552.0,1415.6L555.2,1413.2L558.4,1410.8L561.7,1408.5L565.0,1406.2L568.3,1404.0L571.7,1401.9L575.2,1399.8L578.6,1397.8L582.1,1395.9L585.7,1394.0L589.3,1392.2L592.9,1390.5L596.5,1388.8L600.2,1387.2L603.9,1385.6L607.6,1384.2L611.4,1382.7L615.1,1381.4L618.9,1380.1L622.7,1378.8L626.6,1377.6L630.4,1376.5L634.3,1375.4L638.1,1374.4L642.0,1373.4L645.9,1372.4L649.8,1371.5L653.7,1370.7L657.7,1369.9L661.6,1369.1L665.5,1368.4L669.5,1367.7L673.4,1367.0L677.4,1366.4L681.4,1365.8L685.3,1365.2L689.3,1364.7L693.3,1364.2L697.3,1363.7L701.2,1363.2L705.2,1362.8L709.2,1362.4L713.2,1362.0L717.2,1361.6L721.2,1361.3L725.2,1360.9L729.2,1360.6L733.2,1360.3L737.2,1360.0L741.2,1359.7L745.2,1359.5L749.2,1359.2L753.2,1359.0L757.2,1358.8L761.2,1358.6L765.2,1358.4L769.2,1358.2L773.2,1358.0L777.2,1357.9L781.2,1357.7L785.2,1357.5L789.2,1357.4L793.2,1357.3L797.2,1357.1L801.2,1357.0L805.2,1356.9L809.3,1356.8"/>
<path stroke="#ff0000" stroke-dasharray="28.8 27.1" d="M238.0,1353.9L238.2,1357.9L238.4,1361.9L238.6,1365.9L238.9,1369.9L239.1,1373.9L239.3,1377.9L239.5,1381.9L239.7,1385.9L240.0,1389.9L240.2,1393.9L240.4,1397.9L240.6,1401.9L240.9,1406.0L241.1,1410.0L241.3,1414.0L241.5,1418.0L241.8,1422.0L242.0,1426.0L242.2,1430.0L242.5,1434.0L242.7,1438.0L242.9,1442.0L243.2,1446.0L243.4,1450.0L243.6,1454.0L243.9,1458.0L244.1,1462.0L244.4,1466.0L244.6,1470.0L244.9,1474.0L245.1,1478.0L245.4,1482.0L245.6,1486.0L245.8,1490.0L246.1,1494.0L246.3,1498.0L246.6,1502.0L246.9,1506.0L247.1,1510.0L247.4,1514.0L247.6,1518.0L247.9,1522.0L248.1,1526.0L248.4,1530.0L248.7,1534.0L248.9,1538.0L249.2,1542.0L249.5,1546.0L249.7,1550.0L250.0,1554.0L250.3,1558.0L250.6,1562.0L250.8,1566.0L251.1,1570.0L251.4,1574.0L251.7,1578.0L252.0,1582.0L252.2,1586.0L252.5,1590.0L252.8,1594.0L253.1,1598.0L253.4,1602.0L253.7,1606.0L254.0,1610.0L254.3,1614.0L254.6,1618.0L254.9,1622.0L255.2,1626.0L255.5,1630.0L255.8,1634.0L256.1,1638.0L256.4,1642.0L256.7,1646.0L257.1,1650.0L257.4,1654.0L257.7,1658.0L258.0,1662.0L258.4,1666.0L258.7,1670.0L259.0,1674.0L259.3,1678.0L259.7,1682.0L260.0,1686.0L260.4,1690.0L260.7,1694.0L261.1,1698.0L261.4,1702.0L261.8,1706.0L262.1,1710.0L262.5,1714.0L262.8,1717.9L263.2,1721.9L263.6,1725.9L263.9,1729.9L264.3,1733.9L264.7,1737.9L265.1,1741.9L265.5,1745.9L265.9,1749.9L266.3,1753.9L266.7,1757.9L267.1,1761.9L267.5,1765.8L267.9,1769.8L268.3,1773.8L268.7,1777.8L269.1,1781.8L269.6,1785.8L270.0,1789.8L270.4,1793.8L270.9,1797.7L271.3,1801.7L271.8,1805.7L272.2,1809.7L272.7,1813.7L273.2,1817.7L273.7,1821.6L274.2,1825.6L274.7,1829.6L275.2,1833.6L275.7,1837.6L276.2,1841.5L276.7,1845.5L277.2,1849.5L277.8,1853.5L278.3,1857.4L278.9,1861.4L279.4,1865.4L280.0,1869.3L280.6,1873.3L281.2,1877.3L281.8,1881.2L282.4,1885.2L283.1,1889.2L283.7,1893.1L284.4,1897.1L285.1,1901.0L285.8,1905.0L286.5,1908.9L287.2,1912.9L288.0,1916.8L288.7,1920.7L289.5,1924.7L290.3,1928.6L291.2,1932.5L292.1,1936.4L292.9,1940.3L293.9,1944.2L294.9,1948.1L295.9,1952.0L296.9,1955.9L298.0,1959.7L299.2,1963.6L300.4,1967.4L301.7,1971.2L303.1,1974.9L304.6,1978.7L306.2,1982.3L308.0,1985.9L310.0,1989.4L312.2,1992.7L314.9,1995.7L318.0,1998.3L321.6,1999.8L325.6,1999.9L329.4,1998.5L332.7,1996.2L335.6,1993.4L338.2,1990.4L340.5,1987.2L342.7,1983.8L344.8,1980.4L346.8,1976.9L348.6,1973.3L350.4,1969.7L352.1,1966.1L353.8,1962.5L355.4,1958.8L357.0,1955.1L358.5,1951.4L360.0,1947.7L361.5,1943.9L362.9,1940.2L364.3,1936.4L365.7,1932.7L367.1,1928.9L368.4,1925.1L369.7,1921.3L371.0,1917.6L372.3,1913.8L373.6,1910.0L374.9,1906.2L376.2,1902.4L377.4,1898.5L378.7,1894.7L379.9,1890.9L381.1,1887.1L382.3,1883.3L383.6,1879.5L384.8,1875.6L386.0,1871.8L387.1,1868.0L388.3,1864.1L389.5,1860.3L390.7,1856.5L391.9,1852.6L393.0,1848.8L394.2,1845.0L395.4,1841.1L396.5,1837.3L397.7,1833.5L398.9,1829.6L400.0,1825.8L401.2,1821.9L402.3,1818.1L403.5,1814.3L404.6,1810.4L405.8,1806.6L407.0,1802.7L408.1,1798.9L409.3,1795.1L410.4,1791.2L411.6,1787.4L412.8,1783.6L413.9,1779.7L415.1,1775.9L416.2,1772.0L417.4,1768.2L418.6,1764.4L419.8,1760.5L420.9,1756.7L422.1,1752.9L423.3,1749.0L424.5,1745.2L425.7,1741.4L426.9,1737.5L428.1,1733.7L429.3,1729.9L430.5,1726.1L431.7,1722.2L432.9,1718.4L434.1,1714.6L435.3,1710.8L436.6,1707.0L437.8,1703.2L439.1,1699.3L440.3,1695.5L441.6,1691.7L442.8,1687.9L444.1,1684.1L445.4,1680.3L446.7,1676.5L447.9,1672.7L449.2,1668.9L450.6,1665.1L451.9,1661.3L453.2,1657.6L454.5,1653.8L455.9,1650.0L457.2,1646.2L458.6,1642.5L460.0,1638.7L461.3,1634.9L462.7,1631.2L464.1,1627.4L465.5,1623.7L467.0,1619.9L468.4,1616.2L469.9,1612.4L471.3,1608.7L472.8,1605.0L474.3,1601.2L475.8,1597.5L477.3,1593.8L478.8,1590.1L480.4,1586.4L481.9,1582.7L483.5,1579.0L485.1,1575.3L486.7,1571.7L488.3,1568.0L490.0,1564.3L491.6,1560.7L493.3,1557.0L495.0,1553.4L496.7,1549.8L498.5,1546.2L500.2,1542.6L502.0,1539.0L503.8,1535.4L505.6,1531.8L507.5,1528.3L509.4,1524.7L511.3,1521.2L513.2,1517.7L515.1,1514.2L517.1,1510.7L519.1,1507.2L521.1,1503.7L523.2,1500.3L525.3,1496.9L527.4,1493.5L529.5,1490.1L531.7,1486.7L533.9,1483.4L536.2,1480.1L538.5,1476.8L540.8,1473.5L543.2,1470.3L545.5,1467.0L548.0,1463.8L550.4,1460.7L553.0,1457.6L555.5,1454.5L558.1,1451.4L560.7,1448.4L563.4,1445.4L566.1,1442.4L568.9,1439.5L571.7,1436.7L574.5,1433.8L577.4,1431.1L580.4,1428.3L583.4,1425.7L586.4,1423.0L589.4,1420.4L592.6,1417.9L595.7,1415.5L598.9,1413.0L602.2,1410.7L605.5,1408.4L608.8,1406.2L612.2,1404.0L615.6,1401.9L619.0,1399.8L622.5,1397.8L626.0,1395.9L629.6,1394.0L633.1,1392.2L636.8,1390.5L640.4,1388.8L644.1,1387.2L647.8,1385.7L651.5,1384.2L655.2,1382.7L659.0,1381.4L662.8,1380.0L666.6,1378.8L670.4,1377.6L674.3,1376.4L678.1,1375.3L682.0,1374.2L685.9,1373.2L689.8,1372.3L693.7,1371.4L697.6,1370.5L701.5,1369.7L705.4,1368.9L709.4,1368.1L713.3,1367.4L717.3,1366.7L721.2,1366.1L725.2,1365.5L729.2,1364.9L733.1,1364.3L737.1,1363.8L741.1,1363.3L745.1,1362.8L749.0,1362.4L753.0,1361.9L757.0,1361.5L761.0,1361.1L765.0,1360.8L769.0,1360.4L773.0,1360.1L777.0,1359.8L781.0,1359.5L785.0,1359.2L789.0,1358.9L793.0,1358.7L797.0,1358.4L801.0,1358.2L805.0,1358.0L809.0,1357.8"/>
<path stroke="#ff0000" stroke-dasharray="28.8 27.1" d="M238.0,1353.9L238.2,1357.9L238.4,1361.9L238.5,1365.9L238.7,1369.9L238.9,1373.9L239.1,1377.9L239.3,1381.9L239.5,1385.9L239.6,1389.9L239.8,1393.9L240.0,1397.9L240.2,1402.0L240.4,1406.0L240.6,1410.0L240.8,1414.0L241.0,1418.0L241.1,1422.0L241.3,1426.0L241.5,1430.0L241.7,1434.0L241.9,1438.0L242.1,1442.0L242.3,1446.0L242.5,1450.0L242.7,1454.0L242.9,1458.0L243.1,1462.0L243.3,1466.0L243.5,1470.0L243.7,1474.0L243.9,1478.0L244.1,1482.0L244.3,1486.0L244.5,1490.0L244.7,1494.0L244.9,1498.0L245.1,1502.0L245.3,1506.1L245.5,1510.1L245.7,1514.1L245.9,1518.1L246.1,1522.1L246.3,1526.1L246.5,1530.1L246.7,1534.1L246.9,1538.1L247.2,1542.1L247.4,1546.1L247.6,1550.1L247.8,1554.1L248.0,1558.1L248.2,1562.1L248.4,1566.1L248.7,1570.1L248.9,1574.1L249.1,1578.1L249.3,1582.1L249.5,1586.1L249.7,1590.1L250.0,1594.1L250.2,1598.1L250.4,1602.1L250.6,1606.1L250.9,1610.1L251.1,1614.1L251.3,1618.1L251.5,1622.1L251.8,1626.1L252.0,1630.1L252.2,1634.1L252.5,1638.1L252.7,1642.1L252.9,1646.1L253.2,1650.1L253.4,1654.1L253.6,1658.1L253.9,1662.2L254.1,1666.2L254.4,1670.2L254.6,1674.2L254.8,1678.2L255.1,1682.2L255.3,1686.2L255.6,1690.2L255.8,1694.2L256.1,1698.2L256.3,1702.2L256.6,1706.2L256.8,1710.2L257.1,1714.2L257.3,1718.2L257.6,1722.2L257.9,1726.2L258.1,1730.2L258.4,1734.2L258.6,1738.2L258.9,1742.2L259.2,1746.2L259.4,1750.2L259.7,1754.2L260.0,1758.2L260.2,1762.2L260.5,1766.2L260.8,1770.2L261.1,1774.2L261.3,1778.2L261.6,1782.2L261.9,1786.2L262.2,1790.2L262.5,1794.2L262.7,1798.2L263.0,1802.2L263.3,1806.2L263.6,1810.1L263.9,1814.1L264.2,1818.1L264.5,1822.1L264.8,1826.1L265.1,1830.1L265.4,1834.1L265.7,1838.1L266.0,1842.1L266.3,1846.1L266.6,1850.1L266.9,1854.1L267.2,1858.1L267.5,1862.1L267.9,1866.1L268.2,1870.1L268.5,1874.1L268.8,1878.1L269.1,1882.1L269.5,1886.1L269.8,1890.1L270.1,1894.1L270.5,1898.1L270.8,1902.1L271.2,1906.1L271.5,1910.1L271.9,1914.0L272.2,1918.0L272.6,1922.0L272.9,1926.0L273.3,1930.0L273.6,1934.0L274.0,1938.0L274.4,1942.0L274.7,1946.0L275.1,1950.0L275.5,1954.0L275.9,1958.0L276.3,1961.9L276.6,1965.9L277.0,1969.9L277.4,1973.9L277.8,1977.9L278.2,1981.9L278.7,1985.9L279.1,1989.9L279.5,1993.9L279.9,1997.8L280.3,2001.8L280.8,2005.8L281.2,2009.8L281.6,2013.8L282.1,2017.8L282.5,2021.7L283.0,2025.7L283.5,2029.7L283.9,2033.7L284.4,2037.7L284.9,2041.6L285.4,2045.6L285.9,2049.6L286.4,2053.6L286.9,2057.6L287.4,2061.5L287.9,2065.5L288.5,2069.5L289.0,2073.5L289.6,2077.4L290.1,2081.4L290.7,2085.4L291.3,2089.3L291.9,2093.3L292.5,2097.3L293.1,2101.2L293.7,2105.2L294.3,2109.1L295.0,2113.1L295.7,2117.0L296.4,2121.0L297.0,2124.9L297.8,2128.9L298.5,2132.8L299.3,2136.8L300.0,2140.7L300.8,2144.6L301.6,2148.5L302.5,2152.5L303.4,2156.4L304.3,2160.3L305.2,2164.2L306.2,2168.1L307.2,2171.9L308.3,2175.8L309.4,2179.6L310.6,2183.5L311.9,2187.3L313.2,2191.0L314.7,2194.8L316.3,2198.5L318.0,2202.1L319.9,2205.6L322.1,2209.0L324.6,2212.1L327.7,2214.7L331.3,2216.2L335.3,2216.2L339.0,2214.6L342.1,2212.1L344.9,2209.2L347.3,2206.0L349.5,2202.6L351.6,2199.2L353.5,2195.7L355.3,2192.1L357.0,2188.5L358.6,2184.8L360.2,2181.1L361.7,2177.4L363.2,2173.7L364.6,2169.9L366.0,2166.2L367.4,2162.4L368.7,2158.6L370.0,2154.8L371.3,2151.0L372.5,2147.2L373.7,2143.4L374.9,2139.6L376.1,2135.7L377.3,2131.9L378.5,2128.1L379.6,2124.2L380.7,2120.4L381.9,2116.5L383.0,2112.7L384.1,2108.8L385.1,2105.0L386.2,2101.1L387.3,2097.2L388.3,2093.4L389.4,2089.5L390.4,2085.6L391.5,2081.8L392.5,2077.9L393.5,2074.0L394.5,2070.1L395.5,2066.3L396.5,2062.4L397.5,2058.5L398.5,2054.6L399.5,2050.7L400.5,2046.8L401.5,2043.0L402.5,2039.1L403.4,2035.2L404.4,2031.3L405.4,2027.4L406.4,2023.5L407.3,2019.6L408.3,2015.7L409.2,2011.8L410.2,2007.9L411.2,2004.1L412.1,2000.2L413.1,1996.3L414.0,1992.4L415.0,1988.5L415.9,1984.6L416.9,1980.7L417.8,1976.8L418.8,1972.9L419.7,1969.0L420.7,1965.1L421.6,1961.2L422.6,1957.3L423.5,1953.4L424.4,1949.5L425.4,1945.6L426.3,1941.7L427.3,1937.8L428.2,1933.9L429.2,1930.1L430.1,1926.2L431.1,1922.3L432.0,1918.4L433.0,1914.5L433.9,1910.6L434.9,1906.7L435.9,1902.8L436.8,1898.9L437.8,1895.0L438.7,1891.1L439.7,1887.2L440.7,1883.3L441.6,1879.4L442.6,1875.6L443.6,1871.7L444.5,1867.8L445.5,1863.9L446.5,1860.0L447.5,1856.1L448.5,1852.2L449.5,1848.3L450.4,1844.5L451.4,1840.6L452.4,1836.7L453.4,1832.8L454.4,1828.9L455.4,1825.1L456.4,1821.2L457.5,1817.3L458.5,1813.4L459.5,1809.5L460.5,1805.7L461.6,1801.8L462.6,1797.9L463.6,1794.0L464.7,1790.2L465.7,1786.3L466.8,1782.4L467.8,1778.6L468.9,1774.7L469.9,1770.8L471.0,1767.0L472.1,1763.1L473.2,1759.3L474.3,1755.4L475.3,1751.5L476.4,1747.7L477.5,1743.8L478.7,1740.0L479.8,1736.1L480.9,1732.3L482.0,1728.4L483.2,1724.6L484.3,1720.7L485.4,1716.9L486.6,1713.1L487.8,1709.2L488.9,1705.4L490.1,1701.6L491.3,1697.7L492.5,1693.9L493.7,1690.1L494.9,1686.3L496.1,1682.4L497.4,1678.6L498.6,1674.8L499.8,1671.0L501.1,1667.2L502.4,1663.4L503.6,1659.6L504.9,1655.8L506.2,1652.0L507.5,1648.2L508.9,1644.4L510.2,1640.7L511.5,1636.9L512.9,1633.1L514.2,1629.3L515.6,1625.6L517.0,1621.8L518.4,1618.1L519.8,1614.3L521.3,1610.6L522.7,1606.8L524.2,1603.1L525.6,1599.4L527.1,1595.6L528.6,1591.9L530.1,1588.2L531.7,1584.5L533.2,1580.8L534.8,1577.1L536.4,1573.4L538.0,1569.8L539.6,1566.1L541.2,1562.4L542.9,1558.8L544.6,1555.1L546.3,1551.5L548.0,1547.9L549.7,1544.3L551.5,1540.7L553.3,1537.1L555.1,1533.5L556.9,1529.9L558.8,1526.4L560.7,1522.9L562.6,1519.3L564.5,1515.8L566.5,1512.3L568.4,1508.8L570.5,1505.4L572.5,1501.9L574.6,1498.5L576.7,1495.1L578.8,1491.7L581.0,1488.3L583.2,1485.0L585.5,1481.7L587.7,1478.4L590.0,1475.1L592.4,1471.8L594.8,1468.6L597.2,1465.4L599.6,1462.3L602.1,1459.1L604.7,1456.0L607.3,1452.9L609.9,1449.9L612.5,1446.9L615.3,1444.0L618.0,1441.0L620.8,1438.2L623.6,1435.3L626.5,1432.5L629.4,1429.8L632.4,1427.1L635.4,1424.5L638.5,1421.9L641.6,1419.3L644.7,1416.8L647.9,1414.4L651.1,1412.0L654.4,1409.7L657.7,1407.4L661.0,1405.2L664.4,1403.1L667.9,1401.0L671.3,1399.0L674.8,1397.0L678.4,1395.1L681.9,1393.3L685.5,1391.5L689.1,1389.8L692.8,1388.2L696.5,1386.6L700.2,1385.1L703.9,1383.6L707.7,1382.2L711.4,1380.8L715.2,1379.5L719.0,1378.3L722.9,1377.1L726.7,1376.0L730.6,1374.9L734.4,1373.8L738.3,1372.8L742.2,1371.9L746.1,1371.0L750.0,1370.1L754.0,1369.3L757.9,1368.5L761.8,1367.8L765.8,1367.1L769.7,1366.4L773.7,1365.7L777.6,1365.1L781.6,1364.6L785.6,1364.0L789.6,1363.5L793.5,1363.0L797.5,1362.5L801.5,1362.1L805.5,1361.6L809.5,1361.2"/>
<path stroke="#ff0000" stroke-dasharray="28.8 27.1" d="M238.0,1353.9L238.2,1357.9L238.3,1361.9L238.5,1365.9L238.7,1369.9L238.8,1373.9L239.0,1377.9L239.2,1381.9L239.3,1385.9L239.5,1389.9L239.7,1393.9L239.8,1397.9L240.0,1401.9L240.2,1405.9L240.4,1409.9L240.5,1413.9L240.7,1417.9L240.9,1421.9L241.0,1425.9L241.2,1429.9L241.4,1433.9L241.6,1437.9L241.7,1441.9L241.9,1446.0L242.1,1450.0L242.3,1454.0L242.4,1458.0L242.6,1462.0L242.8,1466.0L243.0,1470.0L243.2,1474.0L243.3,1478.0L243.5,1482.0L243.7,1486.0L243.9,1490.0L244.1,1494.0L244.2,1498.0L244.4,1502.0L244.6,1506.0L244.8,1510.0L245.0,1514.0L245.2,1518.0L245.3,1522.0L245.5,1526.0L245.7,1530.0L245.9,1534.0L246.1,1538.0L246.3,1542.0L246.5,1546.0L246.6,1550.0L246.8,1554.0L247.0,1558.0L247.2,1562.0L247.4,1566.0L247.6,1570.0L247.8,1574.0L248.0,1578.0L248.2,1582.0L248.4,1586.0L248.6,1590.0L248.8,1594.0L249.0,1598.0L249.1,1602.0L249.3,1606.0L249.5,1610.0L249.7,1614.0L249.9,1618.0L250.1,1622.0L250.3,1626.0L250.5,1630.0L250.7,1634.0L250.9,1638.0L251.1,1642.0L251.4,1646.0L251.6,1650.0L251.8,1654.0L252.0,1658.0L252.2,1662.0L252.4,1666.0L252.6,1670.0L252.8,1674.0L253.0,1678.0L253.2,1682.0L253.4,1686.0L253.6,1690.0L253.8,1694.0L254.1,1698.0L254.3,1702.0L254.5,1706.0L254.7,1710.0L254.9,1714.0L255.1,1718.0L255.4,1722.0L255.6,1726.0L255.8,1730.0L256.0,1734.0L256.2,1738.0L256.5,1742.0L256.7,1746.0L256.9,1750.0L257.1,1754.0L257.4,1758.0L257.6,1762.0L257.8,1766.0L258.0,1770.0L258.3,1774.0L258.5,1778.0L258.7,1782.0L259.0,1786.0L259.2,1790.0L259.4,1794.0L259.7,1798.0L259.9,1802.0L260.1,1806.0L260.4,1810.0L260.6,1814.0L260.8,1818.0L261.1,1822.0L261.3,1826.0L261.6,1830.0L261.8,1834.0L262.1,1838.0L262.3,1842.0L262.6,1846.0L262.8,1850.0L263.1,1854.0L263.3,1858.0L263.6,1862.0L263.8,1866.0L264.1,1870.0L264.3,1874.0L264.6,1878.0L264.8,1882.0L265.1,1886.0L265.4,1890.0L265.6,1894.0L265.9,1898.0L266.2,1902.0L266.4,1906.0L266.7,1910.0L267.0,1914.0L267.2,1918.0L267.5,1922.0L267.8,1925.9L268.0,1929.9L268.3,1933.9L268.6,1937.9L268.9,1941.9L269.2,1945.9L269.4,1949.9L269.7,1953.9L270.0,1957.9L270.3,1961.9L270.6,1965.9L270.9,1969.9L271.2,1973.9L271.5,1977.9L271.8,1981.9L272.1,1985.9L272.4,1989.9L272.7,1993.9L273.0,1997.9L273.3,2001.9L273.6,2005.9L273.9,2009.8L274.2,2013.8L274.5,2017.8L274.8,2021.8L275.2,2025.8L275.5,2029.8L275.8,2033.8L276.1,2037.8L276.5,2041.8L276.8,2045.8L277.1,2049.8L277.4,2053.8L277.8,2057.8L278.1,2061.8L278.5,2065.7L278.8,2069.7L279.2,2073.7L279.5,2077.7L279.9,2081.7L280.2,2085.7L280.6,2089.7L280.9,2093.7L281.3,2097.7L281.7,2101.7L282.0,2105.6L282.4,2109.6L282.8,2113.6L283.2,2117.6L283.6,2121.6L284.0,2125.6L284.3,2129.6L284.7,2133.6L285.1,2137.5L285.5,2141.5L286.0,2145.5L286.4,2149.5L286.8,2153.5L287.2,2157.5L287.6,2161.4L288.1,2165.4L288.5,2169.4L288.9,2173.4L289.4,2177.4L289.8,2181.4L290.3,2185.3L290.7,2189.3L291.2,2193.3L291.7,2197.3L292.2,2201.2L292.7,2205.2L293.1,2209.2L293.6,2213.2L294.2,2217.1L294.7,2221.1L295.2,2225.1L295.7,2229.1L296.3,2233.0L296.8,2237.0L297.4,2241.0L297.9,2244.9L298.5,2248.9L299.1,2252.9L299.7,2256.8L300.3,2260.8L300.9,2264.7L301.5,2268.7L302.2,2272.6L302.8,2276.6L303.5,2280.5L304.2,2284.5L304.9,2288.4L305.6,2292.4L306.4,2296.3L307.1,2300.2L307.9,2304.2L308.7,2308.1L309.6,2312.0L310.4,2315.9L311.3,2319.8L312.2,2323.7L313.2,2327.6L314.2,2331.5L315.3,2335.4L316.4,2339.2L317.5,2343.0L318.8,2346.9L320.1,2350.6L321.5,2354.4L323.0,2358.1L324.7,2361.7L326.6,2365.3L328.7,2368.6L331.2,2371.8L334.3,2374.4L337.9,2375.9L341.9,2375.7L345.4,2374.0L348.5,2371.3L351.1,2368.3L353.4,2365.0L355.5,2361.6L357.4,2358.1L359.2,2354.5L360.9,2350.9L362.6,2347.3L364.1,2343.6L365.6,2339.8L367.0,2336.1L368.4,2332.3L369.7,2328.6L371.0,2324.8L372.3,2321.0L373.5,2317.2L374.8,2313.3L375.9,2309.5L377.1,2305.7L378.2,2301.8L379.4,2298.0L380.5,2294.1L381.6,2290.3L382.6,2286.4L383.7,2282.6L384.7,2278.7L385.8,2274.8L386.8,2270.9L387.8,2267.1L388.8,2263.2L389.8,2259.3L390.7,2255.4L391.7,2251.5L392.7,2247.6L393.6,2243.8L394.6,2239.9L395.5,2236.0L396.4,2232.1L397.4,2228.2L398.3,2224.3L399.2,2220.4L400.1,2216.5L401.0,2212.6L401.9,2208.7L402.8,2204.8L403.7,2200.9L404.6,2196.9L405.4,2193.0L406.3,2189.1L407.2,2185.2L408.1,2181.3L408.9,2177.4L409.8,2173.5L410.6,2169.6L411.5,2165.7L412.3,2161.7L413.2,2157.8L414.0,2153.9L414.9,2150.0L415.7,2146.1L416.6,2142.2L417.4,2138.3L418.3,2134.3L419.1,2130.4L419.9,2126.5L420.8,2122.6L421.6,2118.7L422.4,2114.7L423.3,2110.8L424.1,2106.9L424.9,2103.0L425.7,2099.1L426.6,2095.1L427.4,2091.2L428.2,2087.3L429.0,2083.4L429.9,2079.5L430.7,2075.5L431.5,2071.6L432.3,2067.7L433.2,2063.8L434.0,2059.9L434.8,2055.9L435.6,2052.0L436.5,2048.1L437.3,2044.2L438.1,2040.3L438.9,2036.3L439.8,2032.4L440.6,2028.5L441.4,2024.6L442.2,2020.7L443.1,2016.7L443.9,2012.8L444.7,2008.9L445.5,2005.0L446.4,2001.1L447.2,1997.2L448.0,1993.2L448.9,1989.3L449.7,1985.4L450.5,1981.5L451.4,1977.6L452.2,1973.6L453.1,1969.7L453.9,1965.8L454.7,1961.9L455.6,1958.0L456.4,1954.1L457.3,1950.2L458.1,1946.2L459.0,1942.3L459.8,1938.4L460.7,1934.5L461.6,1930.6L462.4,1926.7L463.3,1922.8L464.2,1918.8L465.0,1914.9L465.9,1911.0L466.8,1907.1L467.6,1903.2L468.5,1899.3L469.4,1895.4L470.3,1891.5L471.2,1887.6L472.1,1883.7L472.9,1879.8L473.8,1875.9L474.7,1872.0L475.6,1868.1L476.5,1864.2L477.4,1860.2L478.4,1856.3L479.3,1852.4L480.2,1848.5L481.1,1844.7L482.0,1840.8L483.0,1836.9L483.9,1833.0L484.8,1829.1L485.8,1825.2L486.7,1821.3L487.7,1817.4L488.6,1813.5L489.6,1809.6L490.5,1805.7L491.5,1801.8L492.5,1797.9L493.5,1794.1L494.4,1790.2L495.4,1786.3L496.4,1782.4L497.4,1778.5L498.4,1774.7L499.4,1770.8L500.4,1766.9L501.5,1763.0L502.5,1759.2L503.5,1755.3L504.6,1751.4L505.6,1747.5L506.6,1743.7L507.7,1739.8L508.8,1736.0L509.8,1732.1L510.9,1728.2L512.0,1724.4L513.1,1720.5L514.2,1716.7L515.3,1712.8L516.4,1709.0L517.5,1705.1L518.6,1701.3L519.8,1697.4L520.9,1693.6L522.1,1689.8L523.2,1685.9L524.4,1682.1L525.6,1678.3L526.8,1674.4L528.0,1670.6L529.2,1666.8L530.4,1663.0L531.6,1659.2L532.8,1655.4L534.1,1651.6L535.3,1647.7L536.6,1643.9L537.9,1640.2L539.2,1636.4L540.5,1632.6L541.8,1628.8L543.1,1625.0L544.5,1621.2L545.8,1617.5L547.2,1613.7L548.6,1609.9L550.0,1606.2L551.4,1602.4L552.8,1598.7L554.2,1594.9L555.7,1591.2L557.2,1587.5L558.6,1583.8L560.1,1580.1L561.7,1576.3L563.2,1572.6L564.7,1569.0L566.3,1565.3L567.9,1561.6L569.5,1557.9L571.1,1554.3L572.8,1550.6L574.5,1547.0L576.2,1543.3L577.9,1539.7L579.6,1536.1L581.4,1532.5L583.1,1528.9L584.9,1525.3L586.8,1521.8L588.6,1518.2L590.5,1514.7L592.4,1511.2L594.4,1507.7L596.3,1504.2L598.3,1500.7L600.4,1497.3L602.4,1493.8L604.5,1490.4L606.6,1487.0L608.8,1483.6L611.0,1480.3L613.2,1476.9L615.5,1473.6L617.8,1470.4L620.1,1467.1L622.5,1463.9L624.9,1460.7L627.3,1457.5L629.8,1454.4L632.4,1451.3L634.9,1448.2L637.6,1445.2L640.2,1442.2L642.9,1439.2L645.7,1436.3L648.5,1433.5L651.3,1430.6L654.2,1427.9L657.2,1425.1L660.1,1422.5L663.2,1419.8L666.2,1417.3L669.4,1414.7L672.5,1412.3L675.7,1409.9L679.0,1407.5L682.3,1405.3L685.6,1403.0L689.0,1400.9L692.4,1398.8L695.8,1396.8L699.3,1394.8L702.9,1392.9L706.4,1391.1L710.0,1389.3L713.6,1387.6L717.3,1386.0L721.0,1384.4L724.7,1382.9L728.4,1381.4L732.2,1380.0L735.9,1378.7L739.7,1377.4L743.6,1376.2L747.4,1375.0L751.2,1373.9L755.1,1372.8L759.0,1371.8L762.9,1370.9L766.8,1369.9L770.7,1369.1L774.6,1368.2L778.5,1367.4L782.5,1366.7L786.4,1366.0L790.4,1365.3L794.3,1364.7L798.3,1364.1L802.2,1363.5L806.2,1363.0L810.2,1362.5"/>
<path stroke="#ff0000" stroke-dasharray="48.94 6.9" d="M815.9,1353.9H1707.2"/>
</g>
<path d="M1158,1516.1H1400.8" stroke="#00ff00" stroke-width="10.4" fill="none"/>
<path d="M1155.1,1603.3H1408.3" stroke="#ff0000" stroke-width="9.8" stroke-dasharray="28.8 27.1" fill="none"/>
<rect x="1150" y="1592" width="14.6" height="23" fill="#fff"/>
<g font-family="'Liberation Serif', 'Times New Roman', serif" font-weight="bold" font-size="56.6" fill="#000">
<text x="1418.9" y="1534.9">n = 2.0</text>
<text x="1425.5" y="1623.1">n = 4.0</text>
<text x="1052.3" y="1582.5">(b)</text>
<text transform="translate(720.4,1965.9) scale(1.16,1)" font-size="57">λ</text>
<text x="771.2" y="1965.9" font-size="56">= 0.3, 0.6, 0.9, 1.2, 1.5</text>
</g>
<rect x="694.1" y="1898.7" width="626.3" height="94.8" fill="none" stroke="#000" stroke-width="4.4"/>
<path d="M600.4,1805.4L379.8,1498.2" stroke="#000" stroke-width="5.7" fill="none"/>
<path d="M359.2,1469.4L402.3,1498.4L379.8,1498.2L372.9,1519.5Z" fill="#000" stroke="#000" stroke-width="1.5" stroke-linejoin="round"/>
</svg>
</body></html>
